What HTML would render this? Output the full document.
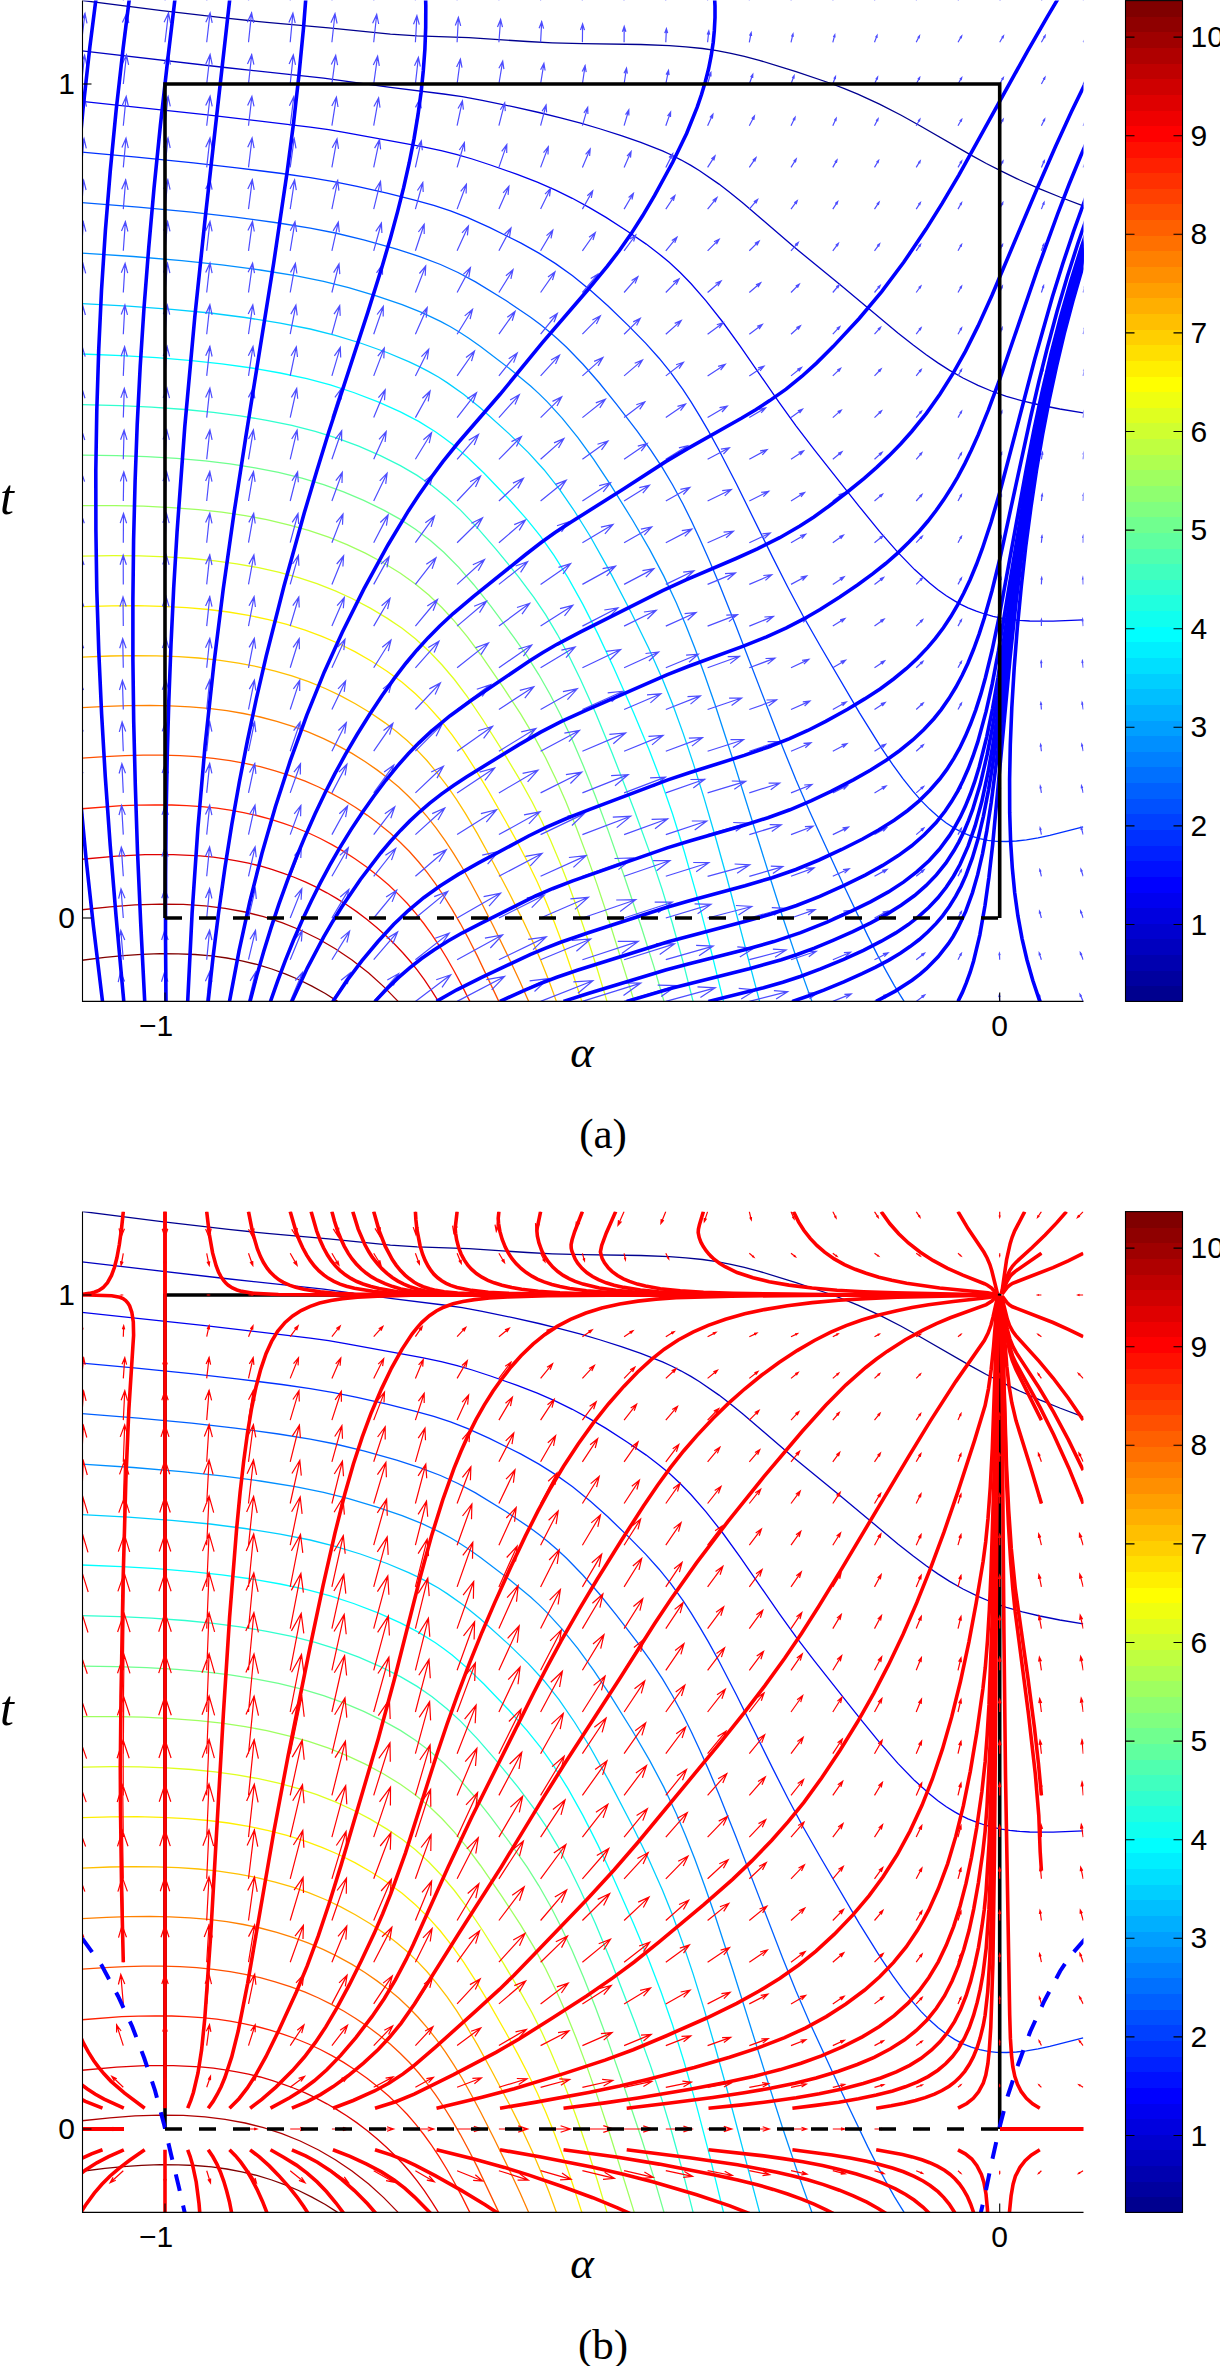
<!DOCTYPE html><html><head><meta charset="utf-8"><style>html,body{margin:0;padding:0;background:#fff}svg{display:block}</style></head><body><svg width="1220" height="2366" viewBox="0 0 1220 2366"><style>.tl{font-family:"Liberation Sans",sans-serif;font-size:30px;fill:#000}.al{font-family:"Liberation Serif",serif;font-style:italic;font-size:45px;fill:#000}.alt{font-family:"Liberation Serif",serif;font-style:italic;font-size:50px;fill:#000}.cap{font-family:"Liberation Serif",serif;font-size:43px;fill:#000}</style><rect width="1220" height="2366" fill="#fff"/><clipPath id="clipa"><rect x="82.5" y="0.6" width="1001.0" height="1000.8"/></clipPath><g clip-path="url(#clipa)"><g fill="none" stroke-width="1.3"><path d="M1083.2,205.8 L1059.8,197.0 L1039.8,188.8 L1019.7,180.0 L1001.4,171.2 L986.3,163.5 L969.7,154.4 L920.0,125.7 L901.2,115.2 L879.5,104.1 L857.8,94.1 L844.4,88.6 L831.1,83.5 L796.0,71.7 L759.3,60.3 L744.3,56.3 L730.9,53.3 L716.9,50.6 L702.5,48.5 L685.9,46.8 L669.2,45.6 L640.8,44.5 L582.4,43.7 L552.3,42.8 L527.3,41.5 L468.8,37.7 L417.1,35.9 L390.4,34.2 L328.6,27.9 L266.8,22.4 L228.4,18.4 L161.7,10.7 L83.1,0.6" stroke="#00008f"/><path d="M1083.2,412.8 L1059.8,409.0 L1039.8,405.0 L1022.4,400.9 L1006.4,396.3 L991.4,391.0 L978.0,385.4 L963.0,378.0 L949.6,370.4 L937.9,362.9 L926.2,354.8 L912.9,344.8 L897.9,332.9 L839.6,284.2 L794.4,247.3 L742.3,202.4 L729.9,192.4 L719.0,184.1 L699.6,170.7 L690.9,165.4 L680.8,159.8 L672.5,155.5 L662.5,150.9 L640.8,142.4 L621.3,135.7 L600.5,129.0 L580.7,123.2 L560.6,117.8 L538.9,112.5 L513.9,106.9 L482.2,100.4 L462.2,96.7 L443.6,94.0 L390.4,87.4 L323.6,78.2 L225.1,67.5 L81.5,50.9" stroke="#0000bf"/><path d="M1083.2,619.9 L1053.1,621.2 L1029.7,621.0 L1019.7,620.4 L1009.7,619.4 L1001.4,618.1 L993.0,616.3 L984.7,614.0 L976.3,611.2 L968.0,607.8 L961.3,604.6 L954.6,600.9 L946.3,595.7 L937.9,589.7 L929.6,583.1 L914.6,569.6 L897.9,552.4 L879.5,531.4 L859.5,506.8 L814.4,449.9 L796.0,425.8 L779.3,402.6 L740.0,345.9 L723.1,322.5 L706.0,300.8 L690.9,283.5 L680.2,272.5 L669.2,262.2 L659.1,253.9 L646.2,244.1 L627.4,231.2 L606.0,217.4 L589.0,207.4 L572.3,198.3 L555.6,190.1 L537.3,182.1 L517.2,174.4 L490.5,165.0 L472.2,159.0 L457.1,154.6 L441.2,150.7 L422.1,146.7 L347.0,132.8 L328.6,129.7 L310.2,127.1 L205.1,114.7 L81.5,101.4" stroke="#0000ef"/><path d="M1083.2,826.9 L1049.8,835.4 L1038.1,837.8 L1026.4,839.8 L1016.4,841.0 L1006.4,841.5 L996.4,841.3 L988.0,840.3 L979.7,838.7 L971.3,836.2 L963.0,832.8 L954.6,828.4 L946.3,823.0 L937.9,816.5 L929.6,809.1 L921.2,800.6 L912.9,791.2 L902.9,778.6 L892.9,764.9 L881.2,747.7 L859.5,712.8 L821.1,647.5 L802.7,615.2 L787.7,587.0 L772.7,557.4 L736.6,484.3 L718.5,449.3 L708.4,430.9 L699.6,415.9 L690.9,401.7 L682.7,389.2 L670.8,372.7 L659.1,358.2 L645.8,343.4 L628.6,325.9 L607.8,305.8 L590.7,290.5 L572.6,275.8 L555.6,263.6 L538.9,253.1 L520.6,242.9 L489.4,227.4 L467.2,217.4 L450.5,210.9 L433.8,205.4 L413.7,199.8 L387.0,193.2 L357.0,186.4 L333.6,181.6 L310.2,177.6 L281.9,173.5 L236.8,167.8 L193.4,162.9 L136.6,157.1 L81.5,152.0" stroke="#0030ff"/><path d="M904.1,1001.4 L894.5,985.8 L886.2,971.1 L877.8,955.6 L867.8,935.9 L842.8,883.5 L809.4,810.9 L796.0,780.0 L782.7,747.3 L735.4,624.4 L718.7,582.7 L708.9,559.4 L700.0,539.4 L691.4,521.0 L683.1,504.3 L672.5,484.7 L662.5,467.9 L650.8,450.1 L637.0,430.9 L616.6,404.3 L599.0,382.5 L583.0,364.2 L566.8,347.5 L557.9,339.2 L549.0,331.4 L540.0,324.2 L530.6,317.2 L506.3,300.8 L475.5,281.9 L458.0,272.5 L440.5,264.5 L420.4,256.8 L396.7,249.1 L363.7,239.9 L335.3,233.0 L310.2,228.1 L278.5,223.0 L235.1,217.1 L191.7,212.2 L138.3,207.1 L81.5,202.5" stroke="#0060ff"/><path d="M811.9,1001.4 L797.7,961.8 L782.7,917.3 L767.7,870.3 L733.5,761.2 L715.0,704.5 L704.5,674.5 L694.7,647.8 L685.5,624.4 L676.3,602.7 L663.8,576.1 L649.6,549.4 L633.1,521.0 L610.3,484.3 L593.7,459.3 L577.9,437.6 L562.3,418.3 L547.3,401.9 L538.9,393.6 L530.6,386.0 L510.6,369.4 L480.5,346.5 L468.8,338.3 L458.8,331.8 L450.5,326.8 L440.5,321.4 L422.1,312.7 L402.1,304.7 L377.0,296.1 L348.6,287.7 L323.6,281.4 L295.2,275.7 L260.2,270.0 L221.8,264.9 L181.7,260.7 L133.3,256.5 L81.5,253.0" stroke="#008fff"/><path d="M759.6,1001.4 L726.9,878.0 L715.2,836.3 L704.0,797.9 L693.1,762.9 L683.0,732.9 L672.7,704.5 L662.5,679.2 L648.5,647.8 L631.3,612.8 L608.7,569.4 L590.0,536.0 L574.4,511.0 L559.0,488.7 L544.0,469.7 L528.4,452.6 L508.9,433.6 L480.5,408.1 L463.6,394.2 L447.1,382.6 L438.8,377.3 L428.8,371.6 L418.7,366.4 L408.7,361.6 L387.0,352.5 L360.3,343.0 L335.3,335.3 L310.2,329.0 L280.2,323.1 L245.1,317.5 L210.1,313.0 L171.7,309.3 L128.3,306.1 L81.5,303.5" stroke="#00cfff"/><path d="M723.5,1001.4 L709.6,944.7 L696.5,894.6 L684.2,851.3 L672.5,813.8 L661.2,781.2 L649.0,749.5 L633.6,712.8 L613.7,667.8 L598.1,634.4 L582.9,604.4 L568.0,577.7 L554.0,555.3 L540.6,536.4 L526.9,519.3 L509.0,499.3 L483.9,473.0 L467.2,457.0 L452.1,444.1 L443.8,437.7 L435.4,431.8 L418.7,421.4 L400.4,411.8 L378.7,402.1 L353.6,392.5 L330.3,384.9 L306.9,378.7 L280.2,373.0 L251.8,368.0 L221.8,363.8 L191.7,360.6 L156.7,357.7 L121.6,355.7 L81.5,354.0" stroke="#00ffff"/><path d="M693.1,1001.4 L682.5,959.8 L672.3,923.0 L662.2,889.6 L650.5,854.6 L634.7,811.2 L612.1,752.9 L595.5,712.8 L580.5,679.5 L569.0,656.0 L557.3,634.3 L545.6,614.7 L533.9,597.3 L518.0,576.1 L496.1,549.4 L477.2,527.6 L460.5,510.1 L446.9,497.7 L432.1,485.8 L417.1,475.4 L400.4,465.6 L380.4,455.6 L358.7,446.2 L336.9,438.1 L315.2,431.3 L291.9,425.4 L266.8,420.3 L240.1,415.8 L213.4,412.3 L185.0,409.5 L151.6,407.1 L119.9,405.6 L81.5,404.6" stroke="#30ffcf"/><path d="M664.0,1001.4 L653.8,966.4 L641.6,928.0 L624.8,878.0 L607.8,829.6 L595.4,796.2 L583.5,766.2 L572.1,739.5 L560.6,715.0 L550.1,694.5 L538.9,674.8 L527.3,656.4 L514.3,637.8 L490.8,606.1 L473.8,584.7 L458.8,567.4 L443.8,552.3 L430.4,540.6 L415.4,529.2 L400.4,519.4 L383.7,510.1 L363.7,500.3 L343.6,491.8 L323.6,484.6 L301.9,478.1 L278.5,472.4 L255.1,467.8 L230.1,463.8 L205.1,460.8 L176.7,458.3 L146.6,456.6 L116.6,455.6 L81.5,455.1" stroke="#70ff8f"/><path d="M634.2,1001.4 L608.2,918.0 L597.1,884.6 L586.5,854.6 L575.8,826.3 L565.7,801.2 L555.6,778.5 L545.6,757.8 L533.9,736.1 L520.6,713.9 L502.4,686.1 L480.5,654.5 L467.2,636.7 L454.4,621.1 L442.1,607.8 L428.8,595.1 L415.4,584.0 L400.4,573.3 L383.7,563.0 L365.3,553.2 L347.0,544.6 L328.6,537.2 L308.6,530.4 L288.5,524.8 L266.8,519.7 L245.1,515.6 L221.8,512.2 L198.4,509.6 L171.7,507.6 L143.3,506.2 L114.9,505.6 L81.5,505.6" stroke="#9fff60"/><path d="M607.0,1001.4 L596.9,968.0 L587.4,938.2 L578.2,911.3 L569.0,885.8 L560.1,863.0 L550.6,840.4 L541.8,821.3 L532.3,802.3 L518.9,778.2 L502.7,751.2 L482.7,719.5 L466.9,696.2 L454.4,679.5 L442.1,665.0 L428.8,651.0 L415.4,638.8 L402.1,628.3 L387.0,618.1 L370.3,608.1 L352.0,598.5 L335.3,590.9 L316.9,583.7 L298.6,577.7 L278.5,572.2 L258.5,567.7 L236.8,563.8 L215.1,560.8 L191.7,558.5 L166.7,556.9 L140.0,555.9 L113.2,555.7 L81.5,556.1" stroke="#dfff20"/><path d="M581.8,1001.4 L572.6,973.0 L564.0,948.0 L554.6,923.0 L545.8,901.3 L537.3,882.0 L528.1,863.0 L517.7,842.9 L505.7,821.3 L488.5,791.2 L475.5,769.6 L463.8,751.4 L452.1,734.9 L440.0,719.5 L427.1,705.1 L415.4,693.7 L402.1,682.3 L387.0,671.2 L372.0,661.5 L355.3,651.9 L338.6,643.5 L321.9,636.3 L305.2,630.1 L286.9,624.4 L268.5,619.6 L248.5,615.3 L228.4,612.0 L208.4,609.5 L186.7,607.6 L161.7,606.3 L136.6,605.7 L111.6,605.8 L81.5,606.7" stroke="#ffef00"/><path d="M556.4,1001.4 L549.0,981.0 L540.6,959.9 L532.3,940.6 L522.3,919.1 L509.2,893.0 L490.7,858.0 L477.2,833.4 L465.5,813.6 L456.6,799.6 L447.1,785.9 L437.1,772.8 L427.1,760.8 L417.1,750.1 L407.1,740.6 L397.0,732.0 L385.4,723.1 L370.3,712.8 L355.3,703.7 L340.3,695.6 L325.3,688.5 L308.6,681.7 L291.9,675.9 L275.2,671.1 L256.8,666.6 L238.5,663.1 L218.4,660.1 L198.4,658.0 L178.4,656.6 L156.7,655.8 L133.3,655.6 L109.9,656.0 L81.5,657.2" stroke="#ffbf00"/><path d="M528.7,1001.4 L519.9,981.4 L509.7,959.7 L493.4,926.3 L480.7,901.3 L470.9,883.0 L462.2,867.5 L453.8,853.8 L445.5,841.1 L436.0,827.9 L427.1,816.6 L418.1,806.2 L408.7,796.5 L398.7,787.1 L388.7,778.7 L377.0,769.9 L365.3,761.8 L352.0,753.4 L336.9,745.1 L323.6,738.6 L308.6,732.1 L293.5,726.6 L276.8,721.4 L260.2,717.0 L243.5,713.5 L226.8,710.7 L208.4,708.4 L190.0,706.8 L170.0,705.8 L150.0,705.4 L128.3,705.6 L106.6,706.3 L81.5,707.7" stroke="#ff8000"/><path d="M498.8,1001.4 L477.5,956.4 L468.8,939.3 L460.5,923.8 L452.1,909.3 L443.8,896.0 L435.4,883.6 L427.1,872.3 L418.7,862.0 L409.2,851.3 L400.4,842.5 L390.4,833.3 L378.7,823.8 L367.0,815.1 L355.3,807.2 L343.6,800.0 L331.9,793.6 L318.6,787.0 L305.2,781.2 L290.2,775.6 L275.2,770.8 L260.2,766.7 L245.1,763.4 L230.1,760.7 L213.4,758.4 L196.7,756.7 L180.0,755.7 L161.7,755.2 L143.3,755.1 L124.9,755.6 L104.9,756.6 L81.5,758.2" stroke="#ff5000"/><path d="M469.8,1001.4 L462.2,986.1 L453.8,970.5 L446.7,958.0 L438.8,945.2 L431.8,934.7 L423.8,923.5 L415.4,912.9 L407.1,903.3 L398.7,894.6 L388.7,885.1 L378.7,876.5 L367.0,867.3 L355.3,859.0 L343.6,851.4 L331.9,844.6 L320.3,838.5 L308.6,833.0 L295.2,827.5 L283.5,823.3 L270.2,819.1 L256.8,815.5 L243.5,812.6 L230.1,810.1 L216.8,808.2 L201.7,806.6 L186.7,805.6 L171.7,805.0 L155.0,804.8 L138.3,805.1 L121.6,805.7 L81.5,808.8" stroke="#ff2000"/><path d="M438.4,1001.4 L432.1,991.3 L424.3,979.7 L417.1,969.9 L410.4,961.5 L403.0,953.0 L395.2,944.7 L387.0,936.7 L377.0,927.8 L367.0,919.5 L357.0,911.9 L347.0,905.0 L336.9,898.6 L326.9,892.8 L315.2,886.7 L305.2,881.9 L293.5,877.0 L283.5,873.3 L271.8,869.4 L260.2,866.0 L248.5,863.2 L236.8,860.8 L225.1,858.8 L213.4,857.2 L200.1,855.9 L173.3,854.6 L145.0,854.7 L116.6,856.1 L81.5,859.3" stroke="#df0000"/><path d="M398.1,1001.4 L383.7,986.6 L368.7,973.1 L352.0,960.0 L335.3,948.7 L318.6,939.0 L300.2,930.0 L281.9,922.6 L263.5,916.6 L245.1,912.0 L225.1,908.3 L205.1,905.8 L183.4,904.4 L160.0,904.1 L135.0,904.9 L109.9,906.8 L81.5,909.8" stroke="#af0000"/><path d="M337.6,1001.4 L325.3,993.5 L311.9,986.1 L298.6,979.5 L285.2,973.8 L271.8,969.0 L256.8,964.4 L241.8,960.8 L226.8,958.0 L211.7,955.9 L195.0,954.5 L178.4,953.8 L160.0,953.7 L141.6,954.4 L123.3,955.6 L104.9,957.4 L81.5,960.3" stroke="#800000"/></g><path d="M81.5,1001.4L77.4,972.5M75.6,982.5L77.4,972.5L81.9,981.6M81.5,959.7L77.7,930.8M75.8,940.8L77.7,930.8L82.1,939.9M81.5,918.0L78.1,889.1M76.1,899.0L78.1,889.1L82.4,898.3M81.5,876.3L78.4,847.4M76.3,857.3L78.4,847.4L82.6,856.6M81.5,834.6L78.7,805.7M76.5,815.6L78.7,805.7L82.8,814.9M81.5,792.9L79.0,764.0M76.7,773.8L79.0,764.0L83.0,773.3M81.5,751.2L79.4,722.3M76.9,732.1L79.4,722.3L83.2,731.6M81.5,709.5L79.7,680.6M77.2,690.3L79.7,680.6L83.5,689.9M81.5,667.8L80.0,638.9M77.4,648.6L80.0,638.9L83.7,648.3M81.5,626.1L80.4,597.2M77.6,606.9L80.4,597.2L83.9,606.6M81.5,584.4L80.7,555.5M77.8,565.1L80.7,555.5L84.1,565.0M81.5,542.7L81.0,513.8M78.0,523.4L81.0,513.8L84.3,523.3M81.5,501.0L81.3,472.1M78.3,481.7L81.3,472.1L84.6,481.6M81.5,459.3L81.7,430.4M78.5,439.9L81.7,430.4L84.8,440.0M81.5,417.6L82.0,388.7M78.7,398.2L82.0,388.7L85.0,398.3M81.5,375.9L82.3,347.0M78.9,356.5L82.3,347.0L85.2,356.6M81.5,334.2L82.7,305.3M79.1,314.7L82.7,305.3L85.4,315.0M81.5,292.5L83.0,263.6M79.4,273.0L83.0,263.6L85.7,273.3M81.5,250.8L83.3,221.9M79.6,231.3L83.3,221.9L85.9,231.6M81.5,209.1L83.6,180.2M79.8,189.5L83.6,180.2L86.1,190.0M81.5,167.4L84.0,138.5M80.0,147.8L84.0,138.5L86.3,148.3M81.5,125.7L84.3,96.8M80.2,106.0L84.3,96.8L86.5,106.6M81.5,84.0L84.6,55.1M80.5,64.3L84.6,55.1L86.8,65.0M81.5,42.3L85.0,13.4M80.7,22.6L85.0,13.4L87.0,23.3M81.5,0.6L85.3,-28.3M80.9,-19.2L85.3,-28.3L87.2,-18.3M123.3,1001.4L120.5,972.2M118.2,982.1L120.5,972.2L124.6,981.5M123.3,959.7L120.8,930.5M118.4,940.4L120.8,930.5L124.8,939.9M123.3,918.0L121.0,888.8M118.6,898.7L121.0,888.8L125.0,898.2M123.3,876.3L121.3,847.1M118.8,857.0L121.3,847.1L125.1,856.5M123.3,834.6L121.6,805.4M119.0,815.2L121.6,805.4L125.3,814.9M123.3,792.9L121.9,763.7M119.1,773.5L121.9,763.7L125.5,773.2M123.3,751.2L122.1,722.0M119.3,731.8L122.1,722.0L125.7,731.5M123.3,709.5L122.4,680.3M119.5,690.0L122.4,680.3L125.9,689.8M123.3,667.8L122.7,638.6M119.7,648.3L122.7,638.6L126.1,648.2M123.3,626.1L123.0,596.9M119.9,606.6L123.0,596.9L126.2,606.5M123.3,584.4L123.2,555.2M120.1,564.8L123.2,555.2L126.4,564.8M123.3,542.7L123.5,513.5M120.2,523.1L123.5,513.5L126.6,523.2M123.3,501.0L123.8,471.8M120.4,481.4L123.8,471.8L126.8,481.5M123.3,459.3L124.1,430.1M120.6,439.7L124.1,430.1L127.0,439.8M123.3,417.6L124.3,388.4M120.8,397.9L124.3,388.4L127.2,398.2M123.3,375.9L124.6,346.7M121.0,356.2L124.6,346.7L127.3,356.5M123.3,334.2L124.9,305.0M121.2,314.5L124.9,305.0L127.5,314.8M123.3,292.5L125.1,263.3M121.3,272.7L125.1,263.3L127.7,273.1M123.3,250.8L125.4,221.6M121.5,231.0L125.4,221.6L127.9,231.5M123.3,209.1L125.7,179.9M121.7,189.3L125.7,179.9L128.1,189.8M123.3,167.4L126.0,138.2M121.9,147.5L126.0,138.2L128.3,148.1M123.3,125.7L126.2,96.5M122.1,105.8L126.2,96.5L128.4,106.5M123.3,84.0L126.5,54.8M122.3,64.1L126.5,54.8L128.6,64.8M123.3,42.3L126.8,13.1M122.4,22.4L126.8,13.1L128.8,23.1M123.3,0.6L127.1,-28.6M122.6,-19.4L127.1,-28.6L129.0,-18.5M165.0,1001.4L164.6,972.0M161.5,981.7L164.6,972.0L167.9,981.6M165.0,959.7L164.8,930.3M161.6,940.0L164.8,930.3L168.1,940.0M165.0,918.0L164.9,888.6M161.8,898.3L164.9,888.6L168.2,898.3M165.0,876.3L165.1,846.9M161.9,856.6L165.1,846.9L168.3,856.6M165.0,834.6L165.3,805.2M162.0,814.9L165.3,805.2L168.4,814.9M165.0,792.9L165.4,763.5M162.1,773.1L165.4,763.5L168.5,773.2M165.0,751.2L165.6,721.8M162.2,731.4L165.6,721.8L168.6,731.6M165.0,709.5L165.8,680.1M162.3,689.7L165.8,680.1L168.7,689.9M165.0,667.8L166.0,638.4M162.4,648.0L166.0,638.4L168.8,648.2M165.0,626.1L166.1,596.7M162.5,606.3L166.1,596.7L169.0,606.5M165.0,584.4L166.3,555.0M162.7,564.5L166.3,555.0L169.1,564.8M165.0,542.7L166.5,513.3M162.8,522.8L166.5,513.3L169.2,523.1M165.0,501.0L166.6,471.6M162.9,481.1L166.6,471.6L169.3,481.5M165.0,459.3L166.8,429.9M163.0,439.4L166.8,429.9L169.4,439.8M165.0,417.6L167.0,388.2M163.1,397.7L167.0,388.2L169.5,398.1M165.0,375.9L167.1,346.5M163.2,356.0L167.1,346.5L169.6,356.4M165.0,334.2L167.3,304.8M163.3,314.2L167.3,304.8L169.7,314.7M165.0,292.5L167.5,263.1M163.4,272.5L167.5,263.1L169.9,273.1M165.0,250.8L167.6,221.4M163.6,230.8L167.6,221.4L170.0,231.4M165.0,209.1L167.8,179.7M163.7,189.1L167.8,179.7L170.1,189.7M165.0,167.4L168.0,138.0M163.8,147.4L168.0,138.0L170.2,148.0M165.0,125.7L168.1,96.3M163.9,105.6L168.1,96.3L170.3,106.3M165.0,84.0L168.3,54.6M164.0,63.9L168.3,54.6L170.4,64.6M165.0,42.3L168.5,12.9M164.1,22.2L168.5,12.9L170.5,23.0M165.0,0.6L168.6,-28.8M164.2,-19.5L168.6,-28.8L170.6,-18.7M206.7,1001.4L209.6,971.9M205.4,981.3L209.6,971.9L211.9,981.9M206.7,959.7L209.6,930.2M205.4,939.6L209.6,930.2L211.9,940.2M206.7,918.0L209.6,888.5M205.5,897.9L209.6,888.5L211.9,898.5M206.7,876.3L209.6,846.8M205.5,856.2L209.6,846.8L211.9,856.8M206.7,834.6L209.7,805.1M205.5,814.5L209.7,805.1L211.9,815.1M206.7,792.9L209.7,763.4M205.5,772.8L209.7,763.4L211.9,773.4M206.7,751.2L209.7,721.7M205.5,731.1L209.7,721.7L211.9,731.7M206.7,709.5L209.7,680.0M205.5,689.4L209.7,680.0L212.0,690.0M206.7,667.8L209.8,638.3M205.5,647.7L209.8,638.3L212.0,648.4M206.7,626.1L209.8,596.6M205.6,606.0L209.8,596.6L212.0,606.7M206.7,584.4L209.8,554.9M205.6,564.3L209.8,554.9L212.0,565.0M206.7,542.7L209.8,513.2M205.6,522.6L209.8,513.2L212.0,523.3M206.7,501.0L209.8,471.5M205.6,480.9L209.8,471.5L212.0,481.6M206.7,459.3L209.9,429.8M205.6,439.2L209.9,429.8L212.1,439.9M206.7,417.6L209.9,388.1M205.6,397.5L209.9,388.1L212.1,398.2M206.7,375.9L209.9,346.4M205.7,355.8L209.9,346.4L212.1,356.5M206.7,334.2L209.9,304.7M205.7,314.1L209.9,304.7L212.1,314.8M206.7,292.5L210.0,263.0M205.7,272.4L210.0,263.0L212.1,273.1M206.7,250.8L210.0,221.3M205.7,230.7L210.0,221.3L212.1,231.4M206.7,209.1L210.0,179.6M205.7,189.0L210.0,179.6L212.1,189.7M206.7,167.4L210.0,137.9M205.7,147.3L210.0,137.9L212.2,148.0M206.7,125.7L210.1,96.2M205.7,105.6L210.1,96.2L212.2,106.3M206.7,84.0L210.1,54.5M205.8,63.9L210.1,54.5L212.2,64.6M206.7,42.3L210.1,12.8M205.8,22.2L210.1,12.8L212.2,22.9M206.7,0.6L210.1,-28.9M205.8,-19.5L210.1,-28.9L212.2,-18.8M248.5,1001.4L255.7,972.0M250.1,980.9L255.7,972.0L256.5,982.5M248.5,959.7L255.5,930.3M250.0,939.2L255.5,930.3L256.4,940.7M248.5,918.0L255.3,888.6M249.9,897.5L255.3,888.6L256.3,899.0M248.5,876.3L255.1,846.9M249.7,855.8L255.1,846.9L256.2,857.3M248.5,834.6L255.0,805.2M249.6,814.2L255.0,805.2L256.0,815.6M248.5,792.9L254.8,763.5M249.5,772.5L254.8,763.5L255.9,773.9M248.5,751.2L254.6,721.8M249.4,730.8L254.6,721.8L255.8,732.1M248.5,709.5L254.4,680.1M249.3,689.1L254.4,680.1L255.7,690.4M248.5,667.8L254.3,638.4M249.1,647.4L254.3,638.4L255.6,648.7M248.5,626.1L254.1,596.7M249.0,605.8L254.1,596.7L255.4,607.0M248.5,584.4L253.9,555.0M248.9,564.1L253.9,555.0L255.3,565.3M248.5,542.7L253.7,513.3M248.8,522.4L253.7,513.3L255.2,523.5M248.5,501.0L253.5,471.6M248.7,480.7L253.5,471.6L255.1,481.8M248.5,459.3L253.4,429.9M248.5,439.0L253.4,429.9L255.0,440.1M248.5,417.6L253.2,388.2M248.4,397.4L253.2,388.2L254.8,398.4M248.5,375.9L253.0,346.5M248.3,355.7L253.0,346.5L254.7,356.7M248.5,334.2L252.8,304.8M248.2,314.0L252.8,304.8L254.6,314.9M248.5,292.5L252.6,263.1M248.1,272.3L252.6,263.1L254.5,273.2M248.5,250.8L252.5,221.4M247.9,230.6L252.5,221.4L254.3,231.5M248.5,209.1L252.3,179.7M247.8,189.0L252.3,179.7L254.2,189.8M248.5,167.4L252.1,138.0M247.7,147.3L252.1,138.0L254.1,148.1M248.5,125.7L251.9,96.3M247.6,105.6L251.9,96.3L254.0,106.3M248.5,84.0L251.7,54.6M247.5,63.9L251.7,54.6L253.9,64.6M248.5,42.3L251.6,12.9M247.3,22.2L251.6,12.9L253.7,22.9M248.5,0.6L251.4,-28.8M247.2,-19.4L251.4,-28.8L253.6,-18.8M290.2,1001.4L302.6,972.3M295.3,980.5L302.6,972.3L301.7,983.2M290.2,959.7L302.2,930.6M295.1,938.9L302.2,930.6L301.4,941.5M290.2,918.0L301.8,888.9M294.8,897.2L301.8,888.9L301.1,899.7M290.2,876.3L301.3,847.2M294.5,855.6L301.3,847.2L300.8,858.0M290.2,834.6L300.9,805.5M294.2,813.9L300.9,805.5L300.6,816.2M290.2,792.9L300.5,763.8M293.9,772.2L300.5,763.8L300.3,774.5M290.2,751.2L300.1,722.1M293.6,730.6L300.1,722.1L300.0,732.7M290.2,709.5L299.7,680.4M293.4,688.9L299.7,680.4L299.7,691.0M290.2,667.8L299.2,638.7M293.1,647.3L299.2,638.7L299.4,649.3M290.2,626.1L298.8,597.0M292.8,605.6L298.8,597.0L299.2,607.5M290.2,584.4L298.4,555.3M292.5,564.0L298.4,555.3L298.9,565.8M290.2,542.7L298.0,513.6M292.2,522.3L298.0,513.6L298.6,524.0M290.2,501.0L297.6,471.9M292.0,480.7L297.6,471.9L298.3,482.3M290.2,459.3L297.1,430.2M291.7,439.0L297.1,430.2L298.0,440.5M290.2,417.6L296.7,388.5M291.4,397.4L296.7,388.5L297.7,398.8M290.2,375.9L296.3,346.8M291.1,355.7L296.3,346.8L297.5,357.0M290.2,334.2L295.9,305.1M290.8,314.1L295.9,305.1L297.2,315.3M290.2,292.5L295.4,263.4M290.5,272.4L295.4,263.4L296.9,273.5M290.2,250.8L295.0,221.7M290.3,230.7L295.0,221.7L296.6,231.8M290.2,209.1L294.6,180.0M290.0,189.1L294.6,180.0L296.3,190.1M290.2,167.4L294.2,138.3M289.7,147.4L294.2,138.3L296.0,148.3M290.2,125.7L293.8,96.6M289.4,105.8L293.8,96.6L295.8,106.6M290.2,84.0L293.3,54.9M289.1,64.1L293.3,54.9L295.5,64.8M290.2,42.3L292.9,13.2M288.9,22.5L292.9,13.2L295.2,23.1M290.2,0.6L292.5,-28.5M288.6,-19.2L292.5,-28.5L294.9,-18.7M331.9,1001.4L350.3,972.8M341.1,980.2L350.3,972.8L347.3,984.2M331.9,959.7L349.6,931.1M340.7,938.6L349.6,931.1L346.9,942.5M331.9,918.0L348.9,889.4M340.2,897.0L348.9,889.4L346.4,900.7M331.9,876.3L348.3,847.7M339.8,855.4L348.3,847.7L346.0,858.9M331.9,834.6L347.6,806.0M339.3,813.7L347.6,806.0L345.6,817.1M331.9,792.9L346.9,764.3M338.9,772.1L346.9,764.3L345.1,775.4M331.9,751.2L346.3,722.6M338.4,730.5L346.3,722.6L344.7,733.6M331.9,709.5L345.6,680.9M338.0,688.8L345.6,680.9L344.2,691.8M331.9,667.8L345.0,639.2M337.6,647.2L345.0,639.2L343.8,650.1M331.9,626.1L344.3,597.5M337.1,605.6L344.3,597.5L343.3,608.3M331.9,584.4L343.6,555.8M336.7,564.0L343.6,555.8L342.9,566.5M331.9,542.7L343.0,514.1M336.2,522.3L343.0,514.1L342.5,524.7M331.9,501.0L342.3,472.4M335.8,480.7L342.3,472.4L342.0,483.0M331.9,459.3L341.7,430.7M335.3,439.1L341.7,430.7L341.6,441.2M331.9,417.6L341.0,389.0M334.9,397.4L341.0,389.0L341.1,399.4M331.9,375.9L340.3,347.3M334.4,355.8L340.3,347.3L340.7,357.6M331.9,334.2L339.7,305.6M334.0,314.2L339.7,305.6L340.2,315.9M331.9,292.5L339.0,263.9M333.6,272.6L339.0,263.9L339.8,274.1M331.9,250.8L338.3,222.2M333.1,230.9L338.3,222.2L339.3,232.3M331.9,209.1L337.7,180.5M332.7,189.3L337.7,180.5L338.9,190.6M331.9,167.4L337.0,138.8M332.2,147.7L337.0,138.8L338.5,148.8M331.9,125.7L336.4,97.1M331.8,106.1L336.4,97.1L338.0,107.0M331.9,84.0L335.7,55.4M331.3,64.4L335.7,55.4L337.6,65.2M331.9,42.3L335.0,13.7M330.9,22.8L335.0,13.7L337.1,23.5M331.9,0.6L334.4,-28.0M330.5,-18.8L334.4,-28.0L336.7,-18.3M373.7,1001.4L398.6,973.6M387.3,980.1L398.6,973.6L393.4,985.5M373.7,959.7L397.6,931.9M386.7,938.5L397.6,931.9L392.8,943.7M373.7,918.0L396.7,890.2M386.1,896.9L396.7,890.2L392.1,901.9M373.7,876.3L395.7,848.5M385.4,855.3L395.7,848.5L391.5,860.1M373.7,834.6L394.8,806.8M384.8,813.7L394.8,806.8L390.8,818.3M373.7,792.9L393.8,765.1M384.1,772.1L393.8,765.1L390.2,776.5M373.7,751.2L392.9,723.4M383.5,730.5L392.9,723.4L389.6,734.7M373.7,709.5L391.9,681.7M382.9,688.9L391.9,681.7L388.9,692.9M373.7,667.8L391.0,640.0M382.2,647.3L391.0,640.0L388.3,651.1M373.7,626.1L390.0,598.3M381.6,605.7L390.0,598.3L387.6,609.2M373.7,584.4L389.1,556.6M380.9,564.1L389.1,556.6L387.0,567.4M373.7,542.7L388.1,514.9M380.3,522.5L388.1,514.9L386.4,525.6M373.7,501.0L387.1,473.2M379.7,480.9L387.1,473.2L385.7,483.8M373.7,459.3L386.2,431.5M379.0,439.3L386.2,431.5L385.1,442.0M373.7,417.6L385.2,389.8M378.4,397.7L385.2,389.8L384.5,400.2M373.7,375.9L384.3,348.1M377.8,356.1L384.3,348.1L383.8,358.4M373.7,334.2L383.3,306.4M377.1,314.5L383.3,306.4L383.2,316.6M373.7,292.5L382.4,264.7M376.5,272.9L382.4,264.7L382.5,274.8M373.7,250.8L381.4,223.0M375.8,231.3L381.4,223.0L381.9,233.0M373.7,209.1L380.5,181.3M375.2,189.7L380.5,181.3L381.3,191.2M373.7,167.4L379.5,139.6M374.6,148.1L379.5,139.6L380.6,149.4M373.7,125.7L378.6,97.9M373.9,106.5L378.6,97.9L380.0,107.6M373.7,84.0L377.6,56.2M373.3,64.9L377.6,56.2L379.3,65.8M373.7,42.3L376.7,14.5M372.6,23.3L376.7,14.5L378.7,24.0M373.7,0.6L375.7,-27.2M372.0,-18.3L375.7,-27.2L378.1,-17.8M415.4,1001.4L450.7,974.8M436.2,979.7L450.7,974.8L442.0,987.4M415.4,959.7L449.2,933.1M435.2,938.2L449.2,933.1L441.0,945.5M415.4,918.0L447.8,891.4M434.2,896.6L447.8,891.4L440.0,903.7M415.4,876.3L446.3,849.7M433.2,855.1L446.3,849.7L439.0,861.8M415.4,834.6L444.8,808.0M432.2,813.6L444.8,808.0L438.0,820.0M415.4,792.9L443.4,766.3M431.2,772.0L443.4,766.3L437.0,778.1M415.4,751.2L441.9,724.6M430.3,730.5L441.9,724.6L436.1,736.2M415.4,709.5L440.4,682.9M429.3,688.9L440.4,682.9L435.1,694.4M415.4,667.8L439.0,641.2M428.3,647.4L439.0,641.2L434.1,652.5M415.4,626.1L437.5,599.5M427.3,605.9L437.5,599.5L433.1,610.7M415.4,584.4L436.0,557.8M426.3,564.3L436.0,557.8L432.1,568.8M415.4,542.7L434.5,516.1M425.3,522.8L434.5,516.1L431.1,526.9M415.4,501.0L433.1,474.4M424.3,481.2L433.1,474.4L430.1,485.1M415.4,459.3L431.6,432.7M423.4,439.7L431.6,432.7L429.2,443.2M415.4,417.6L430.1,391.0M422.4,398.2L430.1,391.0L428.2,401.4M415.4,375.9L428.7,349.3M421.4,356.6L428.7,349.3L427.2,359.5M415.4,334.2L427.2,307.6M420.4,315.1L427.2,307.6L426.2,317.6M415.4,292.5L425.7,265.9M419.4,273.5L425.7,265.9L425.2,275.8M415.4,250.8L424.2,224.2M418.4,232.0L424.2,224.2L424.2,233.9M415.4,209.1L422.8,182.5M417.4,190.5L422.8,182.5L423.2,192.1M415.4,167.4L421.3,140.8M416.5,148.9L421.3,140.8L422.3,150.2M415.4,125.7L419.8,99.1M415.5,107.4L419.8,99.1L421.3,108.3M415.4,84.0L418.4,57.4M414.5,65.8L418.4,57.4L420.3,66.5M415.4,42.3L416.9,15.7M413.5,24.3L416.9,15.7L419.3,24.6M415.4,0.6L415.4,-26.0M412.5,-17.2L415.4,-26.0L418.3,-17.2M457.1,1001.4L504.6,976.5M486.3,979.6L504.6,976.5L491.7,989.9M457.1,959.7L502.6,934.8M484.9,938.1L502.6,934.8L490.3,948.0M457.1,918.0L500.6,893.1M483.6,896.6L500.6,893.1L489.0,906.1M457.1,876.3L498.6,851.4M482.2,855.1L498.6,851.4L487.6,864.2M457.1,834.6L496.6,809.7M480.9,813.6L496.6,809.7L486.3,822.2M457.1,792.9L494.6,768.0M479.5,772.2L494.6,768.0L484.9,780.3M457.1,751.2L492.6,726.3M478.2,730.7L492.6,726.3L483.6,738.4M457.1,709.5L490.6,684.6M476.8,689.2L490.6,684.6L482.2,696.5M457.1,667.8L488.5,642.9M475.5,647.7L488.5,642.9L480.9,654.6M457.1,626.1L486.5,601.2M474.1,606.2L486.5,601.2L479.5,612.6M457.1,584.4L484.5,559.5M472.8,564.8L484.5,559.5L478.2,570.7M457.1,542.7L482.5,517.8M471.4,523.3L482.5,517.8L476.8,528.8M457.1,501.0L480.5,476.1M470.1,481.8L480.5,476.1L475.5,486.9M457.1,459.3L478.5,434.4M468.7,440.3L478.5,434.4L474.2,445.0M457.1,417.6L476.5,392.7M467.4,398.8L476.5,392.7L472.8,403.1M457.1,375.9L474.5,351.0M466.0,357.4L474.5,351.0L471.5,361.1M457.1,334.2L472.5,309.3M464.7,315.9L472.5,309.3L470.1,319.2M457.1,292.5L470.4,267.6M463.3,274.4L470.4,267.6L468.8,277.3M457.1,250.8L468.4,225.9M462.0,232.9L468.4,225.9L467.4,235.4M457.1,209.1L466.4,184.2M460.7,191.4L466.4,184.2L466.1,193.5M457.1,167.4L464.4,142.5M459.3,150.0L464.4,142.5L464.7,151.5M457.1,125.7L462.4,100.8M458.0,108.5L462.4,100.8L463.4,109.6M457.1,84.0L460.4,59.1M456.6,67.0L460.4,59.1L462.0,67.7M457.1,42.3L458.4,17.4M455.3,25.5L458.4,17.4L460.7,25.8M457.1,0.6L456.4,-24.3M453.9,-16.0L456.4,-24.3L459.3,-16.1M498.9,1001.4L548.4,978.6M529.6,980.8L548.4,978.6L534.5,991.5M498.9,959.7L546.3,936.9M528.2,939.3L546.3,936.9L533.1,949.6M498.9,918.0L544.2,895.2M526.8,897.8L544.2,895.2L531.7,907.7M498.9,876.3L542.1,853.5M525.4,856.3L542.1,853.5L530.3,865.8M498.9,834.6L540.1,811.8M524.0,814.9L540.1,811.8L528.9,823.8M498.9,792.9L538.0,770.1M522.6,773.4L538.0,770.1L527.6,781.9M498.9,751.2L535.9,728.4M521.2,731.9L535.9,728.4L526.2,740.0M498.9,709.5L533.8,686.7M519.8,690.4L533.8,686.7L524.8,698.1M498.9,667.8L531.7,645.0M518.4,649.0L531.7,645.0L523.4,656.1M498.9,626.1L529.7,603.3M517.0,607.5L529.7,603.3L522.0,614.2M498.9,584.4L527.6,561.6M515.6,566.0L527.6,561.6L520.6,572.3M498.9,542.7L525.5,519.9M514.2,524.6L525.5,519.9L519.2,530.4M498.9,501.0L523.4,478.2M512.9,483.1L523.4,478.2L517.8,488.4M498.9,459.3L521.4,436.5M511.5,441.6L521.4,436.5L516.4,446.5M498.9,417.6L519.3,394.8M510.1,400.1L519.3,394.8L515.0,404.6M498.9,375.9L517.2,353.1M508.7,358.7L517.2,353.1L513.6,362.6M498.9,334.2L515.1,311.4M507.3,317.2L515.1,311.4L512.2,320.7M498.9,292.5L513.0,269.7M505.9,275.7L513.0,269.7L510.9,278.8M498.9,250.8L511.0,228.0M504.5,234.2L511.0,228.0L509.5,236.9M498.9,209.1L508.9,186.3M503.1,192.8L508.9,186.3L508.1,194.9M498.9,167.4L506.8,144.6M501.7,151.3L506.8,144.6L506.7,153.0M498.9,125.7L504.7,102.9M500.3,109.8L504.7,102.9L505.3,111.1M498.9,84.0L502.7,61.2M498.9,68.3L502.7,61.2L503.9,69.2M498.9,42.3L500.6,19.5M497.5,26.9L500.6,19.5L502.5,27.2M498.9,0.6L498.5,-22.2M496.2,-14.6L498.5,-22.2L501.1,-14.7M540.6,1001.4L592.9,980.7M573.4,981.9L592.9,980.7L577.9,993.2M540.6,959.7L590.7,939.0M571.9,940.4L590.7,939.0L576.4,951.3M540.6,918.0L588.4,897.3M570.4,898.9L588.4,897.3L574.9,909.4M540.6,876.3L586.2,855.6M568.9,857.5L586.2,855.6L573.4,867.4M540.6,834.6L584.0,813.9M567.4,816.0L584.0,813.9L571.9,825.5M540.6,792.9L581.8,772.2M565.9,774.6L581.8,772.2L570.4,783.5M540.6,751.2L579.5,730.5M564.4,733.1L579.5,730.5L568.9,741.6M540.6,709.5L577.3,688.8M562.9,691.7L577.3,688.8L567.4,699.6M540.6,667.8L575.1,647.1M561.4,650.2L575.1,647.1L566.0,657.7M540.6,626.1L572.8,605.4M560.0,608.7L572.8,605.4L564.5,615.8M540.6,584.4L570.6,563.7M558.5,567.3L570.6,563.7L563.0,573.8M540.6,542.7L568.4,522.0M557.0,525.8L568.4,522.0L561.5,531.9M540.6,501.0L566.2,480.3M555.5,484.4L566.2,480.3L560.0,489.9M540.6,459.3L563.9,438.6M554.0,442.9L563.9,438.6L558.5,448.0M540.6,417.6L561.7,396.9M552.5,401.4L561.7,396.9L557.0,406.0M540.6,375.9L559.5,355.2M551.0,360.0L559.5,355.2L555.5,364.1M540.6,334.2L557.3,313.5M549.5,318.5L557.3,313.5L554.0,322.2M540.6,292.5L555.0,271.8M548.0,277.1L555.0,271.8L552.5,280.2M540.6,250.8L552.8,230.1M546.5,235.6L552.8,230.1L551.0,238.3M540.6,209.1L550.6,188.4M545.0,194.2L550.6,188.4L549.5,196.3M540.6,167.4L548.3,146.7M543.5,152.7L548.3,146.7L548.0,154.4M540.6,125.7L546.1,105.0M542.1,111.2L546.1,105.0L546.6,112.4M540.6,84.0L543.9,63.3M540.6,69.8L543.9,63.3L545.1,70.5M540.6,42.3L541.7,21.6M539.1,28.3L541.7,21.6L543.6,28.6M540.6,0.6L539.4,-20.1M537.6,-13.1L539.4,-20.1L542.1,-13.4M582.4,1001.4L640.8,983.1M619.5,982.8L640.8,983.1L623.5,995.5M582.4,959.7L638.3,941.4M617.8,941.4L638.3,941.4L621.8,953.6M582.4,918.0L635.8,899.7M616.2,900.0L635.8,899.7L620.1,911.6M582.4,876.3L633.2,858.0M614.5,858.5L633.2,858.0L618.4,869.6M582.4,834.6L630.7,816.3M612.8,817.1L630.7,816.3L616.7,827.6M582.4,792.9L628.2,774.6M611.1,775.7L628.2,774.6L615.0,785.7M582.4,751.2L625.6,732.9M609.4,734.3L625.6,732.9L613.3,743.7M582.4,709.5L623.1,691.2M607.7,692.8L623.1,691.2L611.6,701.7M582.4,667.8L620.6,649.5M606.0,651.4L620.6,649.5L610.0,659.7M582.4,626.1L618.0,607.8M604.3,610.0L618.0,607.8L608.3,617.8M582.4,584.4L615.5,566.1M602.6,568.6L615.5,566.1L606.6,575.8M582.4,542.7L613.0,524.4M600.9,527.1L613.0,524.4L604.9,533.8M582.4,501.0L610.5,482.7M599.2,485.7L610.5,482.7L603.2,491.8M582.4,459.3L607.9,441.0M597.5,444.3L607.9,441.0L601.5,449.9M582.4,417.6L605.4,399.3M595.8,402.9L605.4,399.3L599.8,407.9M582.4,375.9L602.9,357.6M594.1,361.4L602.9,357.6L598.1,365.9M582.4,334.2L600.3,315.9M592.4,320.0L600.3,315.9L596.4,323.9M582.4,292.5L597.8,274.2M590.7,278.6L597.8,274.2L594.7,282.0M582.4,250.8L595.3,232.5M589.0,237.2L595.3,232.5L593.0,240.0M582.4,209.1L592.7,190.8M587.3,195.7L592.7,190.8L591.3,198.0M582.4,167.4L590.2,149.1M585.6,154.3L590.2,149.1L589.6,156.0M582.4,125.7L587.7,107.4M583.9,112.9L587.7,107.4L587.9,114.1M582.4,84.0L585.1,65.7M582.2,71.5L585.1,65.7L586.2,72.1M582.4,42.3L582.6,24.0M580.5,30.0L582.6,24.0L584.5,30.1M582.4,0.6L580.1,-17.7M578.8,-11.4L580.1,-17.7L582.8,-11.9M624.1,1001.4L676.9,985.6M657.7,985.1L676.9,985.6L661.2,996.6M624.1,959.7L674.6,943.9M656.2,943.6L674.6,943.9L659.7,954.6M624.1,918.0L672.3,902.2M654.7,902.2L672.3,902.2L658.1,912.7M624.1,876.3L670.0,860.5M653.1,860.7L670.0,860.5L656.6,870.7M624.1,834.6L667.7,818.8M651.6,819.3L667.7,818.8L655.0,828.8M624.1,792.9L665.4,777.1M650.1,777.8L665.4,777.1L653.5,786.8M624.1,751.2L663.1,735.4M648.5,736.4L663.1,735.4L652.0,744.9M624.1,709.5L660.9,693.7M647.0,694.9L660.9,693.7L650.4,702.9M624.1,667.8L658.6,652.0M645.5,653.5L658.6,652.0L648.9,661.0M624.1,626.1L656.3,610.3M643.9,612.0L656.3,610.3L647.4,619.0M624.1,584.4L654.0,568.6M642.4,570.6L654.0,568.6L645.8,577.1M624.1,542.7L651.7,526.9M640.9,529.1L651.7,526.9L644.3,535.1M624.1,501.0L649.4,485.2M639.3,487.7L649.4,485.2L642.8,493.2M624.1,459.3L647.1,443.5M637.8,446.2L647.1,443.5L641.2,451.2M624.1,417.6L644.8,401.8M636.3,404.8L644.8,401.8L639.7,409.3M624.1,375.9L642.5,360.1M634.7,363.3L642.5,360.1L638.2,367.3M624.1,334.2L640.2,318.4M633.2,321.9L640.2,318.4L636.6,325.4M624.1,292.5L637.9,276.7M631.6,280.4L637.9,276.7L635.1,283.4M624.1,250.8L635.7,235.0M630.1,239.0L635.7,235.0L633.6,241.5M624.1,209.1L633.4,193.3M628.6,197.5L633.4,193.3L632.0,199.5M624.1,167.4L631.1,151.6M627.0,156.1L631.1,151.6L630.5,157.6M624.1,125.7L628.8,109.9M625.5,114.6L628.8,109.9L628.9,115.6M624.1,84.0L626.5,68.2M624.0,73.2L626.5,68.2L627.4,73.7M624.1,42.3L624.2,26.5M622.4,31.7L624.2,26.5L625.9,31.7M624.1,0.6L621.9,-15.2M620.9,-9.7L621.9,-15.2L624.3,-10.2M665.8,1001.4L715.3,987.8M697.5,986.9L715.3,987.8L700.4,997.6M665.8,959.7L713.2,946.1M696.1,945.4L713.2,946.1L699.0,955.7M665.8,918.0L711.0,904.4M694.6,903.9L711.0,904.4L697.6,913.8M665.8,876.3L708.9,862.7M693.2,862.5L708.9,862.7L696.2,871.8M665.8,834.6L706.8,821.0M691.8,821.0L706.8,821.0L694.7,829.9M665.8,792.9L704.7,779.3M690.4,779.5L704.7,779.3L693.3,788.0M665.8,751.2L702.5,737.6M688.9,738.1L702.5,737.6L691.9,746.1M665.8,709.5L700.4,695.9M687.5,696.6L700.4,695.9L690.5,704.1M665.8,667.8L698.3,654.2M686.1,655.1L698.3,654.2L689.0,662.2M665.8,626.1L696.1,612.5M684.6,613.7L696.1,612.5L687.6,620.3M665.8,584.4L694.0,570.8M683.2,572.2L694.0,570.8L686.2,578.3M665.8,542.7L691.9,529.1M681.8,530.7L691.9,529.1L684.8,536.4M665.8,501.0L689.8,487.4M680.4,489.3L689.8,487.4L683.3,494.5M665.8,459.3L687.6,445.7M678.9,447.8L687.6,445.7L681.9,452.5M665.8,417.6L685.5,404.0M677.5,406.3L685.5,404.0L680.5,410.6M665.8,375.9L683.4,362.3M676.1,364.8L683.4,362.3L679.1,368.7M665.8,334.2L681.2,320.6M674.7,323.4L681.2,320.6L677.6,326.7M665.8,292.5L679.1,278.9M673.2,281.9L679.1,278.9L676.2,284.8M665.8,250.8L677.0,237.2M671.8,240.4L677.0,237.2L674.8,242.9M665.8,209.1L674.9,195.5M670.4,199.0L674.9,195.5L673.4,200.9M665.8,167.4L672.7,153.8M669.0,157.5L672.7,153.8L671.9,159.0M665.8,125.7L670.6,112.1M667.5,116.0L670.6,112.1L670.5,117.1M665.8,84.0L668.5,70.4M666.1,74.6L668.5,70.4L669.1,75.1M665.8,42.3L666.4,28.7M664.7,33.1L666.4,28.7L667.7,33.2M665.8,0.6L664.2,-13.0M663.3,-8.4L664.2,-13.0L666.2,-8.7M707.6,1001.4L755.9,989.9M738.7,988.4L755.9,989.9L741.2,999.0M707.6,959.7L753.8,948.2M737.3,946.9L753.8,948.2L739.8,957.0M707.6,918.0L751.8,906.5M735.9,905.5L751.8,906.5L738.5,915.1M707.6,876.3L749.8,864.8M734.6,864.0L749.8,864.8L737.1,873.2M707.6,834.6L747.7,823.1M733.2,822.5L747.7,823.1L735.7,831.3M707.6,792.9L745.7,781.4M731.8,781.0L745.7,781.4L734.3,789.3M707.6,751.2L743.6,739.7M730.5,739.6L743.6,739.7L733.0,747.4M707.6,709.5L741.6,698.0M729.1,698.1L741.6,698.0L731.6,705.5M707.6,667.8L739.5,656.3M727.7,656.6L739.5,656.3L730.2,663.6M707.6,626.1L737.5,614.6M726.3,615.1L737.5,614.6L728.9,621.6M707.6,584.4L735.4,572.9M725.0,573.7L735.4,572.9L727.5,579.7M707.6,542.7L733.4,531.2M723.6,532.2L733.4,531.2L726.1,537.8M707.6,501.0L731.3,489.5M722.2,490.7L731.3,489.5L724.7,495.9M707.6,459.3L729.3,447.8M720.9,449.2L729.3,447.8L723.4,454.0M707.6,417.6L727.2,406.1M719.5,407.7L727.2,406.1L722.0,412.0M707.6,375.9L725.2,364.4M718.1,366.3L725.2,364.4L720.6,370.1M707.6,334.2L723.2,322.7M716.8,324.8L723.2,322.7L719.3,328.2M707.6,292.5L721.1,281.0M715.4,283.3L721.1,281.0L717.9,286.3M707.6,250.8L719.1,239.3M714.0,241.8L719.1,239.3L716.5,244.3M707.6,209.1L717.0,197.6M712.6,200.4L717.0,197.6L715.1,202.4M707.6,167.4L715.0,155.9M711.3,158.9L715.0,155.9L713.8,160.5M707.6,125.7L712.9,114.2M709.9,117.4L712.9,114.2L712.4,118.6M707.6,84.0L710.9,72.5M708.5,75.9L710.9,72.5L711.0,76.6M707.6,42.3L708.8,30.8M707.2,34.4L708.8,30.8L709.7,34.7M707.6,0.6L706.8,-10.9M705.8,-7.0L706.8,-10.9L708.3,-7.2M749.3,1001.4L787.7,991.7M773.9,990.7L787.7,991.7L776.1,999.1M749.3,959.7L786.1,950.0M772.9,949.2L786.1,950.0L775.0,957.2M749.3,918.0L784.5,908.3M771.8,907.7L784.5,908.3L773.9,915.3M749.3,876.3L782.9,866.6M770.8,866.2L782.9,866.6L772.9,873.5M749.3,834.6L781.3,824.9M769.7,824.6L781.3,824.9L771.8,831.6M749.3,792.9L779.7,783.2M768.6,783.1L779.7,783.2L770.7,789.7M749.3,751.2L778.2,741.5M767.6,741.6L778.2,741.5L769.7,747.9M749.3,709.5L776.6,699.8M766.5,700.0L776.6,699.8L768.6,706.0M749.3,667.8L775.0,658.1M765.5,658.5L775.0,658.1L767.6,664.1M749.3,626.1L773.4,616.4M764.4,617.0L773.4,616.4L766.5,622.2M749.3,584.4L771.8,574.7M763.3,575.5L771.8,574.7L765.4,580.4M749.3,542.7L770.2,533.0M762.3,533.9L770.2,533.0L764.4,538.5M749.3,501.0L768.7,491.3M761.2,492.4L768.7,491.3L763.3,496.6M749.3,459.3L767.1,449.6M760.1,450.9L767.1,449.6L762.3,454.8M749.3,417.6L765.5,407.9M759.1,409.4L765.5,407.9L761.2,412.9M749.3,375.9L763.9,366.2M758.0,367.8L763.9,366.2L760.1,371.0M749.3,334.2L762.3,324.5M757.0,326.3L762.3,324.5L759.1,329.1M749.3,292.5L760.7,282.8M755.9,284.8L760.7,282.8L758.0,287.3M749.3,250.8L759.1,241.1M754.8,243.2L759.1,241.1L756.9,245.4M749.3,209.1L757.6,199.4M753.8,201.7L757.6,199.4L755.9,203.5M749.3,167.4L756.0,157.7M752.7,160.2L756.0,157.7L754.8,161.6M749.3,125.7L754.4,116.0M751.7,118.7L754.4,116.0L753.8,119.8M749.3,84.0L752.8,74.3M750.6,77.1L752.8,74.3L752.7,77.9M749.3,42.3L751.2,32.6M749.5,35.6L751.2,32.6L751.6,36.0M749.3,0.6L749.6,-9.1M748.5,-5.9L749.6,-9.1L750.6,-5.8M791.0,1001.4L817.3,993.0M807.7,992.9L817.3,993.0L809.5,998.7M791.0,959.7L816.2,951.3M807.0,951.4L816.2,951.3L808.8,956.8M791.0,918.0L815.2,909.6M806.3,909.8L815.2,909.6L808.1,915.0M791.0,876.3L814.1,867.9M805.6,868.2L814.1,867.9L807.4,873.2M791.0,834.6L813.1,826.2M804.9,826.6L813.1,826.2L806.7,831.4M791.0,792.9L812.0,784.5M804.2,785.0L812.0,784.5L806.0,789.6M791.0,751.2L811.0,742.8M803.5,743.4L811.0,742.8L805.3,747.8M791.0,709.5L809.9,701.1M802.8,701.8L809.9,701.1L804.6,706.0M791.0,667.8L808.8,659.4M802.1,660.3L808.8,659.4L803.9,664.1M791.0,626.1L807.8,617.7M801.3,618.7L807.8,617.7L803.2,622.3M791.0,584.4L806.7,576.0M800.6,577.1L806.7,576.0L802.5,580.5M791.0,542.7L805.7,534.3M799.9,535.5L805.7,534.3L801.8,538.7M791.0,501.0L804.6,492.6M799.2,493.9L804.6,492.6L801.0,496.9M791.0,459.3L803.6,450.9M798.5,452.3L803.6,450.9L800.3,455.1M791.0,417.6L802.5,409.2M797.8,410.7L802.5,409.2L799.6,413.2M791.0,375.9L801.5,367.5M797.1,369.2L801.5,367.5L798.9,371.4M791.0,334.2L800.4,325.8M796.4,327.6L800.4,325.8L798.2,329.6M791.0,292.5L799.3,284.1M795.7,286.0L799.3,284.1L797.5,287.8M791.0,250.8L798.3,242.4M795.0,244.4L798.3,242.4L796.8,246.0M791.0,209.1L797.2,200.7M794.3,202.8L797.2,200.7L796.1,204.2M791.0,167.4L796.2,159.0M793.6,161.2L796.2,159.0L795.4,162.4M791.0,125.7L795.1,117.3M792.9,119.6L795.1,117.3L794.7,120.5M791.0,84.0L794.1,75.6M792.2,78.1L794.1,75.6L794.0,78.7M791.0,42.3L793.0,33.9M791.4,36.5L793.0,33.9L793.3,36.9M791.0,0.6L792.0,-7.8M790.7,-5.1L792.0,-7.8L792.6,-4.9M832.8,1001.4L851.3,993.9M844.4,994.3L851.3,993.9L846.0,998.4M832.8,959.7L850.6,952.2M843.9,952.7L850.6,952.2L845.5,956.6M832.8,918.0L849.9,910.5M843.4,911.1L849.9,910.5L845.1,914.8M832.8,876.3L849.2,868.8M842.9,869.5L849.2,868.8L844.6,873.1M832.8,834.6L848.5,827.1M842.5,827.9L848.5,827.1L844.1,831.3M832.8,792.9L847.7,785.4M842.0,786.2L847.7,785.4L843.6,789.5M832.8,751.2L847.0,743.7M841.5,744.6L847.0,743.7L843.1,747.7M832.8,709.5L846.3,702.0M841.0,703.0L846.3,702.0L842.6,705.9M832.8,667.8L845.6,660.3M840.5,661.4L845.6,660.3L842.2,664.2M832.8,626.1L844.9,618.6M840.1,619.8L844.9,618.6L841.7,622.4M832.8,584.4L844.1,576.9M839.6,578.1L844.1,576.9L841.2,580.6M832.8,542.7L843.4,535.2M839.1,536.5L843.4,535.2L840.7,538.8M832.8,501.0L842.7,493.5M838.6,494.9L842.7,493.5L840.2,497.1M832.8,459.3L842.0,451.8M838.1,453.3L842.0,451.8L839.8,455.3M832.8,417.6L841.3,410.1M837.6,411.6L841.3,410.1L839.3,413.5M832.8,375.9L840.6,368.4M837.2,370.0L840.6,368.4L838.8,371.7M832.8,334.2L839.8,326.7M836.7,328.4L839.8,326.7L838.3,329.9M832.8,292.5L839.1,285.0M836.2,286.8L839.1,285.0L837.8,288.2M832.8,250.8L838.4,243.3M835.7,245.2L838.4,243.3L837.4,246.4M832.8,209.1L837.7,201.6M835.2,203.5L837.7,201.6L836.9,204.6M832.8,167.4L837.0,159.9M834.8,161.9L837.0,159.9L836.4,162.8M832.8,125.7L836.2,118.2M834.3,120.3L836.2,118.2L835.9,121.1M832.8,84.0L835.5,76.5M833.8,78.7L835.5,76.5L835.4,79.3M832.8,42.3L834.8,34.8M833.3,37.0L834.8,34.8L835.0,37.5M832.8,0.6L834.1,-6.9M832.8,-4.6L834.1,-6.9L834.5,-4.3M874.5,1001.4L888.6,994.5M883.2,995.3L888.6,994.5L884.7,998.3M874.5,959.7L888.1,952.8M882.8,953.6L888.1,952.8L884.3,956.6M874.5,918.0L887.6,911.1M882.5,912.0L887.6,911.1L884.0,914.8M874.5,876.3L887.1,869.4M882.2,870.3L887.1,869.4L883.7,873.1M874.5,834.6L886.6,827.7M881.8,828.7L886.6,827.7L883.3,831.3M874.5,792.9L886.1,786.0M881.5,787.0L886.1,786.0L883.0,789.5M874.5,751.2L885.6,744.3M881.2,745.4L885.6,744.3L882.7,747.8M874.5,709.5L885.1,702.6M880.8,703.7L885.1,702.6L882.3,706.0M874.5,667.8L884.6,660.9M880.5,662.1L884.6,660.9L882.0,664.3M874.5,626.1L884.1,619.2M880.2,620.4L884.1,619.2L881.7,622.5M874.5,584.4L883.6,577.5M879.8,578.8L883.6,577.5L881.3,580.8M874.5,542.7L883.1,535.8M879.5,537.2L883.1,535.8L881.0,539.0M874.5,501.0L882.6,494.1M879.1,495.5L882.6,494.1L880.7,497.3M874.5,459.3L882.1,452.4M878.8,453.9L882.1,452.4L880.3,455.5M874.5,417.6L881.6,410.7M878.5,412.2L881.6,410.7L880.0,413.8M874.5,375.9L881.1,369.0M878.1,370.6L881.1,369.0L879.6,372.0M874.5,334.2L880.6,327.3M877.8,328.9L880.6,327.3L879.3,330.2M874.5,292.5L880.1,285.6M877.5,287.3L880.1,285.6L879.0,288.5M874.5,250.8L879.6,243.9M877.1,245.6L879.6,243.9L878.6,246.7M874.5,209.1L879.1,202.2M876.8,204.0L879.1,202.2L878.3,205.0M874.5,167.4L878.6,160.5M876.5,162.3L878.6,160.5L878.0,163.2M874.5,125.7L878.1,118.8M876.1,120.7L878.1,118.8L877.6,121.5M874.5,84.0L877.6,77.1M875.8,79.1L877.6,77.1L877.3,79.7M874.5,42.3L877.1,35.4M875.5,37.4L877.1,35.4L877.0,38.0M874.5,0.6L876.6,-6.3M875.1,-4.2L876.6,-6.3L876.6,-3.8M916.2,1001.4L924.8,994.9M921.3,996.1L924.8,994.9L922.7,998.0M916.2,959.7L924.6,953.2M921.1,954.4L924.6,953.2L922.6,956.2M916.2,918.0L924.4,911.5M921.0,912.7L924.4,911.5L922.4,914.5M916.2,876.3L924.1,869.8M920.8,871.1L924.1,869.8L922.2,872.8M916.2,834.6L923.9,828.1M920.7,829.4L923.9,828.1L922.1,831.1M916.2,792.9L923.7,786.4M920.5,787.7L923.7,786.4L921.9,789.3M916.2,751.2L923.4,744.7M920.4,746.0L923.4,744.7L921.8,747.6M916.2,709.5L923.2,703.0M920.2,704.4L923.2,703.0L921.6,705.9M916.2,667.8L923.0,661.3M920.0,662.7L923.0,661.3L921.5,664.2M916.2,626.1L922.7,619.6M919.9,621.0L922.7,619.6L921.3,622.4M916.2,584.4L922.5,577.9M919.7,579.3L922.5,577.9L921.1,580.7M916.2,542.7L922.3,536.2M919.6,537.7L922.3,536.2L921.0,539.0M916.2,501.0L922.0,494.5M919.4,496.0L922.0,494.5L920.8,497.3M916.2,459.3L921.8,452.8M919.3,454.3L921.8,452.8L920.7,455.5M916.2,417.6L921.6,411.1M919.1,412.6L921.6,411.1L920.5,413.8M916.2,375.9L921.3,369.4M918.9,371.0L921.3,369.4L920.4,372.1M916.2,334.2L921.1,327.7M918.8,329.3L921.1,327.7L920.2,330.4M916.2,292.5L920.9,286.0M918.6,287.6L920.9,286.0L920.0,288.6M916.2,250.8L920.6,244.3M918.5,246.0L920.6,244.3L919.9,246.9M916.2,209.1L920.4,202.6M918.3,204.3L920.4,202.6L919.7,205.2M916.2,167.4L920.2,160.9M918.2,162.6L920.2,160.9L919.6,163.5M916.2,125.7L919.9,119.2M918.0,120.9L919.9,119.2L919.4,121.7M916.2,84.0L919.7,77.5M917.8,79.3L919.7,77.5L919.3,80.0M916.2,42.3L919.5,35.8M917.7,37.6L919.5,35.8L919.1,38.3M916.2,0.6L919.2,-5.9M917.5,-4.1L919.2,-5.9L919.0,-3.4M958.0,1001.4L961.3,995.0M959.5,996.7L961.3,995.0L960.9,997.5M958.0,959.7L961.4,953.3M959.5,955.0L961.4,953.3L960.9,955.8M958.0,918.0L961.4,911.6M959.6,913.3L961.4,911.6L961.0,914.1M958.0,876.3L961.4,869.9M959.6,871.6L961.4,869.9L961.0,872.4M958.0,834.6L961.4,828.2M959.6,829.9L961.4,828.2L961.0,830.7M958.0,792.9L961.4,786.5M959.6,788.2L961.4,786.5L961.0,789.0M958.0,751.2L961.4,744.8M959.6,746.5L961.4,744.8L961.0,747.3M958.0,709.5L961.5,703.1M959.6,704.8L961.5,703.1L961.0,705.6M958.0,667.8L961.5,661.4M959.6,663.1L961.5,661.4L961.0,663.9M958.0,626.1L961.5,619.7M959.6,621.4L961.5,619.7L961.0,622.2M958.0,584.4L961.5,578.0M959.6,579.7L961.5,578.0L961.0,580.5M958.0,542.7L961.5,536.3M959.6,538.0L961.5,536.3L961.0,538.8M958.0,501.0L961.5,494.6M959.7,496.3L961.5,494.6L961.1,497.1M958.0,459.3L961.5,452.9M959.7,454.6L961.5,452.9L961.1,455.4M958.0,417.6L961.6,411.2M959.7,412.9L961.6,411.2L961.1,413.7M958.0,375.9L961.6,369.5M959.7,371.2L961.6,369.5L961.1,372.0M958.0,334.2L961.6,327.8M959.7,329.5L961.6,327.8L961.1,330.3M958.0,292.5L961.6,286.1M959.7,287.8L961.6,286.1L961.1,288.6M958.0,250.8L961.6,244.4M959.7,246.1L961.6,244.4L961.1,246.9M958.0,209.1L961.6,202.7M959.7,204.4L961.6,202.7L961.1,205.2M958.0,167.4L961.7,161.0M959.7,162.7L961.7,161.0L961.1,163.5M958.0,125.7L961.7,119.3M959.7,121.0L961.7,119.3L961.1,121.8M958.0,84.0L961.7,77.6M959.8,79.3L961.7,77.6L961.2,80.1M958.0,42.3L961.7,35.9M959.8,37.6L961.7,35.9L961.2,38.4M958.0,0.6L961.7,-5.8M959.8,-4.1L961.7,-5.8L961.2,-3.3M999.7,1001.4L999.3,994.9M998.7,997.1L999.3,994.9L1000.1,997.0M999.7,959.7L999.4,953.2M998.8,955.4L999.4,953.2L1000.2,955.3M999.7,918.0L999.6,911.5M998.9,913.6L999.6,911.5L1000.4,913.6M999.7,876.3L999.8,869.8M999.1,871.9L999.8,869.8L1000.5,871.9M999.7,834.6L1000.0,828.1M999.2,830.2L1000.0,828.1L1000.6,830.3M999.7,792.9L1000.2,786.4M999.3,788.5L1000.2,786.4L1000.7,788.6M999.7,751.2L1000.4,744.7M999.4,746.8L1000.4,744.7L1000.9,746.9M999.7,709.5L1000.6,703.0M999.6,705.0L1000.6,703.0L1001.0,705.2M999.7,667.8L1000.7,661.3M999.7,663.3L1000.7,661.3L1001.1,663.5M999.7,626.1L1000.9,619.6M999.8,621.6L1000.9,619.6L1001.2,621.9M999.7,584.4L1001.1,577.9M999.9,579.9L1001.1,577.9L1001.4,580.2M999.7,542.7L1001.3,536.2M1000.1,538.2L1001.3,536.2L1001.5,538.5M999.7,501.0L1001.5,494.5M1000.2,496.4L1001.5,494.5L1001.6,496.8M999.7,459.3L1001.7,452.8M1000.3,454.7L1001.7,452.8L1001.7,455.1M999.7,417.6L1001.9,411.1M1000.4,413.0L1001.9,411.1L1001.9,413.5M999.7,375.9L1002.0,369.4M1000.6,371.3L1002.0,369.4L1002.0,371.8M999.7,334.2L1002.2,327.7M1000.7,329.6L1002.2,327.7L1002.1,330.1M999.7,292.5L1002.4,286.0M1000.8,287.8L1002.4,286.0L1002.2,288.4M999.7,250.8L1002.6,244.3M1000.9,246.1L1002.6,244.3L1002.4,246.7M999.7,209.1L1002.8,202.6M1001.1,204.4L1002.8,202.6L1002.5,205.1M999.7,167.4L1003.0,160.9M1001.2,162.7L1003.0,160.9L1002.6,163.4M999.7,125.7L1003.2,119.2M1001.3,121.0L1003.2,119.2L1002.7,121.7M999.7,84.0L1003.4,77.5M1001.4,79.2L1003.4,77.5L1002.9,80.0M999.7,42.3L1003.5,35.8M1001.6,37.5L1003.5,35.8L1003.0,38.3M999.7,0.6L1003.7,-5.9M1001.7,-4.2L1003.7,-5.9L1003.1,-3.3M1041.4,1001.4L1039.0,994.6M1039.0,997.1L1039.0,994.6L1040.5,996.6M1041.4,959.7L1039.2,952.9M1039.2,955.4L1039.2,952.9L1040.7,954.9M1041.4,918.0L1039.5,911.2M1039.4,913.7L1039.5,911.2L1040.9,913.3M1041.4,876.3L1039.8,869.5M1039.6,871.9L1039.8,869.5L1041.1,871.6M1041.4,834.6L1040.1,827.8M1039.8,830.2L1040.1,827.8L1041.3,829.9M1041.4,792.9L1040.3,786.1M1040.0,788.5L1040.3,786.1L1041.4,788.3M1041.4,751.2L1040.6,744.4M1040.1,746.8L1040.6,744.4L1041.6,746.6M1041.4,709.5L1040.9,702.7M1040.3,705.0L1040.9,702.7L1041.8,704.9M1041.4,667.8L1041.2,661.0M1040.5,663.3L1041.2,661.0L1042.0,663.2M1041.4,626.1L1041.4,619.3M1040.7,621.6L1041.4,619.3L1042.2,621.6M1041.4,584.4L1041.7,577.6M1040.9,579.8L1041.7,577.6L1042.3,579.9M1041.4,542.7L1042.0,535.9M1041.1,538.1L1042.0,535.9L1042.5,538.2M1041.4,501.0L1042.2,494.2M1041.2,496.4L1042.2,494.2L1042.7,496.6M1041.4,459.3L1042.5,452.5M1041.4,454.7L1042.5,452.5L1042.9,454.9M1041.4,417.6L1042.8,410.8M1041.6,412.9L1042.8,410.8L1043.1,413.2M1041.4,375.9L1043.1,369.1M1041.8,371.2L1043.1,369.1L1043.3,371.5M1041.4,334.2L1043.3,327.4M1042.0,329.5L1043.3,327.4L1043.4,329.9M1041.4,292.5L1043.6,285.7M1042.2,287.7L1043.6,285.7L1043.6,288.2M1041.4,250.8L1043.9,244.0M1042.3,246.0L1043.9,244.0L1043.8,246.5M1041.4,209.1L1044.1,202.3M1042.5,204.3L1044.1,202.3L1044.0,204.9M1041.4,167.4L1044.4,160.6M1042.7,162.5L1044.4,160.6L1044.2,163.2M1041.4,125.7L1044.7,118.9M1042.9,120.8L1044.7,118.9L1044.4,121.5M1041.4,84.0L1045.0,77.2M1043.1,79.1L1045.0,77.2L1044.5,79.9M1041.4,42.3L1045.2,35.5M1043.2,37.4L1045.2,35.5L1044.7,38.2M1041.4,0.6L1045.5,-6.2M1043.4,-4.4L1045.5,-6.2L1044.9,-3.5M1083.2,1001.4L1080.0,994.3M1080.3,997.0L1080.0,994.3L1081.8,996.3M1083.2,959.7L1080.3,952.6M1080.5,955.3L1080.3,952.6L1082.0,954.7M1083.2,918.0L1080.6,910.9M1080.7,913.6L1080.6,910.9L1082.2,913.0M1083.2,876.3L1080.9,869.2M1080.9,871.8L1080.9,869.2L1082.4,871.3M1083.2,834.6L1081.2,827.5M1081.1,830.1L1081.2,827.5L1082.6,829.7M1083.2,792.9L1081.5,785.8M1081.3,788.4L1081.5,785.8L1082.8,788.0M1083.2,751.2L1081.8,744.1M1081.5,746.6L1081.8,744.1L1083.0,746.3M1083.2,709.5L1082.1,702.4M1081.7,704.9L1082.1,702.4L1083.2,704.7M1083.2,667.8L1082.4,660.7M1081.9,663.2L1082.4,660.7L1083.4,663.0M1083.2,626.1L1082.7,619.0M1082.1,621.4L1082.7,619.0L1083.6,621.3M1083.2,584.4L1083.0,577.3M1082.3,579.7L1083.0,577.3L1083.8,579.7M1083.2,542.7L1083.3,535.6M1082.5,538.0L1083.3,535.6L1084.0,538.0M1083.2,501.0L1083.6,493.9M1082.7,496.2L1083.6,493.9L1084.3,496.3M1083.2,459.3L1083.9,452.2M1082.9,454.5L1083.9,452.2L1084.5,454.7M1083.2,417.6L1084.2,410.5M1083.1,412.8L1084.2,410.5L1084.7,413.0M1083.2,375.9L1084.5,368.8M1083.3,371.0L1084.5,368.8L1084.9,371.3M1083.2,334.2L1084.8,327.1M1083.5,329.3L1084.8,327.1L1085.1,329.7M1083.2,292.5L1085.1,285.4M1083.7,287.6L1085.1,285.4L1085.3,288.0M1083.2,250.8L1085.4,243.7M1083.9,245.8L1085.4,243.7L1085.5,246.3M1083.2,209.1L1085.7,202.0M1084.1,204.1L1085.7,202.0L1085.7,204.7M1083.2,167.4L1086.0,160.3M1084.3,162.4L1086.0,160.3L1085.9,163.0M1083.2,125.7L1086.3,118.6M1084.5,120.6L1086.3,118.6L1086.1,121.3M1083.2,84.0L1086.6,76.9M1084.7,78.9L1086.6,76.9L1086.3,79.7M1083.2,42.3L1086.9,35.2M1084.9,37.2L1086.9,35.2L1086.5,38.0M1083.2,0.6L1087.2,-6.5M1085.1,-4.6L1087.2,-6.5L1086.7,-3.7" fill="none" stroke="#4d4dff" stroke-width="1.2" stroke-linejoin="miter"/><g fill="none" stroke="#0000ff" stroke-width="3.6"><path d="M102.5,1001.4 L93.5,926.9 L86.1,858.9 L80.0,794.1 L74.8,729.3 L70.8,666.0 L67.8,602.7 L65.9,541.0 L65.1,479.3 L65.4,417.6 L66.7,355.9 L69.2,294.2 L72.7,232.6 L77.5,169.4 L83.1,108.0 L89.9,46.6 L97.9,-16.3"/><path d="M123.8,1001.4 L116.1,916.7 L110.2,845.2 L105.3,777.0 L101.6,713.7 L98.8,652.1 L96.8,590.4 L95.9,530.3 L95.8,470.3 L96.8,410.3 L98.7,350.2 L101.5,290.3 L105.4,230.3 L110.3,170.5 L116.1,110.7 L123.2,47.7 L131.3,-16.8"/><path d="M144.7,1001.4 L140.7,923.1 L137.5,851.5 L135.3,784.8 L133.7,721.4 L132.9,659.7 L132.9,599.6 L133.6,539.6 L135.1,481.2 L137.2,424.6 L140.2,366.3 L144.0,308.0 L148.7,248.1 L154.0,188.3 L160.4,125.3 L168.0,57.3 L176.9,-17.2"/><path d="M166.0,1001.4 L165.5,936.3 L165.6,874.6 L166.1,816.3 L167.2,757.9 L168.8,701.2 L171.0,644.5 L173.7,587.9 L177.1,531.3 L184.8,426.5 L194.8,316.8 L205.1,219.0 L231.5,-16.4"/><path d="M187.7,1001.4 L192.1,913.1 L197.9,828.2 L205.1,745.2 L213.9,663.9 L223.2,589.4 L234.2,511.8 L245.7,437.6 L273.7,263.0 L287.1,172.3 L293.6,122.7 L299.0,74.6 L303.5,28.1 L307.0,-16.8"/><path d="M208.2,1001.4 L213.1,956.6 L218.7,911.9 L225.0,867.3 L231.8,824.5 L239.4,781.8 L247.4,740.9 L256.4,698.5 L266.2,656.2 L283.8,586.7 L304.3,512.8 L316.7,471.2 L329.0,431.3 L367.8,312.4 L382.2,266.2 L390.6,237.4 L397.6,211.6 L403.7,187.4 L409.2,163.0 L414.1,138.4 L417.9,115.4 L421.1,92.3 L423.3,70.7 L424.9,49.1 L425.7,27.4 L425.8,5.7 L425.2,-17.6"/><path d="M229.5,1001.4 L239.1,950.6 L249.8,901.7 L262.0,853.2 L275.4,806.7 L290.3,760.7 L306.8,715.2 L324.3,671.9 L342.2,632.4 L363.8,589.1 L387.8,545.2 L408.4,510.9 L418.5,495.5 L429.0,480.5 L442.9,461.7 L457.5,443.5 L500.1,394.3 L542.4,342.7 L588.1,289.5 L607.2,266.4 L619.4,250.5 L630.9,234.1 L642.6,215.8 L654.5,195.7 L672.8,162.0 L686.6,133.5 L697.2,107.2 L701.5,94.5 L705.3,81.8 L708.6,68.8 L711.2,55.7 L713.2,42.5 L714.3,30.9 L715.0,17.6 L715.0,5.9 L714.4,-5.7 L713.1,-17.3"/><path d="M250.1,1001.4 L256.8,975.6 L263.7,951.5 L271.1,927.6 L279.0,903.9 L287.5,880.4 L296.5,857.0 L305.5,835.4 L315.0,814.1 L325.0,793.0 L334.9,773.7 L345.3,754.7 L357.1,734.5 L369.4,714.7 L382.3,695.2 L393.9,678.9 L406.1,663.0 L416.8,650.2 L428.0,637.9 L439.8,626.0 L453.2,613.5 L473.6,596.3 L525.7,554.5 L541.5,542.3 L555.1,532.6 L570.4,522.4 L622.7,489.6 L666.1,461.4 L687.6,448.6 L741.4,418.3 L755.7,409.7 L769.7,400.6 L786.1,389.1 L801.7,376.5 L816.5,363.1 L833.1,346.6 L859.2,318.5 L881.7,291.6 L903.7,262.3 L926.1,229.1 L942.0,203.6 L959.0,174.9 L1027.7,50.8 L1047.7,16.1 L1067.3,-16.9"/><path d="M270.5,1001.4 L277.7,980.9 L285.3,960.6 L293.4,940.5 L302.1,920.6 L311.3,901.0 L320.2,883.1 L329.7,865.4 L339.6,848.1 L351.0,829.6 L362.0,812.9 L373.6,796.5 L385.6,780.5 L397.2,766.3 L408.3,753.8 L418.7,743.1 L430.9,731.7 L450.2,715.7 L471.8,700.0 L529.8,660.7 L542.5,652.7 L557.0,644.3 L580.6,631.8 L662.6,590.6 L685.4,580.1 L736.0,558.5 L757.3,548.9 L779.7,537.7 L799.9,526.0 L813.9,516.9 L828.8,506.2 L847.4,492.0 L864.2,478.3 L876.7,467.3 L888.9,455.9 L900.6,443.9 L911.7,431.5 L926.4,413.3 L939.9,394.3 L953.2,373.1 L965.4,351.3 L978.1,325.9 L991.9,295.5 L1036.7,189.5 L1055.4,146.7 L1071.4,111.8 L1088.1,77.3 L1105.1,44.8 L1120.5,19.0 L1127.9,7.9 L1134.9,-1.5 L1141.3,-9.2 L1148.3,-16.3"/><path d="M291.9,1001.4 L307.3,968.1 L323.6,937.1 L332.9,921.2 L341.7,907.1 L360.4,879.5 L380.7,853.0 L390.4,841.5 L400.5,830.4 L409.9,820.9 L419.7,811.8 L429.8,803.2 L441.7,793.9 L453.9,785.2 L466.4,776.9 L519.0,744.6 L540.7,732.1 L561.5,721.4 L585.8,710.3 L666.8,674.9 L688.6,666.3 L743.4,646.1 L766.6,636.8 L786.4,627.9 L804.2,618.7 L820.1,609.5 L839.8,596.9 L857.8,584.8 L872.6,573.9 L885.7,563.5 L898.2,552.6 L909.0,542.1 L919.3,531.2 L928.0,521.0 L936.1,510.5 L943.8,499.6 L951.0,488.3 L957.8,476.8 L964.8,463.6 L971.4,450.1 L978.2,434.9 L988.3,410.1 L998.8,382.0 L1037.8,268.4 L1057.8,213.5 L1069.2,184.0 L1080.6,156.2 L1091.9,130.2 L1102.4,107.5 L1110.6,91.1 L1119.4,74.9 L1128.0,60.6 L1135.4,49.6 L1142.6,40.4 L1150.5,31.8 L1159.2,24.0 L1167.3,18.1"/><path d="M332.9,1001.4 L346.9,980.7 L362.0,960.7 L378.0,941.5 L393.8,924.3 L408.3,910.5 L423.7,897.7 L440.0,886.0 L458.3,874.4 L478.6,862.9 L528.6,836.0 L546.6,827.2 L566.5,818.5 L589.8,809.4 L667.9,779.9 L690.0,772.5 L744.2,755.4 L767.8,747.2 L789.6,738.7 L807.8,730.5 L825.7,721.4 L847.6,709.2 L864.7,698.9 L880.1,688.9 L893.6,679.0 L906.5,668.5 L917.5,658.3 L927.8,647.4 L935.4,638.4 L943.4,627.8 L950.8,616.6 L957.5,605.1 L963.7,593.3 L970.1,579.7 L976.5,564.3 L982.3,548.7 L991.2,521.7 L1000.1,491.3 L1034.8,359.0 L1052.5,296.4 L1063.0,263.0 L1073.6,231.4 L1085.5,198.4 L1096.4,170.5 L1105.5,149.0 L1114.7,129.3 L1123.9,111.5 L1133.2,95.7 L1140.7,84.7 L1149.2,74.3 L1158.7,65.0 L1167.8,57.8"/><path d="M375.0,1001.4 L386.5,989.3 L398.4,977.6 L409.7,967.8 L421.6,958.5 L433.9,949.9 L448.0,941.0 L462.5,932.8 L481.8,922.8 L535.6,896.0 L552.4,888.7 L572.7,880.9 L667.2,847.9 L689.6,841.0 L744.1,825.2 L767.9,817.7 L789.9,809.8 L811.5,800.7 L831.0,791.4 L853.3,779.8 L870.7,770.0 L886.2,760.2 L899.8,750.5 L912.8,740.0 L923.7,729.7 L933.9,718.7 L941.2,709.6 L948.9,698.6 L955.8,687.3 L962.1,675.5 L967.8,663.4 L973.5,649.5 L979.2,633.8 L984.3,618.0 L992.0,590.7 L1000.0,558.3 L1030.8,416.5 L1039.1,380.7 L1047.2,348.3 L1057.1,311.3 L1067.5,276.1 L1078.1,242.7 L1089.6,209.6 L1099.7,183.1 L1110.0,158.5 L1120.0,137.4 L1130.2,118.3 L1139.1,104.1 L1148.2,92.2 L1157.4,82.6 L1167.7,74.0"/><path d="M436.5,1001.4 L456.8,989.8 L482.2,977.2 L530.6,954.4 L544.4,948.6 L559.9,942.5 L588.3,932.7 L666.1,907.5 L688.6,901.0 L745.0,885.8 L772.2,877.7 L795.9,869.5 L819.0,860.0 L841.7,849.5 L862.6,839.0 L878.6,830.0 L894.2,820.2 L907.7,810.5 L919.2,800.8 L929.9,790.3 L939.7,779.0 L946.7,769.6 L953.9,758.4 L959.6,748.2 L965.4,736.1 L970.6,723.8 L975.8,709.8 L980.9,693.9 L985.4,677.8 L992.1,650.3 L999.3,616.0 L1026.7,466.7 L1034.1,429.0 L1041.8,393.2 L1050.9,354.2 L1060.5,317.0 L1070.6,281.8 L1081.5,246.7 L1092.9,213.6 L1103.5,185.5 L1114.7,159.4 L1125.6,137.0 L1135.5,119.5 L1145.0,105.8 L1150.3,99.4 L1156.1,93.3 L1167.4,83.5"/><path d="M500.0,1001.4 L524.3,990.3 L539.6,983.8 L556.8,977.2 L577.3,970.2 L668.1,941.8 L745.6,921.3 L771.2,914.0 L796.6,905.5 L819.8,896.3 L844.2,885.4 L865.2,875.1 L882.7,865.4 L898.3,855.6 L911.7,845.8 L924.3,834.8 L935.9,822.8 L945.2,811.0 L951.7,801.3 L957.6,791.3 L962.9,780.8 L968.3,768.6 L973.0,756.2 L977.8,741.9 L986.1,711.4 L992.3,683.7 L998.5,650.9 L1024.1,496.2 L1031.2,456.8 L1038.2,420.8 L1046.6,381.6 L1055.8,342.7 L1065.7,305.6 L1075.9,270.4 L1087.7,233.9 L1099.5,200.9 L1110.7,173.0 L1122.6,147.3 L1133.7,126.7 L1143.8,111.5 L1149.0,104.9 L1154.6,98.7 L1160.6,93.0 L1167.1,87.7"/><path d="M563.5,1001.4 L588.9,993.2 L665.6,970.0 L688.2,963.9 L746.4,949.2 L773.8,941.6 L800.7,932.6 L827.0,922.1 L851.4,911.2 L870.9,901.6 L888.4,891.9 L903.8,881.9 L917.0,871.7 L929.3,860.5 L939.4,849.3 L949.3,835.9 L954.6,827.4 L960.2,817.2 L965.2,806.6 L970.2,794.3 L974.7,781.7 L979.1,767.3 L986.8,736.6 L992.5,708.8 L998.0,677.6 L1022.1,519.3 L1028.9,478.2 L1035.7,440.4 L1044.0,399.5 L1052.7,360.5 L1062.1,323.3 L1072.3,286.3 L1084.6,246.5 L1096.6,211.7 L1108.7,180.7 L1121.0,153.3 L1132.6,131.1 L1137.8,122.6 L1143.5,114.3 L1149.7,106.5 L1155.4,100.4 L1161.4,94.6 L1167.9,89.4"/><path d="M626.7,1001.4 L671.5,988.2 L749.2,968.8 L781.4,959.7 L797.2,954.5 L814.4,948.1 L833.0,940.4 L852.8,931.7 L870.8,922.9 L886.9,914.1 L901.1,905.3 L914.6,895.5 L925.9,885.7 L936.4,874.9 L945.8,863.2 L954.0,850.6 L958.9,841.9 L964.0,831.4 L968.5,820.6 L972.6,809.7 L980.3,784.1 L987.1,754.9 L992.2,728.7 L997.7,695.8 L1020.4,537.3 L1027.1,494.4 L1033.6,456.6 L1041.7,414.0 L1050.1,374.9 L1059.1,337.6 L1069.0,300.5 L1081.3,258.9 L1093.9,220.9 L1106.3,188.2 L1118.2,160.6 L1130.3,136.8 L1136.1,126.7 L1141.7,118.3 L1147.7,110.4 L1153.2,104.1 L1160.3,97.0 L1166.7,91.7"/><path d="M708.5,1001.4 L763.6,987.8 L782.8,982.2 L800.3,976.5 L820.6,968.9 L843.7,959.3 L863.5,950.3 L881.3,941.2 L895.8,932.9 L908.3,924.6 L918.8,916.4 L928.7,907.5 L937.9,897.8 L946.2,887.3 L953.5,876.2 L960.0,864.5 L968.1,846.2 L975.2,825.7 L981.8,801.6 L988.1,772.2 L992.7,745.9 L997.3,716.3 L1018.5,557.5 L1024.8,514.6 L1031.2,475.1 L1038.8,432.4 L1047.1,391.6 L1056.0,352.5 L1065.5,315.4 L1077.9,272.0 L1091.1,230.8 L1103.7,196.3 L1116.6,165.5 L1129.2,140.1 L1135.0,130.0 L1141.3,120.2 L1147.3,112.1 L1153.9,104.6 L1161.0,97.6 L1167.5,92.3"/><path d="M792.4,1001.4 L808.2,996.0 L823.8,990.1 L843.8,981.8 L862.1,973.7 L875.7,967.2 L888.9,960.1 L900.3,953.2 L910.0,946.6 L919.3,939.5 L928.0,931.8 L936.2,923.4 L942.6,915.8 L949.5,906.3 L955.6,896.4 L961.1,886.1 L965.9,875.4 L972.3,858.2 L978.0,839.0 L983.4,816.3 L988.5,790.1 L992.6,765.5 L996.9,735.7 L1016.8,576.8 L1022.9,532.2 L1028.9,492.7 L1036.5,448.3 L1044.4,407.3 L1052.9,368.2 L1062.3,329.3 L1074.7,284.3 L1088.6,239.7 L1102.0,201.9 L1115.3,169.5 L1121.7,155.9 L1128.5,142.5 L1134.2,132.4 L1140.4,122.5 L1146.3,114.4 L1152.8,106.8 L1159.8,99.7 L1167.5,93.2"/><path d="M876.2,1001.4 L895.3,991.1 L912.1,980.2 L920.1,974.1 L926.4,968.7 L938.1,956.8 L948.4,943.7 L953.0,936.7 L957.9,928.0 L965.7,911.4 L972.5,892.6 L977.6,874.9 L982.5,853.8 L986.8,830.9 L991.2,802.8 L998.0,749.9 L1016.3,589.1 L1022.8,539.5 L1029.6,493.3 L1036.2,453.8 L1042.9,417.8 L1050.4,381.8 L1058.3,347.7 L1070.5,300.9 L1084.3,254.5 L1098.2,213.5 L1105.3,194.8 L1112.3,177.8 L1119.1,162.6 L1126.5,147.6 L1132.8,135.8 L1138.9,125.9 L1145.7,116.4 L1152.1,108.7 L1159.1,101.5 L1166.7,95.0"/><path d="M958.0,1001.4 L962.4,992.4 L966.2,983.2 L970.2,972.2 L973.6,961.0 L979.8,935.1 L985.0,905.5 L988.9,877.4 L992.7,844.3 L1010.2,656.6 L1015.9,603.5 L1021.9,553.9 L1029.1,502.6 L1037.1,453.2 L1045.7,407.4 L1055.3,363.3 L1067.8,313.2 L1081.6,265.1 L1096.3,220.7 L1103.2,201.9 L1110.6,183.4 L1118.0,166.5 L1125.2,151.5 L1132.3,138.3 L1138.3,128.3 L1145.0,118.7 L1151.3,110.9 L1159.4,102.5 L1167.0,96.0"/><path d="M1039.8,1001.4 L1032.9,980.8 L1027.0,960.0 L1022.1,938.8 L1017.9,915.9 L1014.7,892.7 L1012.3,867.8 L1010.6,841.2 L1009.7,812.9 L1009.6,779.5 L1010.3,744.5 L1011.8,707.8 L1014.2,667.9 L1017.3,627.9 L1021.3,586.4 L1025.7,546.7 L1031.0,507.0 L1036.4,470.7 L1042.6,434.5 L1049.2,400.1 L1056.6,365.9 L1064.3,333.4 L1072.8,301.2 L1082.1,269.1 L1091.7,238.9 L1101.1,212.2 L1110.8,187.3 L1120.2,165.9 L1129.9,146.5 L1138.3,132.1 L1146.9,119.8 L1156.9,108.6 L1166.8,99.7"/></g></g><path d="M165.0,918.0 L165.0,84.0 L999.7,84.0 L999.7,918.0" fill="none" stroke="#000" stroke-width="3.6"/><path d="M165.0,918.0 L999.7,918.0" fill="none" stroke="#000" stroke-width="3.6" stroke-dasharray="17,17"/><path d="M82.5,0.6 L82.5,1001.4 L1083.5,1001.4" fill="none" stroke="#000" stroke-width="1.1"/><path d="M165.0,1001.4 v-9" stroke="#000" stroke-width="1.1"/><path d="M999.7,1001.4 v-9" stroke="#000" stroke-width="1.1"/><path d="M82.5,918.0 h9" stroke="#000" stroke-width="1.1"/><path d="M82.5,84.0 h9" stroke="#000" stroke-width="1.1"/><text x="156.0" y="1036.4" class="tl" text-anchor="middle">−1</text><text x="999.7" y="1036.4" class="tl" text-anchor="middle">0</text><text x="75" y="928.0" class="tl" text-anchor="end">0</text><text x="75" y="94.0" class="tl" text-anchor="end">1</text><text x="582" y="1067.4" class="al" text-anchor="middle">α</text><text x="7" y="514.0" class="alt" text-anchor="middle">t</text><text x="603" y="1148.4" class="cap" text-anchor="middle">(a)</text><rect x="1125.5" y="985.76" width="57.0" height="16.24" fill="#00008f" shape-rendering="crispEdges"/><rect x="1125.5" y="970.12" width="57.0" height="16.24" fill="#00009f" shape-rendering="crispEdges"/><rect x="1125.5" y="954.49" width="57.0" height="16.24" fill="#0000af" shape-rendering="crispEdges"/><rect x="1125.5" y="938.85" width="57.0" height="16.24" fill="#0000bf" shape-rendering="crispEdges"/><rect x="1125.5" y="923.21" width="57.0" height="16.24" fill="#0000cf" shape-rendering="crispEdges"/><rect x="1125.5" y="907.57" width="57.0" height="16.24" fill="#0000df" shape-rendering="crispEdges"/><rect x="1125.5" y="891.94" width="57.0" height="16.24" fill="#0000ef" shape-rendering="crispEdges"/><rect x="1125.5" y="876.30" width="57.0" height="16.24" fill="#0000ff" shape-rendering="crispEdges"/><rect x="1125.5" y="860.66" width="57.0" height="16.24" fill="#0010ff" shape-rendering="crispEdges"/><rect x="1125.5" y="845.02" width="57.0" height="16.24" fill="#0020ff" shape-rendering="crispEdges"/><rect x="1125.5" y="829.39" width="57.0" height="16.24" fill="#0030ff" shape-rendering="crispEdges"/><rect x="1125.5" y="813.75" width="57.0" height="16.24" fill="#0040ff" shape-rendering="crispEdges"/><rect x="1125.5" y="798.11" width="57.0" height="16.24" fill="#0050ff" shape-rendering="crispEdges"/><rect x="1125.5" y="782.47" width="57.0" height="16.24" fill="#0060ff" shape-rendering="crispEdges"/><rect x="1125.5" y="766.84" width="57.0" height="16.24" fill="#0070ff" shape-rendering="crispEdges"/><rect x="1125.5" y="751.20" width="57.0" height="16.24" fill="#0080ff" shape-rendering="crispEdges"/><rect x="1125.5" y="735.56" width="57.0" height="16.24" fill="#008fff" shape-rendering="crispEdges"/><rect x="1125.5" y="719.92" width="57.0" height="16.24" fill="#009fff" shape-rendering="crispEdges"/><rect x="1125.5" y="704.29" width="57.0" height="16.24" fill="#00afff" shape-rendering="crispEdges"/><rect x="1125.5" y="688.65" width="57.0" height="16.24" fill="#00bfff" shape-rendering="crispEdges"/><rect x="1125.5" y="673.01" width="57.0" height="16.24" fill="#00cfff" shape-rendering="crispEdges"/><rect x="1125.5" y="657.38" width="57.0" height="16.24" fill="#00dfff" shape-rendering="crispEdges"/><rect x="1125.5" y="641.74" width="57.0" height="16.24" fill="#00efff" shape-rendering="crispEdges"/><rect x="1125.5" y="626.10" width="57.0" height="16.24" fill="#00ffff" shape-rendering="crispEdges"/><rect x="1125.5" y="610.46" width="57.0" height="16.24" fill="#10ffef" shape-rendering="crispEdges"/><rect x="1125.5" y="594.82" width="57.0" height="16.24" fill="#20ffdf" shape-rendering="crispEdges"/><rect x="1125.5" y="579.19" width="57.0" height="16.24" fill="#30ffcf" shape-rendering="crispEdges"/><rect x="1125.5" y="563.55" width="57.0" height="16.24" fill="#40ffbf" shape-rendering="crispEdges"/><rect x="1125.5" y="547.91" width="57.0" height="16.24" fill="#50ffaf" shape-rendering="crispEdges"/><rect x="1125.5" y="532.27" width="57.0" height="16.24" fill="#60ff9f" shape-rendering="crispEdges"/><rect x="1125.5" y="516.64" width="57.0" height="16.24" fill="#70ff8f" shape-rendering="crispEdges"/><rect x="1125.5" y="501.00" width="57.0" height="16.24" fill="#80ff80" shape-rendering="crispEdges"/><rect x="1125.5" y="485.36" width="57.0" height="16.24" fill="#8fff70" shape-rendering="crispEdges"/><rect x="1125.5" y="469.72" width="57.0" height="16.24" fill="#9fff60" shape-rendering="crispEdges"/><rect x="1125.5" y="454.09" width="57.0" height="16.24" fill="#afff50" shape-rendering="crispEdges"/><rect x="1125.5" y="438.45" width="57.0" height="16.24" fill="#bfff40" shape-rendering="crispEdges"/><rect x="1125.5" y="422.81" width="57.0" height="16.24" fill="#cfff30" shape-rendering="crispEdges"/><rect x="1125.5" y="407.17" width="57.0" height="16.24" fill="#dfff20" shape-rendering="crispEdges"/><rect x="1125.5" y="391.54" width="57.0" height="16.24" fill="#efff10" shape-rendering="crispEdges"/><rect x="1125.5" y="375.90" width="57.0" height="16.24" fill="#ffff00" shape-rendering="crispEdges"/><rect x="1125.5" y="360.26" width="57.0" height="16.24" fill="#ffef00" shape-rendering="crispEdges"/><rect x="1125.5" y="344.62" width="57.0" height="16.24" fill="#ffdf00" shape-rendering="crispEdges"/><rect x="1125.5" y="328.99" width="57.0" height="16.24" fill="#ffcf00" shape-rendering="crispEdges"/><rect x="1125.5" y="313.35" width="57.0" height="16.24" fill="#ffbf00" shape-rendering="crispEdges"/><rect x="1125.5" y="297.71" width="57.0" height="16.24" fill="#ffaf00" shape-rendering="crispEdges"/><rect x="1125.5" y="282.07" width="57.0" height="16.24" fill="#ff9f00" shape-rendering="crispEdges"/><rect x="1125.5" y="266.44" width="57.0" height="16.24" fill="#ff8f00" shape-rendering="crispEdges"/><rect x="1125.5" y="250.80" width="57.0" height="16.24" fill="#ff8000" shape-rendering="crispEdges"/><rect x="1125.5" y="235.16" width="57.0" height="16.24" fill="#ff7000" shape-rendering="crispEdges"/><rect x="1125.5" y="219.52" width="57.0" height="16.24" fill="#ff6000" shape-rendering="crispEdges"/><rect x="1125.5" y="203.89" width="57.0" height="16.24" fill="#ff5000" shape-rendering="crispEdges"/><rect x="1125.5" y="188.25" width="57.0" height="16.24" fill="#ff4000" shape-rendering="crispEdges"/><rect x="1125.5" y="172.61" width="57.0" height="16.24" fill="#ff3000" shape-rendering="crispEdges"/><rect x="1125.5" y="156.97" width="57.0" height="16.24" fill="#ff2000" shape-rendering="crispEdges"/><rect x="1125.5" y="141.34" width="57.0" height="16.24" fill="#ff1000" shape-rendering="crispEdges"/><rect x="1125.5" y="125.70" width="57.0" height="16.24" fill="#ff0000" shape-rendering="crispEdges"/><rect x="1125.5" y="110.06" width="57.0" height="16.24" fill="#ef0000" shape-rendering="crispEdges"/><rect x="1125.5" y="94.42" width="57.0" height="16.24" fill="#df0000" shape-rendering="crispEdges"/><rect x="1125.5" y="78.79" width="57.0" height="16.24" fill="#cf0000" shape-rendering="crispEdges"/><rect x="1125.5" y="63.15" width="57.0" height="16.24" fill="#bf0000" shape-rendering="crispEdges"/><rect x="1125.5" y="47.51" width="57.0" height="16.24" fill="#af0000" shape-rendering="crispEdges"/><rect x="1125.5" y="31.87" width="57.0" height="16.24" fill="#9f0000" shape-rendering="crispEdges"/><rect x="1125.5" y="16.24" width="57.0" height="16.24" fill="#8f0000" shape-rendering="crispEdges"/><rect x="1125.5" y="0.60" width="57.0" height="16.24" fill="#800000" shape-rendering="crispEdges"/><rect x="1125.5" y="0.6" width="57.0" height="1000.8" fill="none" stroke="#000" stroke-width="1.1"/><path d="M1125.5,924.5 h9 M1182.5,924.5 h-9" stroke="#000" stroke-width="1.1"/><text x="1190.5" y="934.5" class="tl">1</text><path d="M1125.5,825.9 h9 M1182.5,825.9 h-9" stroke="#000" stroke-width="1.1"/><text x="1190.5" y="835.9" class="tl">2</text><path d="M1125.5,727.3 h9 M1182.5,727.3 h-9" stroke="#000" stroke-width="1.1"/><text x="1190.5" y="737.3" class="tl">3</text><path d="M1125.5,628.7 h9 M1182.5,628.7 h-9" stroke="#000" stroke-width="1.1"/><text x="1190.5" y="638.7" class="tl">4</text><path d="M1125.5,530.1 h9 M1182.5,530.1 h-9" stroke="#000" stroke-width="1.1"/><text x="1190.5" y="540.1" class="tl">5</text><path d="M1125.5,431.5 h9 M1182.5,431.5 h-9" stroke="#000" stroke-width="1.1"/><text x="1190.5" y="441.5" class="tl">6</text><path d="M1125.5,332.9 h9 M1182.5,332.9 h-9" stroke="#000" stroke-width="1.1"/><text x="1190.5" y="342.9" class="tl">7</text><path d="M1125.5,234.3 h9 M1182.5,234.3 h-9" stroke="#000" stroke-width="1.1"/><text x="1190.5" y="244.3" class="tl">8</text><path d="M1125.5,135.7 h9 M1182.5,135.7 h-9" stroke="#000" stroke-width="1.1"/><text x="1190.5" y="145.7" class="tl">9</text><path d="M1125.5,37.1 h9 M1182.5,37.1 h-9" stroke="#000" stroke-width="1.1"/><text x="1190.5" y="47.1" class="tl">10</text><clipPath id="clipb"><rect x="82.5" y="1211.6" width="1001.0" height="1000.8"/></clipPath><g clip-path="url(#clipb)"><g fill="none" stroke-width="1.3"><path d="M1083.2,1416.8 L1059.8,1408.0 L1039.8,1399.8 L1019.7,1391.0 L1001.4,1382.2 L986.3,1374.5 L969.7,1365.4 L920.0,1336.7 L901.2,1326.2 L879.5,1315.1 L857.8,1305.1 L844.4,1299.6 L831.1,1294.5 L796.0,1282.7 L759.3,1271.3 L744.3,1267.3 L730.9,1264.3 L716.9,1261.6 L702.5,1259.5 L685.9,1257.8 L669.2,1256.6 L640.8,1255.5 L582.4,1254.7 L552.3,1253.8 L527.3,1252.5 L468.8,1248.7 L417.1,1246.9 L390.4,1245.2 L328.6,1238.9 L266.8,1233.4 L228.4,1229.4 L161.7,1221.7 L83.1,1211.6" stroke="#00008f"/><path d="M1083.2,1623.8 L1059.8,1620.0 L1039.8,1616.0 L1022.4,1611.9 L1006.4,1607.3 L991.4,1602.0 L978.0,1596.4 L963.0,1589.0 L949.6,1581.4 L937.9,1573.9 L926.2,1565.8 L912.9,1555.8 L897.9,1543.9 L839.6,1495.2 L794.4,1458.3 L742.3,1413.4 L729.9,1403.4 L719.0,1395.1 L699.6,1381.7 L690.9,1376.4 L680.8,1370.8 L672.5,1366.5 L662.5,1361.9 L640.8,1353.4 L621.3,1346.7 L600.5,1340.0 L580.7,1334.2 L560.6,1328.8 L538.9,1323.5 L513.9,1317.9 L482.2,1311.4 L462.2,1307.7 L443.6,1305.0 L390.4,1298.4 L323.6,1289.2 L225.1,1278.5 L81.5,1261.9" stroke="#0000bf"/><path d="M1083.2,1830.9 L1053.1,1832.2 L1029.7,1832.0 L1019.7,1831.4 L1009.7,1830.4 L1001.4,1829.1 L993.0,1827.3 L984.7,1825.0 L976.3,1822.2 L968.0,1818.8 L961.3,1815.6 L954.6,1811.9 L946.3,1806.7 L937.9,1800.7 L929.6,1794.1 L914.6,1780.6 L897.9,1763.4 L879.5,1742.4 L859.5,1717.8 L814.4,1660.9 L796.0,1636.8 L779.3,1613.6 L740.0,1556.9 L723.1,1533.5 L706.0,1511.8 L690.9,1494.5 L680.2,1483.5 L669.2,1473.2 L659.1,1464.9 L646.2,1455.1 L627.4,1442.2 L606.0,1428.4 L589.0,1418.4 L572.3,1409.3 L555.6,1401.1 L537.3,1393.1 L517.2,1385.4 L490.5,1376.0 L472.2,1370.0 L457.1,1365.6 L441.2,1361.7 L422.1,1357.7 L347.0,1343.8 L328.6,1340.7 L310.2,1338.1 L205.1,1325.7 L81.5,1312.4" stroke="#0000ef"/><path d="M1083.2,2037.9 L1049.8,2046.4 L1038.1,2048.8 L1026.4,2050.8 L1016.4,2052.0 L1006.4,2052.5 L996.4,2052.3 L988.0,2051.3 L979.7,2049.7 L971.3,2047.2 L963.0,2043.8 L954.6,2039.4 L946.3,2034.0 L937.9,2027.5 L929.6,2020.1 L921.2,2011.6 L912.9,2002.2 L902.9,1989.6 L892.9,1975.9 L881.2,1958.7 L859.5,1923.8 L821.1,1858.5 L802.7,1826.2 L787.7,1798.0 L772.7,1768.4 L736.6,1695.3 L718.5,1660.3 L708.4,1641.9 L699.6,1626.9 L690.9,1612.7 L682.7,1600.2 L670.8,1583.7 L659.1,1569.2 L645.8,1554.4 L628.6,1536.9 L607.8,1516.8 L590.7,1501.5 L572.6,1486.8 L555.6,1474.6 L538.9,1464.1 L520.6,1453.9 L489.4,1438.4 L467.2,1428.4 L450.5,1421.9 L433.8,1416.4 L413.7,1410.8 L387.0,1404.2 L357.0,1397.4 L333.6,1392.6 L310.2,1388.6 L281.9,1384.5 L236.8,1378.8 L193.4,1373.9 L136.6,1368.1 L81.5,1363.0" stroke="#0030ff"/><path d="M904.1,2212.4 L894.5,2196.8 L886.2,2182.1 L877.8,2166.6 L867.8,2146.9 L842.8,2094.5 L809.4,2021.9 L796.0,1991.0 L782.7,1958.3 L735.4,1835.4 L718.7,1793.7 L708.9,1770.4 L700.0,1750.4 L691.4,1732.0 L683.1,1715.3 L672.5,1695.7 L662.5,1678.9 L650.8,1661.1 L637.0,1641.9 L616.6,1615.3 L599.0,1593.5 L583.0,1575.2 L566.8,1558.5 L557.9,1550.2 L549.0,1542.4 L540.0,1535.2 L530.6,1528.2 L506.3,1511.8 L475.5,1492.9 L458.0,1483.5 L440.5,1475.5 L420.4,1467.8 L396.7,1460.1 L363.7,1450.9 L335.3,1444.0 L310.2,1439.1 L278.5,1434.0 L235.1,1428.1 L191.7,1423.2 L138.3,1418.1 L81.5,1413.5" stroke="#0060ff"/><path d="M811.9,2212.4 L797.7,2172.8 L782.7,2128.3 L767.7,2081.3 L733.5,1972.2 L715.0,1915.5 L704.5,1885.5 L694.7,1858.8 L685.5,1835.4 L676.3,1813.7 L663.8,1787.1 L649.6,1760.4 L633.1,1732.0 L610.3,1695.3 L593.7,1670.3 L577.9,1648.6 L562.3,1629.3 L547.3,1612.9 L538.9,1604.6 L530.6,1597.0 L510.6,1580.4 L480.5,1557.5 L468.8,1549.3 L458.8,1542.8 L450.5,1537.8 L440.5,1532.4 L422.1,1523.7 L402.1,1515.7 L377.0,1507.1 L348.6,1498.7 L323.6,1492.4 L295.2,1486.7 L260.2,1481.0 L221.8,1475.9 L181.7,1471.7 L133.3,1467.5 L81.5,1464.0" stroke="#008fff"/><path d="M759.6,2212.4 L726.9,2089.0 L715.2,2047.3 L704.0,2008.9 L693.1,1973.9 L683.0,1943.9 L672.7,1915.5 L662.5,1890.2 L648.5,1858.8 L631.3,1823.8 L608.7,1780.4 L590.0,1747.0 L574.4,1722.0 L559.0,1699.7 L544.0,1680.7 L528.4,1663.6 L508.9,1644.6 L480.5,1619.1 L463.6,1605.2 L447.1,1593.6 L438.8,1588.3 L428.8,1582.6 L418.7,1577.4 L408.7,1572.6 L387.0,1563.5 L360.3,1554.0 L335.3,1546.3 L310.2,1540.0 L280.2,1534.1 L245.1,1528.5 L210.1,1524.0 L171.7,1520.3 L128.3,1517.1 L81.5,1514.5" stroke="#00cfff"/><path d="M723.5,2212.4 L709.6,2155.7 L696.5,2105.6 L684.2,2062.3 L672.5,2024.8 L661.2,1992.2 L649.0,1960.5 L633.6,1923.8 L613.7,1878.8 L598.1,1845.4 L582.9,1815.4 L568.0,1788.7 L554.0,1766.3 L540.6,1747.4 L526.9,1730.3 L509.0,1710.3 L483.9,1684.0 L467.2,1668.0 L452.1,1655.1 L443.8,1648.7 L435.4,1642.8 L418.7,1632.4 L400.4,1622.8 L378.7,1613.1 L353.6,1603.5 L330.3,1595.9 L306.9,1589.7 L280.2,1584.0 L251.8,1579.0 L221.8,1574.8 L191.7,1571.6 L156.7,1568.7 L121.6,1566.7 L81.5,1565.0" stroke="#00ffff"/><path d="M693.1,2212.4 L682.5,2170.8 L672.3,2134.0 L662.2,2100.6 L650.5,2065.6 L634.7,2022.2 L612.1,1963.9 L595.5,1923.8 L580.5,1890.5 L569.0,1867.0 L557.3,1845.3 L545.6,1825.7 L533.9,1808.3 L518.0,1787.1 L496.1,1760.4 L477.2,1738.6 L460.5,1721.1 L446.9,1708.7 L432.1,1696.8 L417.1,1686.4 L400.4,1676.6 L380.4,1666.6 L358.7,1657.2 L336.9,1649.1 L315.2,1642.3 L291.9,1636.4 L266.8,1631.3 L240.1,1626.8 L213.4,1623.3 L185.0,1620.5 L151.6,1618.1 L119.9,1616.6 L81.5,1615.6" stroke="#30ffcf"/><path d="M664.0,2212.4 L653.8,2177.4 L641.6,2139.0 L624.8,2089.0 L607.8,2040.6 L595.4,2007.2 L583.5,1977.2 L572.1,1950.5 L560.6,1926.0 L550.1,1905.5 L538.9,1885.8 L527.3,1867.4 L514.3,1848.8 L490.8,1817.1 L473.8,1795.7 L458.8,1778.4 L443.8,1763.3 L430.4,1751.6 L415.4,1740.2 L400.4,1730.4 L383.7,1721.1 L363.7,1711.3 L343.6,1702.8 L323.6,1695.6 L301.9,1689.1 L278.5,1683.4 L255.1,1678.8 L230.1,1674.8 L205.1,1671.8 L176.7,1669.3 L146.6,1667.6 L116.6,1666.6 L81.5,1666.1" stroke="#70ff8f"/><path d="M634.2,2212.4 L608.2,2129.0 L597.1,2095.6 L586.5,2065.6 L575.8,2037.3 L565.7,2012.2 L555.6,1989.5 L545.6,1968.8 L533.9,1947.1 L520.6,1924.9 L502.4,1897.1 L480.5,1865.5 L467.2,1847.7 L454.4,1832.1 L442.1,1818.8 L428.8,1806.1 L415.4,1795.0 L400.4,1784.3 L383.7,1774.0 L365.3,1764.2 L347.0,1755.6 L328.6,1748.2 L308.6,1741.4 L288.5,1735.8 L266.8,1730.7 L245.1,1726.6 L221.8,1723.2 L198.4,1720.6 L171.7,1718.6 L143.3,1717.2 L114.9,1716.6 L81.5,1716.6" stroke="#9fff60"/><path d="M607.0,2212.4 L596.9,2179.0 L587.4,2149.2 L578.2,2122.3 L569.0,2096.8 L560.1,2074.0 L550.6,2051.4 L541.8,2032.3 L532.3,2013.3 L518.9,1989.2 L502.7,1962.2 L482.7,1930.5 L466.9,1907.2 L454.4,1890.5 L442.1,1876.0 L428.8,1862.0 L415.4,1849.8 L402.1,1839.3 L387.0,1829.1 L370.3,1819.1 L352.0,1809.5 L335.3,1801.9 L316.9,1794.7 L298.6,1788.7 L278.5,1783.2 L258.5,1778.7 L236.8,1774.8 L215.1,1771.8 L191.7,1769.5 L166.7,1767.9 L140.0,1766.9 L113.2,1766.7 L81.5,1767.1" stroke="#dfff20"/><path d="M581.8,2212.4 L572.6,2184.0 L564.0,2159.0 L554.6,2134.0 L545.8,2112.3 L537.3,2093.0 L528.1,2074.0 L517.7,2053.9 L505.7,2032.3 L488.5,2002.2 L475.5,1980.6 L463.8,1962.4 L452.1,1945.9 L440.0,1930.5 L427.1,1916.1 L415.4,1904.7 L402.1,1893.3 L387.0,1882.2 L372.0,1872.5 L355.3,1862.9 L338.6,1854.5 L321.9,1847.3 L305.2,1841.1 L286.9,1835.4 L268.5,1830.6 L248.5,1826.3 L228.4,1823.0 L208.4,1820.5 L186.7,1818.6 L161.7,1817.3 L136.6,1816.7 L111.6,1816.8 L81.5,1817.7" stroke="#ffef00"/><path d="M556.4,2212.4 L549.0,2192.0 L540.6,2170.9 L532.3,2151.6 L522.3,2130.1 L509.2,2104.0 L490.7,2069.0 L477.2,2044.4 L465.5,2024.6 L456.6,2010.6 L447.1,1996.9 L437.1,1983.8 L427.1,1971.8 L417.1,1961.1 L407.1,1951.6 L397.0,1943.0 L385.4,1934.1 L370.3,1923.8 L355.3,1914.7 L340.3,1906.6 L325.3,1899.5 L308.6,1892.7 L291.9,1886.9 L275.2,1882.1 L256.8,1877.6 L238.5,1874.1 L218.4,1871.1 L198.4,1869.0 L178.4,1867.6 L156.7,1866.8 L133.3,1866.6 L109.9,1867.0 L81.5,1868.2" stroke="#ffbf00"/><path d="M528.7,2212.4 L519.9,2192.4 L509.7,2170.7 L493.4,2137.3 L480.7,2112.3 L470.9,2094.0 L462.2,2078.5 L453.8,2064.8 L445.5,2052.1 L436.0,2038.9 L427.1,2027.6 L418.1,2017.2 L408.7,2007.5 L398.7,1998.1 L388.7,1989.7 L377.0,1980.9 L365.3,1972.8 L352.0,1964.4 L336.9,1956.1 L323.6,1949.6 L308.6,1943.1 L293.5,1937.6 L276.8,1932.4 L260.2,1928.0 L243.5,1924.5 L226.8,1921.7 L208.4,1919.4 L190.0,1917.8 L170.0,1916.8 L150.0,1916.4 L128.3,1916.6 L106.6,1917.3 L81.5,1918.7" stroke="#ff8000"/><path d="M498.8,2212.4 L477.5,2167.4 L468.8,2150.3 L460.5,2134.8 L452.1,2120.3 L443.8,2107.0 L435.4,2094.6 L427.1,2083.3 L418.7,2073.0 L409.2,2062.3 L400.4,2053.5 L390.4,2044.3 L378.7,2034.8 L367.0,2026.1 L355.3,2018.2 L343.6,2011.0 L331.9,2004.6 L318.6,1998.0 L305.2,1992.2 L290.2,1986.6 L275.2,1981.8 L260.2,1977.7 L245.1,1974.4 L230.1,1971.7 L213.4,1969.4 L196.7,1967.7 L180.0,1966.7 L161.7,1966.2 L143.3,1966.1 L124.9,1966.6 L104.9,1967.6 L81.5,1969.2" stroke="#ff5000"/><path d="M469.8,2212.4 L462.2,2197.1 L453.8,2181.5 L446.7,2169.0 L438.8,2156.2 L431.8,2145.7 L423.8,2134.5 L415.4,2123.9 L407.1,2114.3 L398.7,2105.6 L388.7,2096.1 L378.7,2087.5 L367.0,2078.3 L355.3,2070.0 L343.6,2062.4 L331.9,2055.6 L320.3,2049.5 L308.6,2044.0 L295.2,2038.5 L283.5,2034.3 L270.2,2030.1 L256.8,2026.5 L243.5,2023.6 L230.1,2021.1 L216.8,2019.2 L201.7,2017.6 L186.7,2016.6 L171.7,2016.0 L155.0,2015.8 L138.3,2016.1 L121.6,2016.7 L81.5,2019.8" stroke="#ff2000"/><path d="M438.4,2212.4 L432.1,2202.3 L424.3,2190.7 L417.1,2180.9 L410.4,2172.5 L403.0,2164.0 L395.2,2155.7 L387.0,2147.7 L377.0,2138.8 L367.0,2130.5 L357.0,2122.9 L347.0,2116.0 L336.9,2109.6 L326.9,2103.8 L315.2,2097.7 L305.2,2092.9 L293.5,2088.0 L283.5,2084.3 L271.8,2080.4 L260.2,2077.0 L248.5,2074.2 L236.8,2071.8 L225.1,2069.8 L213.4,2068.2 L200.1,2066.9 L173.3,2065.6 L145.0,2065.7 L116.6,2067.1 L81.5,2070.3" stroke="#df0000"/><path d="M398.1,2212.4 L383.7,2197.6 L368.7,2184.1 L352.0,2171.0 L335.3,2159.7 L318.6,2150.0 L300.2,2141.0 L281.9,2133.6 L263.5,2127.6 L245.1,2123.0 L225.1,2119.3 L205.1,2116.8 L183.4,2115.4 L160.0,2115.1 L135.0,2115.9 L109.9,2117.8 L81.5,2120.8" stroke="#af0000"/><path d="M337.6,2212.4 L325.3,2204.5 L311.9,2197.1 L298.6,2190.5 L285.2,2184.8 L271.8,2180.0 L256.8,2175.4 L241.8,2171.8 L226.8,2169.0 L211.7,2166.9 L195.0,2165.5 L178.4,2164.8 L160.0,2164.7 L141.6,2165.4 L123.3,2166.6 L104.9,2168.4 L81.5,2171.3" stroke="#800000"/></g><path d="M165.0,2129.0 L165.0,1295.0 L999.7,1295.0 L999.7,2129.0" fill="none" stroke="#000" stroke-width="3.6"/><path d="M81.5,2212.4L66.1,2237.5M73.9,2230.9L66.1,2237.5L68.5,2227.5M81.5,2170.7L64.7,2182.7M71.5,2180.6L64.7,2182.7L68.9,2176.9M81.5,2129.0L64.1,2129.0M69.9,2130.9L64.1,2129.0L69.9,2127.1M81.5,2087.3L66.4,2076.5M70.2,2081.7L66.4,2076.5L72.6,2078.4M81.5,2045.6L70.6,2025.1M72.0,2033.0L70.6,2025.1L76.5,2030.7M81.5,2003.9L76.8,1974.8M75.2,1984.9L76.8,1974.8L81.5,1983.9M81.5,1962.2L79.2,1925.7M76.0,1938.0L79.2,1925.7L83.9,1937.5M81.5,1920.5L79.6,1877.7M75.6,1892.0L79.6,1877.7L84.9,1891.6M81.5,1878.8L79.8,1830.9M75.1,1846.9L79.8,1830.9L85.6,1846.5M81.5,1837.1L80.0,1785.2M74.8,1802.5L80.0,1785.2L86.2,1802.1M81.5,1795.4L80.2,1740.6M74.7,1758.8L80.2,1740.6L86.6,1758.6M81.5,1753.7L80.5,1697.2M74.7,1716.0L80.5,1697.2L87.0,1715.7M81.5,1712.0L80.9,1654.9M74.9,1673.8L80.9,1654.9L87.3,1673.7M81.5,1670.3L82.1,1613.8M75.7,1632.4L82.1,1613.8L88.0,1632.5M81.5,1628.6L82.5,1573.8M76.2,1591.8L82.5,1573.8L88.2,1592.0M81.5,1586.9L82.8,1535.0M76.7,1552.0L82.8,1535.0L88.0,1552.3M81.5,1545.2L83.0,1497.3M77.3,1512.9L83.0,1497.3L87.8,1513.3M81.5,1503.5L83.3,1460.7M78.0,1474.6L83.3,1460.7L87.3,1475.0M81.5,1461.8L83.4,1425.3M78.8,1437.1L83.4,1425.3L86.8,1437.5M81.5,1420.1L83.6,1391.0M79.7,1400.4L83.6,1391.0L86.1,1400.8M81.5,1378.4L83.7,1357.9M80.7,1364.4L83.7,1357.9L85.2,1364.9M81.5,1336.7L82.1,1325.9M80.8,1329.4L82.1,1325.9L83.1,1329.5M81.5,1295.0L78.9,1295.0M79.8,1295.3L78.9,1295.0L79.8,1294.7M81.5,1253.3L78.4,1265.3M80.7,1261.7L78.4,1265.3L78.1,1261.0M81.5,1211.6L78.2,1236.7M82.0,1228.8L78.2,1236.7L76.6,1228.1M123.3,2212.4L113.3,2237.8M119.4,2230.5L113.3,2237.8L113.8,2228.3M123.3,2170.7L110.1,2182.8M115.8,2180.2L110.1,2182.8L113.1,2177.4M123.3,2129.0L108.5,2129.0M113.3,2130.6L108.5,2129.0L113.3,2127.4M123.3,2087.3L111.8,2076.3M114.4,2081.2L111.8,2076.3L116.8,2078.7M123.3,2045.6L116.6,2024.8M116.6,2032.4L116.6,2024.8L121.1,2031.0M123.3,2003.9L120.8,1974.5M118.4,1984.5L120.8,1974.5L124.8,1983.9M123.3,1962.2L122.1,1925.3M118.5,1937.6L122.1,1925.3L126.5,1937.3M123.3,1920.5L122.3,1877.3M117.9,1891.6L122.3,1877.3L127.4,1891.4M123.3,1878.8L122.5,1830.4M117.5,1846.4L122.5,1830.4L128.0,1846.3M123.3,1837.1L122.7,1784.6M117.2,1802.0L122.7,1784.6L128.6,1801.9M123.3,1795.4L123.1,1740.0M117.1,1758.3L123.1,1740.0L129.2,1758.3M123.3,1753.7L123.7,1696.6M117.4,1715.4L123.7,1696.6L129.8,1715.5M123.3,1712.0L124.0,1654.3M117.5,1673.3L124.0,1654.3L130.0,1673.4M123.3,1670.3L124.1,1613.2M117.6,1632.0L124.1,1613.2L130.1,1632.1M123.3,1628.6L124.3,1573.2M117.9,1591.4L124.3,1573.2L130.0,1591.6M123.3,1586.9L124.4,1534.4M118.3,1551.6L124.4,1534.4L129.7,1551.9M123.3,1545.2L124.5,1496.8M118.8,1512.6L124.5,1496.8L129.4,1512.9M123.3,1503.5L124.6,1460.3M119.5,1474.4L124.6,1460.3L128.9,1474.7M123.3,1461.8L124.7,1424.9M120.2,1436.9L124.7,1424.9L128.3,1437.2M123.3,1420.1L124.8,1390.7M121.1,1400.2L124.8,1390.7L127.5,1400.6M123.3,1378.4L124.8,1357.6M122.0,1364.3L124.8,1357.6L126.6,1364.7M123.3,1336.7L123.7,1325.7M122.4,1329.3L123.7,1325.7L124.7,1329.4M123.3,1295.0L121.4,1295.0M122.0,1295.2L121.4,1295.0L122.0,1294.8M123.3,1253.3L121.1,1265.4M123.1,1261.7L121.1,1265.4L120.5,1261.2M123.3,1211.6L121.0,1237.0M124.5,1228.8L121.0,1237.0L119.0,1228.3M165.0,2212.4L165.0,2238.0M167.8,2229.5L165.0,2238.0L162.2,2229.5M165.0,2170.7L165.0,2182.9M166.3,2178.9L165.0,2182.9L163.7,2178.9M165.0,2087.3L165.0,2076.3M163.8,2079.9L165.0,2076.3L166.2,2079.9M165.0,2045.6L165.0,2024.7M162.7,2031.6L165.0,2024.7L167.3,2031.6M165.0,2003.9L165.0,1974.3M161.8,1984.0L165.0,1974.3L168.2,1984.0M165.0,1962.2L165.0,1925.0M161.0,1937.3L165.0,1925.0L169.0,1937.3M165.0,1920.5L165.0,1876.9M160.3,1891.3L165.0,1876.9L169.7,1891.3M165.0,1878.8L165.0,1830.0M159.7,1846.1L165.0,1830.0L170.3,1846.1M165.0,1837.1L165.0,1784.2M159.2,1801.7L165.0,1784.2L170.8,1801.7M165.0,1795.4L165.0,1739.6M158.9,1758.0L165.0,1739.6L171.1,1758.0M165.0,1753.7L165.0,1696.2M158.7,1715.2L165.0,1696.2L171.3,1715.2M165.0,1712.0L165.0,1653.9M158.7,1673.1L165.0,1653.9L171.3,1673.1M165.0,1670.3L165.0,1612.8M158.7,1631.8L165.0,1612.8L171.3,1631.8M165.0,1628.6L165.0,1572.8M158.9,1591.2L165.0,1572.8L171.1,1591.2M165.0,1586.9L165.0,1534.0M159.2,1551.5L165.0,1534.0L170.8,1551.5M165.0,1545.2L165.0,1496.4M159.7,1512.5L165.0,1496.4L170.3,1512.5M165.0,1503.5L165.0,1459.9M160.3,1474.3L165.0,1459.9L169.7,1474.3M165.0,1461.8L165.0,1424.6M161.0,1436.9L165.0,1424.6L169.0,1436.9M165.0,1420.1L165.0,1390.5M161.8,1400.2L165.0,1390.5L168.2,1400.2M165.0,1378.4L165.0,1357.5M162.7,1364.4L165.0,1357.5L167.3,1364.4M165.0,1336.7L165.0,1325.7M163.8,1329.3L165.0,1325.7L166.2,1329.3M165.0,1253.3L165.0,1265.5M166.3,1261.5L165.0,1265.5L163.7,1261.5M165.0,1211.6L165.0,1237.2M167.8,1228.7L165.0,1237.2L162.2,1228.7M206.7,2212.4L209.4,2238.1M211.3,2229.3L209.4,2238.1L205.8,2229.9M206.7,2170.7L210.5,2182.9M210.6,2178.5L210.5,2182.9L207.9,2179.3M206.7,2129.0L211.3,2129.0M209.8,2128.5L211.3,2129.0L209.8,2129.5M206.7,2087.3L210.5,2076.2M208.1,2079.5L210.5,2076.2L210.5,2080.3M206.7,2045.6L209.5,2024.6M206.3,2031.2L209.5,2024.6L210.9,2031.8M206.7,2003.9L209.1,1974.2M205.1,1983.7L209.1,1974.2L211.5,1984.2M206.7,1962.2L209.0,1924.9M204.2,1937.0L209.0,1924.9L212.3,1937.5M206.7,1920.5L209.0,1876.8M203.5,1891.0L209.0,1876.8L213.0,1891.5M206.7,1878.8L209.0,1829.8M202.9,1845.7L209.0,1829.8L213.6,1846.2M206.7,1837.1L209.0,1784.0M202.5,1801.3L209.0,1784.0L214.1,1801.8M206.7,1795.4L209.1,1739.4M202.2,1757.6L209.1,1739.4L214.4,1758.2M206.7,1753.7L209.1,1696.0M202.0,1714.8L209.1,1696.0L214.6,1715.3M206.7,1712.0L209.1,1653.7M202.0,1672.7L209.1,1653.7L214.6,1673.2M206.7,1670.3L209.1,1612.6M202.0,1631.4L209.1,1612.6L214.6,1631.9M206.7,1628.6L209.1,1572.6M202.2,1590.8L209.1,1572.6L214.4,1591.4M206.7,1586.9L209.1,1533.8M202.5,1551.1L209.1,1533.8L214.1,1551.6M206.7,1545.2L209.1,1496.2M203.0,1512.1L209.1,1496.2L213.7,1512.6M206.7,1503.5L209.1,1459.8M203.6,1473.9L209.1,1459.8L213.1,1474.5M206.7,1461.8L209.1,1424.5M204.3,1436.5L209.1,1424.5L212.4,1437.1M206.7,1420.1L209.1,1390.4M205.1,1399.9L209.1,1390.4L211.6,1400.4M206.7,1378.4L209.1,1357.4M206.1,1364.1L209.1,1357.4L210.6,1364.6M206.7,1336.7L209.1,1325.6M207.1,1329.0L209.1,1325.6L209.6,1329.5M206.7,1295.0L209.2,1295.0M208.4,1294.7L209.2,1295.0L208.4,1295.3M206.7,1253.3L209.2,1265.5M209.7,1261.2L209.2,1265.5L207.0,1261.8M206.7,1211.6L209.2,1237.3M211.2,1228.5L209.2,1237.3L205.6,1229.1M248.5,2212.4L255.5,2238.0M256.0,2228.8L255.5,2238.0L250.4,2230.3M248.5,2170.7L256.4,2182.9M255.1,2178.0L256.4,2182.9L252.4,2179.7M248.5,2129.0L256.9,2129.0M254.1,2128.1L256.9,2129.0L254.1,2129.9M248.5,2087.3L256.2,2076.3M252.4,2079.1L256.2,2076.3L254.8,2080.7M248.5,2045.6L255.2,2024.7M250.7,2030.8L255.2,2024.7L255.2,2032.3M248.5,2003.9L254.7,1974.2M249.4,1983.3L254.7,1974.2L255.9,1984.7M248.5,1962.2L254.6,1925.0M248.5,1936.6L254.6,1925.0L256.6,1937.9M248.5,1920.5L254.5,1876.9M247.7,1890.6L254.5,1876.9L257.2,1891.9M248.5,1878.8L254.4,1829.9M247.1,1845.4L254.4,1829.9L257.8,1846.7M248.5,1837.1L254.3,1784.2M246.6,1801.0L254.3,1784.2L258.1,1802.3M248.5,1795.4L254.2,1739.6M246.2,1757.4L254.2,1739.6L258.4,1758.6M248.5,1753.7L254.1,1696.1M246.0,1714.5L254.1,1696.1L258.5,1715.7M248.5,1712.0L254.0,1653.8M245.9,1672.4L254.0,1653.8L258.5,1673.6M248.5,1670.3L253.9,1612.7M245.8,1631.1L253.9,1612.7L258.4,1632.3M248.5,1628.6L253.8,1572.8M246.0,1590.6L253.8,1572.8L258.1,1591.8M248.5,1586.9L253.7,1534.0M246.2,1550.9L253.7,1534.0L257.7,1552.0M248.5,1545.2L253.6,1496.3M246.6,1511.9L253.6,1496.3L257.2,1513.0M248.5,1503.5L253.5,1459.9M247.1,1473.7L253.5,1459.9L256.6,1474.8M248.5,1461.8L253.4,1424.6M247.7,1436.3L253.4,1424.6L255.8,1437.4M248.5,1420.1L253.3,1390.4M248.5,1399.7L253.3,1390.4L254.9,1400.8M248.5,1378.4L253.2,1357.5M249.3,1363.9L253.2,1357.5L253.9,1364.9M248.5,1336.7L253.0,1325.7M250.3,1328.8L253.0,1325.7L252.7,1329.8M248.5,1295.0L252.9,1295.0M251.5,1294.5L252.9,1295.0L251.5,1295.5M248.5,1253.3L252.8,1265.5M252.7,1261.0L252.8,1265.5L250.0,1262.0M248.5,1211.6L252.7,1237.2M254.1,1228.3L252.7,1237.2L248.5,1229.2M290.2,2212.4L305.1,2237.7M302.9,2227.8L305.1,2237.7L297.4,2231.0M290.2,2170.7L305.1,2182.8M301.5,2177.2L305.1,2182.8L298.9,2180.4M290.2,2129.0L305.1,2129.0M300.2,2127.4L305.1,2129.0L300.2,2130.6M290.2,2087.3L304.6,2076.4M298.6,2078.4L304.6,2076.4L301.0,2081.5M290.2,2045.6L304.0,2024.9M297.2,2030.2L304.0,2024.9L301.7,2033.2M290.2,2003.9L303.6,1974.5M296.0,1982.8L303.6,1974.5L302.4,1985.7M290.2,1962.2L303.4,1925.4M295.0,1936.1L303.4,1925.4L303.0,1938.9M290.2,1920.5L303.1,1877.3M294.1,1890.2L303.1,1877.3L303.5,1893.0M290.2,1878.8L302.8,1830.4M293.4,1845.0L302.8,1830.4L303.9,1847.8M290.2,1837.1L302.5,1784.7M292.7,1800.7L302.5,1784.7L304.1,1803.3M290.2,1795.4L302.2,1740.1M292.2,1757.1L302.2,1740.1L304.2,1759.7M290.2,1753.7L301.9,1696.7M291.8,1714.2L301.9,1696.7L304.2,1716.8M290.2,1712.0L301.5,1654.4M291.5,1672.2L301.5,1654.4L304.1,1674.7M290.2,1670.3L301.2,1613.3M291.4,1630.9L301.2,1613.3L303.8,1633.3M290.2,1628.6L300.9,1573.3M291.3,1590.4L300.9,1573.3L303.4,1592.7M290.2,1586.9L300.5,1534.5M291.4,1550.7L300.5,1534.5L302.8,1552.9M290.2,1545.2L300.2,1496.8M291.6,1511.7L300.2,1496.8L302.1,1513.9M290.2,1503.5L299.8,1460.3M291.9,1473.5L299.8,1460.3L301.3,1475.6M290.2,1461.8L299.4,1425.0M292.3,1436.1L299.4,1425.0L300.4,1438.1M290.2,1420.1L299.0,1390.7M292.9,1399.5L299.0,1390.7L299.3,1401.4M290.2,1378.4L298.5,1357.7M293.5,1363.6L298.5,1357.7L298.1,1365.4M290.2,1336.7L298.1,1325.8M294.3,1328.5L298.1,1325.8L296.7,1330.2M290.2,1295.0L297.6,1295.0M295.2,1294.2L297.6,1295.0L295.2,1295.8M290.2,1253.3L297.1,1265.4M296.1,1260.6L297.1,1265.4L293.5,1262.2M290.2,1211.6L296.5,1236.9M297.2,1227.9L296.5,1236.9L291.7,1229.3M331.9,2212.4L348.8,2237.3M345.9,2227.2L348.8,2237.3L340.5,2230.9M331.9,2170.7L348.5,2182.6M344.3,2176.8L348.5,2182.6L341.7,2180.4M331.9,2129.0L348.2,2129.0M342.8,2127.2L348.2,2129.0L342.8,2130.8M331.9,2087.3L347.8,2076.6M341.4,2078.4L347.8,2076.6L343.8,2081.8M331.9,2045.6L347.5,2025.3M340.1,2030.3L347.5,2025.3L344.6,2033.7M331.9,2003.9L347.1,1975.1M339.0,1982.9L347.1,1975.1L345.3,1986.3M331.9,1962.2L346.8,1926.0M338.0,1936.4L346.8,1926.0L345.8,1939.6M331.9,1920.5L346.5,1878.1M337.1,1890.5L346.5,1878.1L346.3,1893.7M331.9,1878.8L346.1,1831.3M336.3,1845.5L346.1,1831.3L346.6,1848.5M331.9,1837.1L345.7,1785.7M335.6,1801.2L345.7,1785.7L346.8,1804.2M331.9,1795.4L345.4,1741.2M335.0,1757.6L345.4,1741.2L346.8,1760.5M331.9,1753.7L345.0,1697.8M334.6,1714.8L345.0,1697.8L346.8,1717.6M331.9,1712.0L344.6,1655.5M334.3,1672.8L344.6,1655.5L346.6,1675.5M331.9,1670.3L344.2,1614.4M334.0,1631.5L344.2,1614.4L346.2,1634.2M331.9,1628.6L343.8,1574.4M333.9,1591.0L343.8,1574.4L345.8,1593.6M331.9,1586.9L343.3,1535.5M334.0,1551.2L343.3,1535.5L345.2,1553.7M331.9,1545.2L342.9,1497.7M334.1,1512.2L342.9,1497.7L344.4,1514.6M331.9,1503.5L342.4,1461.1M334.3,1474.0L342.4,1461.1L343.5,1476.2M331.9,1461.8L341.9,1425.6M334.7,1436.5L341.9,1425.6L342.5,1438.7M331.9,1420.1L341.3,1391.3M335.1,1399.8L341.3,1391.3L341.4,1401.8M331.9,1378.4L340.8,1358.1M335.7,1363.8L340.8,1358.1L340.1,1365.7M331.9,1336.7L340.2,1326.0M336.3,1328.6L340.2,1326.0L338.6,1330.4M331.9,1295.0L339.6,1295.0M337.0,1294.2L339.6,1295.0L337.0,1295.8M331.9,1253.3L338.9,1265.2M337.9,1260.5L338.9,1265.2L335.3,1262.0M331.9,1211.6L338.1,1236.5M338.8,1227.6L338.1,1236.5L333.3,1228.9M373.7,2212.4L394.4,2236.6M390.2,2226.3L394.4,2236.6L384.9,2230.8M373.7,2170.7L394.0,2182.2M388.5,2176.2L394.0,2182.2L386.0,2180.6M373.7,2129.0L393.6,2129.0M387.0,2126.8L393.6,2129.0L387.0,2131.2M373.7,2087.3L393.2,2076.9M385.6,2078.2L393.2,2076.9L387.9,2082.4M373.7,2045.6L392.7,2025.8M384.3,2030.3L392.7,2025.8L388.6,2034.4M373.7,2003.9L392.3,1975.9M383.1,1983.1L392.3,1975.9L389.2,1987.2M373.7,1962.2L391.9,1927.1M382.0,1936.7L391.9,1927.1L389.7,1940.6M373.7,1920.5L391.4,1879.3M381.1,1891.0L391.4,1879.3L390.0,1894.8M373.7,1878.8L390.9,1832.7M380.2,1846.0L390.9,1832.7L390.3,1849.8M373.7,1837.1L390.5,1787.1M379.5,1801.8L390.5,1787.1L390.4,1805.4M373.7,1795.4L390.0,1742.7M378.8,1758.3L390.0,1742.7L390.3,1761.8M373.7,1753.7L389.4,1699.3M378.3,1715.6L389.4,1699.3L390.2,1719.0M373.7,1712.0L388.9,1657.1M377.9,1673.5L388.9,1657.1L389.9,1676.9M373.7,1670.3L388.4,1615.9M377.6,1632.3L388.4,1615.9L389.4,1635.5M373.7,1628.6L387.8,1575.9M377.4,1591.7L387.8,1575.9L388.9,1594.8M373.7,1586.9L387.2,1536.9M377.3,1551.9L387.2,1536.9L388.2,1554.9M373.7,1545.2L386.6,1499.1M377.3,1512.9L386.6,1499.1L387.3,1515.7M373.7,1503.5L385.9,1462.3M377.4,1474.6L385.9,1462.3L386.4,1477.2M373.7,1461.8L385.2,1426.7M377.6,1437.0L385.2,1426.7L385.2,1439.5M373.7,1420.1L384.5,1392.1M377.9,1400.2L384.5,1392.1L384.0,1402.5M373.7,1378.4L383.7,1358.6M378.2,1364.1L383.7,1358.6L382.6,1366.2M373.7,1336.7L382.9,1326.3M378.7,1328.7L382.9,1326.3L381.0,1330.7M373.7,1295.0L381.9,1295.0M379.2,1294.1L381.9,1295.0L379.2,1295.9M373.7,1253.3L380.9,1264.8M379.7,1260.2L380.9,1264.8L377.2,1261.8M373.7,1211.6L379.6,1235.8M380.3,1227.1L379.6,1235.8L375.0,1228.4M415.4,2212.4L434.7,2235.5M430.8,2225.8L434.7,2235.5L425.8,2230.0M415.4,2170.7L434.3,2181.7M429.2,2176.0L434.3,2181.7L426.8,2180.2M415.4,2129.0L433.8,2129.0M427.8,2127.0L433.8,2129.0L427.8,2131.0M415.4,2087.3L433.4,2077.3M426.4,2078.6L433.4,2077.3L428.6,2082.6M415.4,2045.6L433.0,2026.7M425.1,2031.0L433.0,2026.7L429.2,2034.8M415.4,2003.9L432.5,1977.1M424.0,1984.1L432.5,1977.1L429.8,1987.8M415.4,1962.2L432.1,1928.5M422.9,1937.8L432.1,1928.5L430.2,1941.5M415.4,1920.5L431.6,1881.1M422.0,1892.3L431.6,1881.1L430.6,1895.8M415.4,1878.8L431.1,1834.6M421.1,1847.5L431.1,1834.6L430.8,1850.9M415.4,1837.1L430.6,1789.3M420.4,1803.4L430.6,1789.3L430.8,1806.7M415.4,1795.4L430.1,1744.9M419.8,1760.0L430.1,1744.9L430.8,1763.2M415.4,1753.7L429.6,1701.6M419.2,1717.3L429.6,1701.6L430.6,1720.4M415.4,1712.0L429.0,1659.4M418.8,1675.3L429.0,1659.4L430.3,1678.3M415.4,1670.3L428.4,1618.2M418.5,1634.0L428.4,1618.2L429.8,1636.8M415.4,1628.6L427.8,1578.1M418.2,1593.4L427.8,1578.1L429.2,1596.1M415.4,1586.9L427.2,1539.1M418.1,1553.6L427.2,1539.1L428.5,1556.1M415.4,1545.2L426.5,1501.0M418.1,1514.4L426.5,1501.0L427.7,1516.8M415.4,1503.5L425.8,1464.1M418.1,1475.9L425.8,1464.1L426.7,1478.2M415.4,1461.8L425.0,1428.1M418.2,1438.2L425.0,1428.1L425.5,1440.3M415.4,1420.1L424.2,1393.3M418.4,1401.2L424.2,1393.3L424.2,1403.1M415.4,1378.4L423.3,1359.5M418.6,1364.9L423.3,1359.5L422.7,1366.6M415.4,1336.7L422.2,1326.7M418.9,1329.3L422.2,1326.7L421.1,1330.7M415.4,1295.0L421.0,1295.0M419.1,1294.4L421.0,1295.0L419.1,1295.6M415.4,1253.3L419.4,1264.3M419.3,1260.3L419.4,1264.3L416.9,1261.1M415.4,1211.6L415.9,1234.7M418.2,1227.1L415.9,1234.7L413.2,1227.1M457.1,2212.4L483.1,2234.0M476.9,2224.0L483.1,2234.0L472.2,2229.7M457.1,2170.7L482.6,2181.0M475.3,2174.8L482.6,2181.0L473.1,2180.4M457.1,2129.0L482.0,2129.0M473.8,2126.3L482.0,2129.0L473.8,2131.7M457.1,2087.3L481.4,2078.0M472.4,2078.4L481.4,2078.0L474.4,2083.7M457.1,2045.6L480.8,2027.9M471.1,2031.2L480.8,2027.9L474.9,2036.3M457.1,2003.9L480.2,1978.9M469.9,1984.6L480.2,1978.9L475.3,1989.6M457.1,1962.2L479.6,1930.8M468.8,1938.7L479.6,1930.8L475.6,1943.6M457.1,1920.5L478.9,1883.7M467.7,1893.5L478.9,1883.7L475.8,1898.2M457.1,1878.8L478.3,1837.6M466.8,1848.9L478.3,1837.6L475.8,1853.5M457.1,1837.1L477.6,1792.4M466.0,1804.9L477.6,1792.4L475.7,1809.4M457.1,1795.4L476.9,1748.3M465.2,1761.7L476.9,1748.3L475.5,1766.0M457.1,1753.7L476.1,1705.1M464.6,1719.1L476.1,1705.1L475.2,1723.2M457.1,1712.0L475.4,1662.9M464.0,1677.1L475.4,1662.9L474.7,1681.1M457.1,1670.3L474.6,1621.7M463.5,1635.8L474.6,1621.7L474.1,1639.6M457.1,1628.6L473.7,1581.5M463.1,1595.2L473.7,1581.5L473.4,1598.8M457.1,1586.9L472.8,1542.2M462.8,1555.3L472.8,1542.2L472.5,1558.7M457.1,1545.2L471.9,1504.0M462.5,1516.0L471.9,1504.0L471.5,1519.2M457.1,1503.5L470.9,1466.7M462.4,1477.3L470.9,1466.7L470.4,1480.3M457.1,1461.8L469.8,1430.4M462.2,1439.4L469.8,1430.4L469.1,1442.1M457.1,1420.1L468.6,1395.1M462.1,1402.1L468.6,1395.1L467.6,1404.6M457.1,1378.4L467.3,1360.7M462.0,1365.5L467.3,1360.7L465.9,1367.7M457.1,1336.7L465.8,1327.4M461.9,1329.5L465.8,1327.4L464.0,1331.4M457.1,1295.0L463.9,1295.0M461.7,1294.3L463.9,1295.0L461.7,1295.7M457.1,1253.3L461.3,1263.6M461.1,1259.8L461.3,1263.6L458.8,1260.7M457.1,1211.6L453.8,1233.2M457.3,1226.4L453.8,1233.2L452.6,1225.7M498.9,2212.4L529.0,2232.2M521.2,2222.4L529.0,2232.2L516.9,2228.9M498.9,2170.7L528.4,2180.1M519.7,2173.8L528.4,2180.1L517.6,2180.2M498.9,2129.0L527.7,2129.0M518.2,2125.9L527.7,2129.0L518.2,2132.1M498.9,2087.3L527.1,2078.8M516.8,2078.5L527.1,2078.8L518.7,2084.6M498.9,2045.6L526.4,2029.4M515.5,2031.8L526.4,2029.4L519.1,2037.8M498.9,2003.9L525.7,1981.0M514.3,1985.6L525.7,1981.0L519.3,1991.5M498.9,1962.2L525.0,1933.4M513.2,1940.1L525.0,1933.4L519.5,1945.8M498.9,1920.5L524.2,1886.8M512.2,1895.2L524.2,1886.8L519.5,1900.7M498.9,1878.8L523.4,1841.0M511.2,1850.8L523.4,1841.0L519.5,1856.2M498.9,1837.1L522.7,1796.2M510.4,1807.1L522.7,1796.2L519.3,1812.3M498.9,1795.4L521.8,1752.2M509.6,1764.0L521.8,1752.2L519.0,1769.0M498.9,1753.7L521.0,1709.2M508.9,1721.5L521.0,1709.2L518.5,1726.3M498.9,1712.0L520.1,1667.1M508.2,1679.6L520.1,1667.1L518.0,1684.2M498.9,1670.3L519.2,1625.8M507.6,1638.3L519.2,1625.8L517.3,1642.7M498.9,1628.6L518.2,1585.4M507.1,1597.6L518.2,1585.4L516.5,1601.8M498.9,1586.9L517.2,1546.0M506.7,1557.5L517.2,1546.0L515.6,1561.5M498.9,1545.2L516.2,1507.4M506.3,1518.0L516.2,1507.4L514.6,1521.8M498.9,1503.5L515.0,1469.8M506.0,1479.2L515.0,1469.8L513.4,1482.7M498.9,1461.8L513.8,1433.0M505.7,1440.9L513.8,1433.0L512.0,1444.1M498.9,1420.1L512.4,1397.2M505.5,1403.3L512.4,1397.2L510.5,1406.2M498.9,1378.4L511.0,1362.2M505.2,1366.2L511.0,1362.2L508.7,1368.9M498.9,1336.7L509.3,1328.2M504.9,1329.8L509.3,1328.2L506.8,1332.1M498.9,1295.0L507.2,1295.0M504.5,1294.1L507.2,1295.0L504.5,1295.9M498.9,1253.3L504.5,1262.7M503.7,1259.0L504.5,1262.7L501.6,1260.2M498.9,1211.6L496.3,1231.4M499.3,1225.1L496.3,1231.4L495.0,1224.6M540.6,2212.4L571.7,2230.4M563.4,2221.0L571.7,2230.4L559.5,2227.8M540.6,2170.7L571.1,2179.3M562.0,2173.1L571.1,2179.3L560.1,2179.8M540.6,2129.0L570.4,2129.0M560.6,2125.8L570.4,2129.0L560.6,2132.2M540.6,2087.3L569.7,2079.5M559.3,2078.9L569.7,2079.5L560.9,2085.3M540.6,2045.6L569.0,2030.9M558.0,2032.7L569.0,2030.9L561.2,2038.8M540.6,2003.9L568.2,1983.1M556.9,1986.9L568.2,1983.1L561.4,1993.0M540.6,1962.2L567.5,1936.1M555.8,1941.8L567.5,1936.1L561.5,1947.6M540.6,1920.5L566.7,1889.9M554.8,1897.1L566.7,1889.9L561.4,1902.8M540.6,1878.8L565.9,1844.5M553.8,1853.1L565.9,1844.5L561.3,1858.6M540.6,1837.1L565.1,1799.9M552.9,1809.5L565.1,1799.9L561.0,1814.9M540.6,1795.4L564.2,1756.2M552.1,1766.6L564.2,1756.2L560.7,1771.7M540.6,1753.7L563.3,1713.3M551.4,1724.1L563.3,1713.3L560.2,1729.1M540.6,1712.0L562.4,1671.2M550.8,1682.3L562.4,1671.2L559.6,1687.0M540.6,1670.3L561.4,1629.9M550.1,1640.9L561.4,1629.9L559.0,1645.5M540.6,1628.6L560.4,1589.4M549.6,1600.2L560.4,1589.4L558.1,1604.5M540.6,1586.9L559.3,1549.7M549.1,1560.0L559.3,1549.7L557.2,1564.0M540.6,1545.2L558.2,1510.9M548.6,1520.3L558.2,1510.9L556.1,1524.1M540.6,1503.5L557.0,1472.9M548.2,1481.2L557.0,1472.9L554.9,1484.8M540.6,1461.8L555.6,1435.7M547.8,1442.7L555.6,1435.7L553.5,1445.9M540.6,1420.1L554.2,1399.3M547.5,1404.7L554.2,1399.3L552.0,1407.6M540.6,1378.4L552.6,1363.7M547.0,1367.2L552.6,1363.7L550.2,1369.9M540.6,1336.7L550.7,1328.9M546.5,1330.4L550.7,1328.9L548.2,1332.6M540.6,1295.0L548.4,1295.0M545.8,1294.2L548.4,1295.0L545.8,1295.8M540.6,1253.3L545.0,1261.9M544.5,1258.6L545.0,1261.9L542.6,1259.5M540.6,1211.6L535.9,1229.6M539.4,1224.1L535.9,1229.6L535.5,1223.1M582.4,2212.4L615.1,2228.3M606.0,2219.5L615.1,2228.3L602.6,2226.6M582.4,2170.7L614.4,2178.3M604.6,2172.3L614.4,2178.3L603.0,2179.3M582.4,2129.0L613.6,2129.0M603.3,2125.6L613.6,2129.0L603.3,2132.4M582.4,2087.3L612.9,2080.5M602.1,2079.4L612.9,2080.5L603.6,2086.0M582.4,2045.6L612.1,2032.6M600.9,2033.7L612.1,2032.6L603.7,2040.1M582.4,2003.9L611.3,1985.5M599.8,1988.4L611.3,1985.5L603.8,1994.7M582.4,1962.2L610.5,1939.1M598.7,1943.7L610.5,1939.1L603.7,1949.8M582.4,1920.5L609.7,1893.5M597.7,1899.4L609.7,1893.5L603.6,1905.4M582.4,1878.8L608.8,1848.5M596.8,1855.6L608.8,1848.5L603.4,1861.4M582.4,1837.1L607.9,1804.3M595.9,1812.3L607.9,1804.3L603.1,1817.9M582.4,1795.4L607.0,1760.8M595.1,1769.5L607.0,1760.8L602.6,1774.9M582.4,1753.7L606.1,1718.0M594.3,1727.2L606.1,1718.0L602.1,1732.4M582.4,1712.0L605.1,1676.0M593.6,1685.4L605.1,1676.0L601.5,1690.3M582.4,1670.3L604.0,1634.6M593.0,1644.0L604.0,1634.6L600.7,1648.7M582.4,1628.6L602.9,1594.0M592.4,1603.2L602.9,1594.0L599.9,1607.7M582.4,1586.9L601.7,1554.1M591.8,1562.8L601.7,1554.1L598.9,1567.0M582.4,1545.2L600.5,1514.9M591.2,1522.9L600.5,1514.9L597.8,1526.9M582.4,1503.5L599.2,1476.5M590.7,1483.6L599.2,1476.5L596.6,1487.2M582.4,1461.8L597.7,1438.7M590.1,1444.7L597.7,1438.7L595.2,1448.0M582.4,1420.1L596.2,1401.7M589.6,1406.3L596.2,1401.7L593.6,1409.3M582.4,1378.4L594.4,1365.4M589.0,1368.4L594.4,1365.4L591.8,1371.0M582.4,1336.7L592.2,1329.9M588.2,1331.0L592.2,1329.9L589.7,1333.2M582.4,1295.0L589.5,1295.0M587.1,1294.2L589.5,1295.0L587.1,1295.8M582.4,1253.3L584.5,1260.9M584.6,1258.1L584.5,1260.9L583.0,1258.6M582.4,1211.6L575.9,1227.5M579.8,1222.9L575.9,1227.5L576.3,1221.5M624.1,2212.4L653.9,2226.1M645.6,2218.3L653.9,2226.1L642.6,2224.8M624.1,2170.7L653.3,2177.3M644.4,2171.9L653.3,2177.3L642.9,2178.3M624.1,2129.0L652.6,2129.0M643.2,2125.9L652.6,2129.0L643.2,2132.1M624.1,2087.3L651.9,2081.4M642.1,2080.3L651.9,2081.4L643.4,2086.4M624.1,2045.6L651.2,2034.4M641.0,2035.1L651.2,2034.4L643.5,2041.0M624.1,2003.9L650.5,1988.0M640.1,1990.4L650.5,1988.0L643.5,1996.1M624.1,1962.2L649.8,1942.2M639.1,1946.0L649.8,1942.2L643.5,1951.6M624.1,1920.5L649.0,1897.1M638.2,1902.1L649.0,1897.1L643.3,1907.5M624.1,1878.8L648.2,1852.6M637.4,1858.6L648.2,1852.6L643.1,1863.9M624.1,1837.1L647.4,1808.7M636.6,1815.5L647.4,1808.7L642.8,1820.6M624.1,1795.4L646.5,1765.5M635.9,1772.9L646.5,1765.5L642.4,1777.8M624.1,1753.7L645.7,1722.8M635.2,1730.7L645.7,1722.8L641.9,1735.4M624.1,1712.0L644.8,1680.8M634.5,1688.8L644.8,1680.8L641.3,1693.4M624.1,1670.3L643.8,1639.4M633.9,1647.5L643.8,1639.4L640.7,1651.8M624.1,1628.6L642.8,1598.7M633.4,1606.5L642.8,1598.7L639.9,1610.6M624.1,1586.9L641.7,1558.5M632.8,1566.0L641.7,1558.5L639.0,1569.8M624.1,1545.2L640.6,1519.0M632.3,1525.8L640.6,1519.0L638.0,1529.4M624.1,1503.5L639.4,1480.1M631.8,1486.2L639.4,1480.1L636.9,1489.5M624.1,1461.8L638.1,1441.8M631.3,1446.9L638.1,1441.8L635.6,1449.9M624.1,1420.1L636.6,1404.2M630.7,1408.1L636.6,1404.2L634.2,1410.8M624.1,1378.4L634.9,1367.2M630.1,1369.7L634.9,1367.2L632.6,1372.1M624.1,1336.7L633.0,1330.8M629.4,1331.8L633.0,1330.8L630.7,1333.7M624.1,1295.0L630.5,1295.0M628.3,1294.3L630.5,1295.0L628.3,1295.7M624.1,1253.3L625.4,1259.9M625.7,1257.5L625.4,1259.9L624.3,1257.8M624.1,1211.6L618.0,1225.3M621.5,1221.5L618.0,1225.3L618.5,1220.1M665.8,2212.4L693.2,2224.3M685.5,2217.4L693.2,2224.3L682.9,2223.3M665.8,2170.7L692.6,2176.4M684.4,2171.6L692.6,2176.4L683.2,2177.4M665.8,2129.0L692.0,2129.0M683.4,2126.1L692.0,2129.0L683.4,2131.9M665.8,2087.3L691.4,2082.2M682.4,2081.1L691.4,2082.2L683.5,2086.7M665.8,2045.6L690.8,2035.9M681.5,2036.4L690.8,2035.9L683.6,2041.8M665.8,2003.9L690.1,1990.2M680.6,1992.0L690.1,1990.2L683.6,1997.3M665.8,1962.2L689.4,1945.0M679.8,1948.1L689.4,1945.0L683.5,1953.2M665.8,1920.5L688.7,1900.3M679.0,1904.5L688.7,1900.3L683.4,1909.5M665.8,1878.8L688.0,1856.2M678.2,1861.2L688.0,1856.2L683.2,1866.0M665.8,1837.1L687.3,1812.6M677.5,1818.3L687.3,1812.6L682.9,1823.0M665.8,1795.4L686.5,1769.5M676.9,1775.8L686.5,1769.5L682.5,1780.3M665.8,1753.7L685.7,1727.0M676.2,1733.7L685.7,1727.0L682.1,1738.0M665.8,1712.0L684.9,1685.1M675.7,1691.9L684.9,1685.1L681.5,1696.0M665.8,1670.3L684.0,1643.6M675.1,1650.4L684.0,1643.6L680.9,1654.4M665.8,1628.6L683.1,1602.7M674.6,1609.4L683.1,1602.7L680.2,1613.1M665.8,1586.9L682.1,1562.4M674.1,1568.7L682.1,1562.4L679.4,1572.2M665.8,1545.2L681.1,1522.6M673.6,1528.4L681.1,1522.6L678.5,1531.7M665.8,1503.5L680.0,1483.3M673.1,1488.4L680.0,1483.3L677.5,1491.5M665.8,1461.8L678.8,1444.6M672.7,1448.8L678.8,1444.6L676.4,1451.7M665.8,1420.1L677.5,1406.4M672.2,1409.6L677.5,1406.4L675.2,1412.2M665.8,1378.4L676.1,1368.7M671.6,1370.8L676.1,1368.7L673.7,1373.0M665.8,1336.7L674.3,1331.6M671.0,1332.3L674.3,1331.6L672.1,1334.2M665.8,1295.0L672.2,1295.0M670.1,1294.3L672.2,1295.0L670.1,1295.7M665.8,1253.3L668.7,1259.0M668.4,1256.8L668.7,1259.0L667.1,1257.4M665.8,1211.6L660.9,1223.5M663.8,1220.1L660.9,1223.5L661.2,1219.0M707.6,2212.4L732.9,2222.4M725.6,2216.3L732.9,2222.4L723.5,2221.9M707.6,2170.7L732.4,2175.5M724.7,2171.2L732.4,2175.5L723.7,2176.6M707.6,2129.0L731.8,2129.0M723.8,2126.4L731.8,2129.0L723.8,2131.6M707.6,2087.3L731.2,2083.0M723.0,2081.8L731.2,2083.0L723.9,2087.0M707.6,2045.6L730.7,2037.4M722.1,2037.6L730.7,2037.4L723.9,2042.6M707.6,2003.9L730.1,1992.3M721.4,1993.7L730.1,1992.3L723.9,1998.6M707.6,1962.2L729.5,1947.6M720.6,1950.1L729.5,1947.6L723.8,1954.8M707.6,1920.5L728.8,1903.4M719.9,1906.8L728.8,1903.4L723.7,1911.4M707.6,1878.8L728.2,1859.7M719.3,1863.8L728.2,1859.7L723.4,1868.2M707.6,1837.1L727.5,1816.4M718.7,1821.1L727.5,1816.4L723.2,1825.4M707.6,1795.4L726.8,1773.6M718.1,1778.7L726.8,1773.6L722.8,1782.9M707.6,1753.7L726.1,1731.2M717.5,1736.6L726.1,1731.2L722.4,1740.6M707.6,1712.0L725.3,1689.3M717.0,1694.8L725.3,1689.3L721.9,1698.7M707.6,1670.3L724.6,1647.8M716.5,1653.4L724.6,1647.8L721.4,1657.1M707.6,1628.6L723.7,1606.8M716.0,1612.2L723.7,1606.8L720.8,1615.7M707.6,1586.9L722.9,1566.2M715.6,1571.4L722.9,1566.2L720.1,1574.7M707.6,1545.2L722.0,1526.1M715.1,1530.8L722.0,1526.1L719.3,1534.0M707.6,1503.5L721.0,1486.4M714.7,1490.6L721.0,1486.4L718.4,1493.5M707.6,1461.8L719.9,1447.2M714.3,1450.7L719.9,1447.2L717.4,1453.4M707.6,1420.1L718.8,1408.5M713.8,1411.1L718.8,1408.5L716.3,1413.6M707.6,1378.4L717.5,1370.2M713.3,1371.8L717.5,1370.2L715.1,1374.0M707.6,1336.7L716.0,1332.4M712.7,1332.9L716.0,1332.4L713.7,1334.7M707.6,1295.0L714.2,1295.0M712.0,1294.3L714.2,1295.0L712.0,1295.7M707.6,1253.3L711.7,1258.1M710.8,1256.1L711.7,1258.1L709.8,1256.9M707.6,1211.6L704.3,1221.6M706.5,1218.7L704.3,1221.6L704.3,1218.0M749.3,2212.4L770.1,2220.8M764.2,2215.8L770.1,2220.8L762.3,2220.3M749.3,2170.7L769.7,2174.7M763.4,2171.2L769.7,2174.7L762.5,2175.6M749.3,2129.0L769.2,2129.0M762.7,2126.8L769.2,2129.0L762.7,2131.2M749.3,2087.3L768.8,2083.7M762.0,2082.7L768.8,2083.7L762.8,2087.0M749.3,2045.6L768.3,2038.7M761.3,2038.9L768.3,2038.7L762.8,2043.1M749.3,2003.9L767.9,1994.2M760.7,1995.3L767.9,1994.2L762.8,1999.4M749.3,1962.2L767.4,1950.0M760.1,1952.0L767.4,1950.0L762.7,1956.0M749.3,1920.5L766.9,1906.2M759.5,1909.0L766.9,1906.2L762.6,1912.8M749.3,1878.8L766.3,1862.7M759.0,1866.2L766.3,1862.7L762.5,1869.9M749.3,1837.1L765.8,1819.7M758.5,1823.6L765.8,1819.7L762.3,1827.2M749.3,1795.4L765.3,1777.0M758.0,1781.4L765.3,1777.0L762.0,1784.8M749.3,1753.7L764.7,1734.8M757.5,1739.3L764.7,1734.8L761.7,1742.7M749.3,1712.0L764.1,1692.9M757.1,1697.6L764.1,1692.9L761.3,1700.8M749.3,1670.3L763.5,1651.4M756.7,1656.1L763.5,1651.4L760.9,1659.2M749.3,1628.6L762.8,1610.2M756.4,1614.8L762.8,1610.2L760.4,1617.8M749.3,1586.9L762.1,1569.5M756.0,1573.8L762.1,1569.5L759.8,1576.6M749.3,1545.2L761.4,1529.1M755.7,1533.1L761.4,1529.1L759.2,1535.8M749.3,1503.5L760.7,1489.2M755.3,1492.7L760.7,1489.2L758.5,1495.1M749.3,1461.8L759.8,1449.6M755.0,1452.5L759.8,1449.6L757.7,1454.8M749.3,1420.1L759.0,1410.4M754.7,1412.5L759.0,1410.4L756.8,1414.6M749.3,1378.4L758.0,1371.5M754.4,1372.8L758.0,1371.5L755.9,1374.7M749.3,1336.7L756.9,1333.1M754.0,1333.4L756.9,1333.1L754.8,1335.1M749.3,1295.0L755.6,1295.0M753.5,1294.3L755.6,1295.0L753.5,1295.7M749.3,1253.3L754.0,1257.3M752.9,1255.5L754.0,1257.3L752.0,1256.5M749.3,1211.6L751.3,1220.0M751.5,1217.0L751.3,1220.0L749.7,1217.5M791.0,2212.4L807.3,2219.7M802.7,2215.5L807.3,2219.7L801.1,2219.0M791.0,2170.7L807.0,2174.2M802.1,2171.3L807.0,2174.2L801.3,2174.8M791.0,2129.0L806.6,2129.0M801.5,2127.3L806.6,2129.0L801.5,2130.7M791.0,2087.3L806.3,2084.2M800.9,2083.5L806.3,2084.2L801.6,2086.9M791.0,2045.6L805.9,2039.7M800.4,2040.0L805.9,2039.7L801.7,2043.2M791.0,2003.9L805.6,1995.5M799.9,1996.7L805.6,1995.5L801.7,1999.8M791.0,1962.2L805.2,1951.6M799.4,1953.6L805.2,1951.6L801.7,1956.7M791.0,1920.5L804.8,1908.1M798.9,1910.7L804.8,1908.1L801.6,1913.7M791.0,1878.8L804.4,1864.9M798.5,1868.0L804.4,1864.9L801.5,1871.0M791.0,1837.1L804.0,1822.1M798.1,1825.6L804.0,1822.1L801.4,1828.4M791.0,1795.4L803.6,1779.5M797.7,1783.4L803.6,1779.5L801.2,1786.1M791.0,1753.7L803.2,1737.3M797.4,1741.4L803.2,1737.3L801.0,1744.1M791.0,1712.0L802.7,1695.5M797.1,1699.7L802.7,1695.5L800.7,1702.2M791.0,1670.3L802.3,1653.9M796.8,1658.1L802.3,1653.9L800.3,1660.6M791.0,1628.6L801.8,1612.7M796.5,1616.8L801.8,1612.7L800.0,1619.1M791.0,1586.9L801.3,1571.9M796.3,1575.7L801.3,1571.9L799.5,1577.9M791.0,1545.2L800.8,1531.3M796.0,1534.8L800.8,1531.3L799.1,1537.0M791.0,1503.5L800.2,1491.1M795.8,1494.2L800.2,1491.1L798.5,1496.2M791.0,1461.8L799.6,1451.2M795.6,1453.8L799.6,1451.2L797.9,1455.6M791.0,1420.1L798.9,1411.7M795.4,1413.6L798.9,1411.7L797.2,1415.3M791.0,1378.4L798.2,1372.5M795.2,1373.6L798.2,1372.5L796.5,1375.2M791.0,1336.7L797.5,1333.6M795.0,1333.9L797.5,1333.6L795.7,1335.3M791.0,1295.0L796.6,1295.0M794.7,1294.4L796.6,1295.0L794.7,1295.6M791.0,1253.3L795.5,1256.8M794.4,1255.1L795.5,1256.8L793.7,1256.1M791.0,1211.6L794.1,1218.9M793.9,1216.1L794.1,1218.9L792.3,1216.8M832.8,2212.4L845.4,2218.9M841.9,2215.4L845.4,2218.9L840.5,2218.1M832.8,2170.7L845.2,2173.8M841.4,2171.4L845.2,2173.8L840.7,2174.1M832.8,2129.0L844.9,2129.0M840.9,2127.7L844.9,2129.0L840.9,2130.3M832.8,2087.3L844.7,2084.5M840.4,2084.1L844.7,2084.5L841.0,2086.7M832.8,2045.6L844.4,2040.3M840.0,2040.8L844.4,2040.3L841.1,2043.3M832.8,2003.9L844.1,1996.3M839.5,1997.6L844.1,1996.3L841.2,2000.1M832.8,1962.2L843.8,1952.7M839.2,1954.6L843.8,1952.7L841.2,1957.1M832.8,1920.5L843.6,1909.4M838.8,1911.9L843.6,1909.4L841.2,1914.2M832.8,1878.8L843.3,1866.4M838.4,1869.3L843.3,1866.4L841.2,1871.6M832.8,1837.1L843.0,1823.6M838.1,1827.0L843.0,1823.6L841.1,1829.2M832.8,1795.4L842.7,1781.2M837.8,1784.8L842.7,1781.2L840.9,1786.9M832.8,1753.7L842.3,1739.0M837.6,1742.8L842.3,1739.0L840.8,1744.9M832.8,1712.0L842.0,1697.2M837.4,1701.1L842.0,1697.2L840.6,1703.1M832.8,1670.3L841.7,1655.6M837.1,1659.5L841.7,1655.6L840.3,1661.4M832.8,1628.6L841.3,1614.4M836.9,1618.1L841.3,1614.4L840.0,1620.0M832.8,1586.9L841.0,1573.4M836.8,1577.0L841.0,1573.4L839.7,1578.8M832.8,1545.2L840.6,1532.8M836.6,1536.0L840.6,1532.8L839.3,1537.7M832.8,1503.5L840.2,1492.4M836.5,1495.2L840.2,1492.4L838.9,1496.9M832.8,1461.8L839.7,1452.3M836.4,1454.7L839.7,1452.3L838.5,1456.2M832.8,1420.1L839.3,1412.5M836.3,1414.3L839.3,1412.5L837.9,1415.7M832.8,1378.4L838.8,1373.1M836.2,1374.2L838.8,1373.1L837.4,1375.5M832.8,1336.7L838.2,1333.9M836.1,1334.2L838.2,1333.9L836.7,1335.4M832.8,1295.0L837.6,1295.0M836.0,1294.5L837.6,1295.0L836.0,1295.5M832.8,1253.3L837.0,1256.4M835.9,1254.9L837.0,1256.4L835.2,1255.8M832.8,1211.6L836.1,1218.1M835.7,1215.6L836.1,1218.1L834.3,1216.3M874.5,2212.4L884.3,2218.4M881.7,2215.3L884.3,2218.4L880.4,2217.5M874.5,2170.7L884.1,2173.6M881.3,2171.6L884.1,2173.6L880.7,2173.7M874.5,2129.0L884.0,2129.0M880.8,2128.0L884.0,2129.0L880.8,2130.0M874.5,2087.3L883.8,2084.7M880.4,2084.6L883.8,2084.7L881.0,2086.6M874.5,2045.6L883.6,2040.7M880.1,2041.3L883.6,2040.7L881.1,2043.3M874.5,2003.9L883.4,1997.0M879.7,1998.3L883.4,1997.0L881.2,2000.2M874.5,1962.2L883.2,1953.5M879.4,1955.4L883.2,1953.5L881.3,1957.3M874.5,1920.5L883.0,1910.3M879.1,1912.7L883.0,1910.3L881.3,1914.6M874.5,1878.8L882.8,1867.4M878.8,1870.2L882.8,1867.4L881.3,1872.0M874.5,1837.1L882.6,1824.7M878.6,1827.9L882.6,1824.7L881.3,1829.7M874.5,1795.4L882.4,1782.3M878.4,1785.8L882.4,1782.3L881.2,1787.5M874.5,1753.7L882.2,1740.2M878.2,1743.8L882.2,1740.2L881.1,1745.5M874.5,1712.0L881.9,1698.4M878.0,1702.1L881.9,1698.4L881.0,1703.7M874.5,1670.3L881.7,1656.8M877.9,1660.5L881.7,1656.8L880.8,1662.1M874.5,1628.6L881.5,1615.5M877.7,1619.1L881.5,1615.5L880.6,1620.6M874.5,1586.9L881.2,1574.5M877.6,1577.9L881.2,1574.5L880.3,1579.3M874.5,1545.2L880.9,1533.8M877.6,1536.8L880.9,1533.8L880.1,1538.2M874.5,1503.5L880.7,1493.3M877.5,1496.0L880.7,1493.3L879.7,1497.3M874.5,1461.8L880.4,1453.1M877.5,1455.3L880.4,1453.1L879.4,1456.6M874.5,1420.1L880.1,1413.2M877.5,1414.8L880.1,1413.2L879.0,1416.1M874.5,1378.4L879.8,1373.5M877.5,1374.5L879.8,1373.5L878.6,1375.7M874.5,1336.7L879.4,1334.1M877.5,1334.4L879.4,1334.1L878.1,1335.5M874.5,1295.0L879.1,1295.0M877.6,1294.5L879.1,1295.0L877.6,1295.5M874.5,1253.3L878.7,1256.2M877.6,1254.8L878.7,1256.2L877.0,1255.7M874.5,1211.6L878.3,1217.6M877.7,1215.2L878.3,1217.6L876.4,1216.0M916.2,2212.4L922.7,2218.1M921.2,2215.5L922.7,2218.1L919.9,2216.9M916.2,2170.7L922.6,2173.4M920.8,2171.8L922.6,2173.4L920.2,2173.2M916.2,2129.0L922.5,2129.0M920.4,2128.3L922.5,2129.0L920.4,2129.7M916.2,2087.3L922.4,2084.9M920.1,2085.0L922.4,2084.9L920.6,2086.3M916.2,2045.6L922.3,2041.0M919.8,2041.8L922.3,2041.0L920.8,2043.2M916.2,2003.9L922.2,1997.3M919.5,1998.8L922.2,1997.3L921.0,2000.2M916.2,1962.2L922.1,1954.0M919.3,1956.0L922.1,1954.0L921.1,1957.3M916.2,1920.5L922.0,1910.8M919.1,1913.4L922.0,1910.8L921.2,1914.7M916.2,1878.8L921.9,1868.0M918.9,1870.9L921.9,1868.0L921.2,1872.2M916.2,1837.1L921.8,1825.4M918.7,1828.6L921.8,1825.4L921.3,1829.9M916.2,1795.4L921.7,1783.0M918.6,1786.5L921.7,1783.0L921.3,1787.7M916.2,1753.7L921.6,1741.0M918.5,1744.6L921.6,1741.0L921.2,1745.7M916.2,1712.0L921.5,1699.1M918.4,1702.8L921.5,1699.1L921.2,1704.0M916.2,1670.3L921.4,1657.6M918.3,1661.2L921.4,1657.6L921.1,1662.3M916.2,1628.6L921.3,1616.2M918.3,1619.8L921.3,1616.2L921.0,1620.9M916.2,1586.9L921.2,1575.2M918.3,1578.5L921.2,1575.2L920.8,1579.6M916.2,1545.2L921.1,1534.4M918.3,1537.4L921.1,1534.4L920.7,1538.5M916.2,1503.5L921.0,1493.8M918.4,1496.5L921.0,1493.8L920.5,1497.5M916.2,1461.8L920.9,1453.6M918.4,1455.8L920.9,1453.6L920.2,1456.8M916.2,1420.1L920.7,1413.5M918.5,1415.2L920.7,1413.5L920.0,1416.2M916.2,1378.4L920.6,1373.8M918.7,1374.8L920.6,1373.8L919.7,1375.8M916.2,1336.7L920.5,1334.3M918.8,1334.6L920.5,1334.3L919.3,1335.5M916.2,1295.0L920.3,1295.0M919.0,1294.6L920.3,1295.0L919.0,1295.4M916.2,1253.3L920.2,1256.0M919.2,1254.7L920.2,1256.0L918.6,1255.5M916.2,1211.6L920.0,1217.3M919.4,1215.0L920.0,1217.3L918.2,1215.8M958.0,2212.4L960.9,2218.0M960.5,2215.8L960.9,2218.0L959.3,2216.5M958.0,2170.7L960.9,2173.4M960.2,2172.2L960.9,2173.4L959.7,2172.8M958.0,2129.0L960.9,2129.0M959.9,2128.7L960.9,2129.0L959.9,2129.3M958.0,2087.3L960.9,2084.9M959.7,2085.4L960.9,2084.9L960.2,2086.0M958.0,2045.6L960.9,2041.0M959.5,2042.2L960.9,2041.0L960.5,2042.9M958.0,2003.9L960.9,1997.4M959.3,1999.2L960.9,1997.4L960.7,1999.9M958.0,1962.2L960.9,1954.1M959.1,1956.4L960.9,1954.1L960.8,1957.1M958.0,1920.5L961.0,1911.0M958.9,1913.8L961.0,1911.0L961.0,1914.5M958.0,1878.8L961.0,1868.2M958.8,1871.3L961.0,1868.2L961.1,1872.0M958.0,1837.1L961.0,1825.6M958.7,1829.0L961.0,1825.6L961.2,1829.7M958.0,1795.4L961.0,1783.2M958.7,1786.9L961.0,1783.2L961.3,1787.6M958.0,1753.7L961.0,1741.2M958.6,1745.0L961.0,1741.2L961.4,1745.6M958.0,1712.0L961.0,1699.3M958.6,1703.2L961.0,1699.3L961.4,1703.8M958.0,1670.3L961.0,1657.8M958.6,1661.6L961.0,1657.8L961.4,1662.2M958.0,1628.6L961.0,1616.4M958.7,1620.1L961.0,1616.4L961.3,1620.8M958.0,1586.9L961.0,1575.4M958.7,1578.8L961.0,1575.4L961.3,1579.5M958.0,1545.2L961.0,1534.6M958.8,1537.7L961.0,1534.6L961.2,1538.4M958.0,1503.5L961.0,1494.0M959.0,1496.8L961.0,1494.0L961.0,1497.5M958.0,1461.8L961.0,1453.7M959.1,1456.0L961.0,1453.7L960.9,1456.7M958.0,1420.1L961.0,1413.6M959.3,1415.4L961.0,1413.6L960.7,1416.1M958.0,1378.4L961.0,1373.8M959.5,1375.0L961.0,1373.8L960.5,1375.7M958.0,1336.7L961.0,1334.3M959.8,1334.8L961.0,1334.3L960.3,1335.4M958.0,1295.0L961.1,1295.0M960.0,1294.7L961.1,1295.0L960.0,1295.3M958.0,1253.3L961.1,1256.0M960.3,1254.7L961.1,1256.0L959.7,1255.4M958.0,1211.6L961.1,1217.2M960.6,1215.0L961.1,1217.2L959.4,1215.7M999.7,2212.4L999.7,2218.1M1000.3,2216.2L999.7,2218.1L999.1,2216.2M999.7,2170.7L999.7,2173.4M1000.0,2172.5L999.7,2173.4L999.4,2172.5M999.7,2087.3L999.7,2084.9M999.4,2085.7L999.7,2084.9L1000.0,2085.7M999.7,2045.6L999.7,2041.0M999.2,2042.5L999.7,2041.0L1000.2,2042.5M999.7,2003.9L999.7,1997.3M999.0,1999.5L999.7,1997.3L1000.4,1999.5M999.7,1962.2L999.7,1954.0M998.8,1956.7L999.7,1954.0L1000.6,1956.7M999.7,1920.5L999.7,1910.8M998.6,1914.0L999.7,1910.8L1000.8,1914.0M999.7,1878.8L999.7,1868.0M998.5,1871.5L999.7,1868.0L1000.9,1871.5M999.7,1837.1L999.7,1825.4M998.4,1829.2L999.7,1825.4L1001.0,1829.2M999.7,1795.4L999.7,1783.0M998.4,1787.1L999.7,1783.0L1001.0,1787.1M999.7,1753.7L999.7,1740.9M998.3,1745.2L999.7,1740.9L1001.1,1745.2M999.7,1712.0L999.7,1699.1M998.3,1703.4L999.7,1699.1L1001.1,1703.4M999.7,1670.3L999.7,1657.5M998.3,1661.8L999.7,1657.5L1001.1,1661.8M999.7,1628.6L999.7,1616.2M998.4,1620.3L999.7,1616.2L1001.0,1620.3M999.7,1586.9L999.7,1575.2M998.4,1579.0L999.7,1575.2L1001.0,1579.0M999.7,1545.2L999.7,1534.4M998.5,1537.9L999.7,1534.4L1000.9,1537.9M999.7,1503.5L999.7,1493.8M998.6,1497.0L999.7,1493.8L1000.8,1497.0M999.7,1461.8L999.7,1453.6M998.8,1456.3L999.7,1453.6L1000.6,1456.3M999.7,1420.1L999.7,1413.5M999.0,1415.7L999.7,1413.5L1000.4,1415.7M999.7,1378.4L999.7,1373.8M999.2,1375.3L999.7,1373.8L1000.2,1375.3M999.7,1336.7L999.7,1334.3M999.4,1335.1L999.7,1334.3L1000.0,1335.1M999.7,1253.3L999.7,1256.0M1000.0,1255.1L999.7,1256.0L999.4,1255.1M999.7,1211.6L999.7,1217.3M1000.3,1215.4L999.7,1217.3L999.1,1215.4M1041.4,2212.4L1038.3,2218.3M1040.0,2216.7L1038.3,2218.3L1038.7,2216.0M1041.4,2170.7L1038.5,2173.5M1039.8,2172.9L1038.5,2173.5L1039.2,2172.3M1041.4,2129.0L1038.7,2129.0M1039.6,2129.3L1038.7,2129.0L1039.6,2128.7M1041.4,2087.3L1038.9,2084.8M1039.5,2085.9L1038.9,2084.8L1040.0,2085.3M1041.4,2045.6L1039.1,2040.8M1039.4,2042.6L1039.1,2040.8L1040.4,2042.1M1041.4,2003.9L1039.4,1997.1M1039.3,1999.6L1039.4,1997.1L1040.8,1999.1M1041.4,1962.2L1039.6,1953.7M1039.3,1956.7L1039.6,1953.7L1041.2,1956.3M1041.4,1920.5L1040.0,1910.5M1039.4,1914.0L1040.0,1910.5L1041.5,1913.6M1041.4,1878.8L1040.4,1867.6M1039.5,1871.4L1040.4,1867.6L1042.0,1871.2M1041.4,1837.1L1041.2,1824.9M1040.0,1829.0L1041.2,1824.9L1042.6,1828.9M1041.4,1795.4L1040.4,1782.6M1039.4,1786.9L1040.4,1782.6L1042.2,1786.7M1041.4,1753.7L1040.0,1740.5M1039.0,1745.0L1040.0,1740.5L1041.9,1744.7M1041.4,1712.0L1039.7,1698.6M1038.8,1703.2L1039.7,1698.6L1041.7,1702.9M1041.4,1670.3L1039.4,1657.1M1038.6,1661.7L1039.4,1657.1L1041.5,1661.2M1041.4,1628.6L1039.1,1615.8M1038.5,1620.3L1039.1,1615.8L1041.3,1619.8M1041.4,1586.9L1038.9,1574.7M1038.4,1579.0L1038.9,1574.7L1041.1,1578.5M1041.4,1545.2L1038.7,1534.0M1038.4,1538.0L1038.7,1534.0L1040.8,1537.4M1041.4,1503.5L1038.5,1493.5M1038.4,1497.1L1038.5,1493.5L1040.6,1496.5M1041.4,1461.8L1038.4,1453.3M1038.4,1456.4L1038.4,1453.3L1040.3,1455.7M1041.4,1420.1L1038.2,1413.3M1038.5,1415.9L1038.2,1413.3L1040.0,1415.2M1041.4,1378.4L1038.0,1373.6M1038.6,1375.6L1038.0,1373.6L1039.7,1374.8M1041.4,1336.7L1037.9,1334.2M1038.8,1335.4L1037.9,1334.2L1039.3,1334.6M1041.4,1295.0L1037.7,1295.0M1039.0,1295.4L1037.7,1295.0L1039.0,1294.6M1041.4,1253.3L1037.6,1256.1M1039.2,1255.6L1037.6,1256.1L1038.6,1254.8M1041.4,1211.6L1037.5,1217.5M1039.4,1216.0L1037.5,1217.5L1038.1,1215.1M1083.2,2212.4L1078.1,2218.5M1080.5,2217.1L1078.1,2218.5L1079.1,2216.0M1083.2,2170.7L1078.4,2173.6M1080.3,2173.2L1078.4,2173.6L1079.6,2172.1M1083.2,2129.0L1078.6,2129.0M1080.1,2129.5L1078.6,2129.0L1080.1,2128.5M1083.2,2087.3L1078.9,2084.7M1080.0,2086.0L1078.9,2084.7L1080.6,2085.1M1083.2,2045.6L1079.2,2040.6M1080.0,2042.7L1079.2,2040.6L1081.1,2041.8M1083.2,2003.9L1079.5,1996.8M1080.0,1999.5L1079.5,1996.8L1081.5,1998.7M1083.2,1962.2L1079.9,1953.3M1080.0,1956.6L1079.9,1953.3L1081.9,1955.9M1083.2,1920.5L1080.3,1910.1M1080.1,1913.8L1080.3,1910.1L1082.4,1913.2M1083.2,1878.8L1080.7,1867.1M1080.3,1871.2L1080.7,1867.1L1082.8,1870.7M1083.2,1837.1L1081.3,1824.4M1080.5,1828.8L1081.3,1824.4L1083.3,1828.4M1083.2,1795.4L1082.1,1782.0M1081.0,1786.6L1082.1,1782.0L1083.9,1786.3M1083.2,1753.7L1082.0,1739.9M1080.9,1744.6L1082.0,1739.9L1083.9,1744.3M1083.2,1712.0L1081.2,1698.1M1080.3,1702.9L1081.2,1698.1L1083.4,1702.5M1083.2,1670.3L1080.7,1656.5M1080.0,1661.3L1080.7,1656.5L1083.0,1660.8M1083.2,1628.6L1080.2,1615.2M1079.7,1620.0L1080.2,1615.2L1082.7,1619.3M1083.2,1586.9L1079.8,1574.2M1079.6,1578.8L1079.8,1574.2L1082.3,1578.0M1083.2,1545.2L1079.5,1533.5M1079.4,1537.8L1079.5,1533.5L1082.0,1537.0M1083.2,1503.5L1079.2,1493.1M1079.4,1496.9L1079.2,1493.1L1081.6,1496.1M1083.2,1461.8L1078.9,1452.9M1079.3,1456.3L1078.9,1452.9L1081.3,1455.4M1083.2,1420.1L1078.6,1413.0M1079.3,1415.8L1078.6,1413.0L1080.9,1414.8M1083.2,1378.4L1078.3,1373.4M1079.4,1375.6L1078.3,1373.4L1080.5,1374.5M1083.2,1336.7L1078.1,1334.1M1079.5,1335.5L1078.1,1334.1L1080.1,1334.4M1083.2,1295.0L1077.9,1295.0M1079.6,1295.6L1077.9,1295.0L1079.6,1294.4M1083.2,1253.3L1077.6,1256.2M1079.8,1255.9L1077.6,1256.2L1079.1,1254.7M1083.2,1211.6L1077.4,1217.7M1080.0,1216.3L1077.4,1217.7L1078.6,1215.1" fill="none" stroke="#ff0000" stroke-width="1.2" stroke-linejoin="miter"/><g fill="none" stroke="#ff0000" stroke-width="3.6"><path d="M102.5,2108.2 L85.4,2101.4 L69.1,2092.9 L52.4,2082.0 L33.9,2067.6 L-2.9,2036.2 L-19.9,2020.2 L-27.8,2011.6 L-33.9,2003.7 L-39.5,1995.4 L-44.4,1986.7"/><path d="M102.5,2149.8 L91.5,2153.9 L80.9,2158.7 L72.0,2163.4 L62.0,2169.4 L45.6,2180.8 L18.0,2202.5 L5.9,2211.4 L-7.9,2220.7 L-22.3,2229.2"/><path d="M123.8,2108.2 L104.1,2099.1 L95.4,2094.2 L87.0,2088.8 L79.0,2082.7 L71.4,2076.2 L64.2,2069.2 L57.4,2061.9 L50.0,2052.9 L43.0,2043.5 L37.6,2035.1 L32.8,2026.3 L28.6,2017.3 L25.7,2009.4 L22.8,1999.9 L20.5,1990.1 L16.9,1968.7 L12.8,1935.6 L8.3,1890.8 L4.1,1841.0 L0.4,1789.4 L-2.5,1741.1 L-4.4,1696.1 L-5.1,1664.4 L-3.9,1626.1 L-1.6,1581.1 L1.6,1534.5 L5.6,1489.6 L9.9,1449.8 L14.7,1413.5 L19.0,1387.1 L27.5,1341.2 L28.3,1332.9 L28.1,1326.2 L26.4,1318.1 L23.5,1312.1 L19.0,1307.2 L16.3,1305.2 L11.9,1302.9 L4.0,1300.3 L-7.5,1298.3 L-22.5,1297.0 L-44.2,1296.2"/><path d="M123.8,2149.8 L108.6,2156.6 L96.8,2162.8 L85.5,2170.0 L76.2,2177.1 L66.3,2185.9 L54.6,2197.9 L42.5,2211.7 L27.7,2229.8"/><path d="M144.7,2108.2 L124.6,2093.2 L110.8,2081.1 L104.0,2073.8 L98.7,2067.4 L93.8,2060.7 L88.4,2052.2 L83.6,2043.4 L80.1,2035.8 L77.1,2028.1 L74.1,2018.5 L70.3,2000.6 L67.4,1975.7 L65.5,1950.8 L63.4,1915.8 L59.6,1829.2 L56.8,1732.5 L56.0,1660.7 L57.8,1574.0 L61.1,1489.0 L63.4,1447.4 L66.2,1410.8 L68.7,1384.2 L73.9,1337.8 L74.1,1326.2 L72.9,1317.9 L71.5,1313.1 L70.2,1310.1 L66.3,1304.6 L63.8,1302.4 L59.5,1299.9 L51.6,1297.4 L41.7,1296.1 L26.6,1295.4 L-45.1,1295.0"/><path d="M144.7,2149.8 L129.6,2160.3 L119.0,2168.3 L110.1,2176.0 L101.9,2184.3 L94.3,2193.1 L86.4,2203.9 L79.2,2215.1 L71.0,2229.7"/><path d="M187.7,2108.2 L190.8,2100.4 L193.4,2092.5 L198.0,2073.0 L201.6,2049.9 L204.8,2018.4 L210.7,1935.2 L223.4,1713.7 L229.6,1617.2 L236.6,1529.1 L240.1,1492.5 L243.7,1461.1 L247.5,1433.0 L251.6,1408.3 L256.0,1387.0 L260.7,1369.3 L266.1,1353.5 L271.6,1341.4 L277.6,1331.4 L285.1,1322.4 L292.7,1315.9 L301.1,1310.5 L310.2,1306.3 L319.6,1303.0 L331.0,1300.4 L342.6,1298.6 L357.5,1297.2 L377.5,1296.2 L410.9,1295.3 L454.3,1295.1 L996.9,1295.0"/><path d="M187.7,2149.8 L190.0,2156.1 L192.4,2164.1 L196.2,2182.0 L199.0,2203.5 L201.2,2230.1"/><path d="M208.2,2108.2 L213.1,2101.4 L217.3,2094.2 L221.1,2086.7 L224.9,2077.5 L231.7,2056.9 L238.2,2031.0 L247.6,1983.6 L274.0,1830.7 L288.2,1755.3 L310.0,1647.4 L323.1,1585.4 L334.9,1533.3 L345.1,1492.9 L353.4,1464.0 L362.2,1437.1 L370.9,1413.6 L381.4,1389.1 L391.5,1368.0 L402.1,1349.1 L412.2,1333.8 L417.4,1327.3 L421.9,1322.3 L429.4,1315.7 L436.3,1311.0 L443.7,1307.2 L453.1,1303.8 L462.9,1301.5 L474.4,1299.6 L489.3,1298.0 L507.7,1296.9 L547.7,1295.7 L607.8,1295.2 L996.8,1295.0"/><path d="M208.2,2149.8 L212.9,2156.8 L216.9,2164.1 L220.3,2171.7 L223.7,2181.1 L226.6,2190.7 L229.5,2202.0 L234.9,2229.8"/><path d="M229.5,2108.2 L239.0,2098.7 L247.2,2088.2 L256.2,2074.2 L265.9,2056.7 L279.1,2029.7 L296.5,1991.8 L307.3,1965.6 L318.3,1935.9 L328.9,1904.2 L341.3,1864.4 L378.5,1738.0 L394.2,1680.0 L420.4,1576.5 L431.4,1536.3 L442.8,1499.7 L454.0,1468.3 L461.0,1451.3 L468.5,1434.6 L476.0,1419.7 L484.2,1405.1 L493.1,1391.0 L501.8,1378.8 L511.0,1367.0 L521.0,1355.7 L533.0,1344.1 L544.7,1334.7 L557.2,1326.4 L570.5,1319.4 L585.9,1313.0 L601.8,1308.0 L619.7,1304.0 L637.9,1301.1 L656.1,1299.1 L676.1,1297.8 L731.2,1296.1 L826.3,1295.3 L996.6,1295.0"/><path d="M229.5,2149.8 L235.4,2155.7 L240.8,2162.1 L246.5,2170.3 L251.6,2178.9 L257.0,2189.3 L262.5,2201.4 L273.5,2229.4"/><path d="M250.1,2108.2 L262.1,2099.2 L275.9,2087.1 L292.5,2070.6 L304.6,2056.8 L315.6,2042.2 L325.8,2026.9 L336.8,2008.2 L349.4,1984.7 L361.3,1960.8 L374.1,1933.6 L382.7,1913.7 L390.8,1893.6 L405.5,1852.8 L436.4,1755.8 L447.0,1724.2 L457.7,1694.4 L469.5,1663.2 L482.0,1632.2 L494.5,1603.1 L510.3,1568.1 L525.2,1536.4 L537.9,1511.1 L550.7,1487.7 L563.6,1466.2 L578.2,1443.9 L592.8,1423.6 L608.4,1404.0 L623.8,1386.4 L637.7,1372.0 L651.2,1359.6 L664.3,1349.2 L678.2,1340.0 L692.9,1332.1 L708.2,1325.3 L725.5,1319.2 L744.7,1313.8 L764.3,1309.6 L787.4,1305.8 L812.2,1302.6 L838.8,1300.2 L865.5,1298.6 L897.2,1297.3 L997.3,1295.0"/><path d="M250.1,2149.8 L259.3,2156.9 L269.3,2165.9 L278.6,2175.4 L289.7,2187.9 L297.0,2197.0 L303.7,2206.5 L310.9,2217.8 L317.4,2229.4"/><path d="M270.5,2108.2 L289.6,2097.8 L302.3,2089.8 L314.3,2080.8 L326.8,2069.8 L340.7,2055.4 L355.9,2037.6 L372.1,2016.4 L384.3,1998.5 L395.4,1979.9 L406.3,1959.2 L413.5,1944.1 L448.4,1866.5 L471.9,1816.8 L533.7,1692.8 L547.5,1666.2 L561.0,1641.2 L578.3,1610.8 L597.2,1579.3 L621.0,1541.0 L643.5,1506.0 L657.6,1485.3 L670.4,1467.7 L683.8,1450.7 L696.9,1435.6 L712.9,1418.5 L728.4,1403.4 L744.6,1389.0 L761.5,1375.3 L779.0,1362.5 L797.1,1350.6 L814.4,1340.5 L830.8,1332.2 L846.1,1325.6 L861.8,1320.0 L877.8,1315.2 L895.7,1310.9 L912.0,1307.6 L928.5,1304.8 L953.3,1301.5 L986.5,1297.8 L991.4,1296.9 L996.2,1295.5"/><path d="M270.5,2149.8 L283.6,2157.2 L296.4,2165.1 L307.1,2173.1 L317.1,2181.9 L326.4,2191.5 L336.0,2203.0 L346.0,2216.4 L355.2,2230.3"/><path d="M291.9,2108.2 L307.2,2101.6 L320.5,2094.6 L333.2,2086.6 L348.1,2075.8 L363.5,2063.1 L378.2,2049.5 L389.6,2037.3 L401.2,2023.1 L414.5,2003.9 L458.9,1933.2 L501.1,1867.2 L544.5,1795.9 L565.7,1762.0 L620.1,1677.9 L655.0,1623.0 L670.7,1599.4 L696.7,1562.6 L728.0,1521.4 L763.5,1477.2 L802.3,1431.3 L825.7,1405.3 L845.7,1385.1 L865.7,1367.5 L876.2,1359.3 L887.1,1351.4 L905.3,1339.7 L922.9,1330.1 L936.4,1323.6 L950.3,1317.8 L986.3,1304.6 L991.9,1301.0 L996.5,1296.2"/><path d="M291.9,2149.8 L305.6,2155.9 L317.4,2162.2 L330.0,2170.4 L341.9,2179.6 L354.4,2190.6 L367.3,2203.6 L378.3,2216.2 L388.4,2229.5"/><path d="M332.9,2108.2 L353.2,2100.5 L374.5,2091.0 L389.2,2083.0 L403.1,2073.9 L413.7,2065.8 L435.2,2047.3 L475.1,2011.7 L499.7,1989.2 L514.0,1975.2 L532.6,1956.1 L586.9,1899.4 L614.0,1870.0 L638.0,1842.2 L719.9,1743.2 L743.9,1713.2 L765.1,1685.4 L784.7,1658.3 L801.5,1633.4 L818.5,1606.7 L840.3,1571.1 L909.5,1455.1 L930.4,1420.9 L955.7,1381.6 L984.3,1340.5 L988.1,1333.1 L990.9,1325.3 L993.0,1317.2 L997.7,1296.1"/><path d="M332.9,2149.8 L350.0,2156.4 L366.7,2164.1 L381.4,2171.9 L394.1,2180.0 L404.7,2188.1 L414.6,2197.1 L429.8,2212.5 L445.7,2229.6"/><path d="M375.0,2108.2 L395.7,2101.7 L414.2,2094.1 L453.1,2074.8 L496.0,2052.3 L519.1,2039.0 L551.6,2018.5 L586.6,1995.9 L612.8,1977.9 L634.2,1962.0 L658.9,1942.1 L703.8,1904.7 L732.6,1879.3 L751.9,1860.9 L771.6,1840.5 L788.2,1821.7 L803.9,1802.3 L821.6,1778.0 L840.1,1750.2 L857.6,1721.8 L874.0,1692.8 L888.6,1664.7 L903.0,1634.5 L916.9,1602.4 L930.5,1568.3 L943.9,1532.4 L958.0,1491.4 L974.5,1440.6 L985.1,1405.5 L988.4,1389.1 L991.2,1369.3 L993.6,1346.1 L996.9,1304.5 L998.0,1296.2"/><path d="M375.0,2149.8 L390.9,2154.9 L404.9,2160.3 L415.5,2165.3 L434.7,2175.4 L460.9,2190.1 L485.1,2204.8 L503.3,2216.7 L520.9,2229.4"/><path d="M436.5,2108.2 L482.0,2097.2 L514.2,2088.7 L563.8,2073.6 L605.0,2060.1 L633.2,2049.7 L667.1,2035.5 L706.7,2018.0 L736.8,2003.4 L758.7,1991.3 L780.0,1978.2 L799.1,1964.7 L816.0,1951.1 L834.4,1934.2 L852.9,1914.9 L869.0,1895.8 L882.9,1877.0 L897.3,1854.5 L910.0,1831.1 L922.0,1805.3 L932.4,1779.0 L942.5,1748.9 L951.7,1716.9 L960.5,1681.3 L968.9,1642.1 L976.2,1602.8 L983.1,1561.6 L985.7,1541.8 L988.0,1518.5 L990.3,1486.9 L992.3,1448.6 L997.0,1316.9 L998.2,1297.0"/><path d="M436.5,2149.8 L473.8,2159.1 L504.4,2167.4 L528.3,2174.9 L561.5,2186.2 L592.8,2197.7 L617.5,2207.8 L638.8,2217.5 L662.5,2229.7"/><path d="M500.0,2108.2 L536.2,2102.1 L588.7,2092.4 L619.8,2086.0 L647.4,2079.5 L694.3,2067.4 L729.6,2057.3 L758.1,2047.9 L784.6,2037.6 L805.8,2027.8 L826.3,2016.6 L845.9,2004.0 L864.7,1990.0 L879.7,1976.8 L893.6,1962.4 L906.2,1946.9 L917.4,1930.3 L923.3,1920.2 L928.8,1909.9 L938.4,1888.6 L947.7,1863.6 L955.8,1836.4 L963.4,1805.7 L970.3,1771.3 L976.9,1731.9 L982.9,1688.9 L985.3,1667.3 L987.5,1640.7 L989.4,1609.1 L991.0,1572.5 L993.8,1484.1 L997.3,1320.7 L997.9,1302.3 L998.5,1295.7"/><path d="M500.0,2149.8 L541.1,2157.0 L591.8,2167.0 L624.4,2174.4 L653.5,2182.1 L696.7,2194.8 L729.9,2205.9 L757.9,2216.9 L771.6,2223.1 L783.5,2229.1"/><path d="M563.5,2108.2 L604.9,2102.9 L637.9,2098.0 L688.9,2089.4 L726.7,2082.2 L754.4,2076.2 L780.3,2069.6 L801.0,2063.3 L821.4,2055.9 L842.9,2046.7 L862.3,2036.9 L879.4,2026.5 L894.2,2015.6 L907.8,2003.4 L919.0,1991.0 L928.9,1977.5 L938.3,1961.8 L946.2,1945.3 L953.6,1926.6 L960.1,1906.0 L966.0,1883.4 L971.5,1857.3 L976.7,1827.7 L981.9,1791.4 L985.2,1761.5 L987.2,1734.9 L989.0,1704.9 L991.9,1626.6 L994.2,1524.9 L997.3,1329.8 L998.4,1296.4"/><path d="M563.5,2149.8 L616.4,2157.0 L659.2,2164.1 L715.0,2174.9 L737.8,2179.9 L757.2,2184.8 L773.3,2189.4 L787.6,2194.0 L801.7,2199.1 L814.0,2204.2 L826.2,2209.8 L839.5,2216.7 L851.0,2223.5 L860.8,2229.9"/><path d="M626.7,2108.2 L668.1,2103.3 L712.8,2097.5 L744.2,2092.8 L770.5,2088.3 L795.0,2083.2 L816.1,2077.9 L838.5,2071.2 L857.3,2064.5 L874.2,2057.3 L890.5,2048.8 L904.6,2039.8 L916.3,2030.5 L927.0,2020.0 L936.4,2008.3 L944.6,1995.7 L952.2,1980.8 L958.5,1965.4 L963.8,1949.6 L969.1,1930.3 L973.7,1909.1 L978.4,1882.8 L982.7,1853.1 L985.1,1831.6 L987.0,1806.6 L990.1,1745.0 L992.5,1661.6 L994.5,1551.5 L997.4,1334.7 L998.5,1296.4"/><path d="M626.7,2149.8 L689.6,2157.7 L737.5,2164.8 L776.9,2172.2 L793.2,2175.9 L807.7,2179.7 L823.6,2184.6 L839.4,2190.2 L853.3,2195.8 L866.9,2202.2 L878.6,2208.7 L888.4,2215.0 L897.8,2221.9 L906.5,2229.7"/><path d="M708.5,2108.2 L741.7,2104.9 L771.5,2101.3 L796.3,2097.8 L819.3,2093.8 L842.2,2088.9 L863.2,2083.5 L880.7,2078.0 L896.3,2071.9 L909.7,2065.3 L921.1,2058.3 L931.6,2050.0 L939.9,2041.8 L947.3,2032.8 L954.5,2021.6 L960.5,2009.7 L966.1,1995.7 L970.6,1981.4 L974.7,1965.2 L978.5,1947.3 L982.0,1925.9 L984.3,1909.4 L986.1,1891.1 L989.1,1842.8 L991.4,1779.5 L993.3,1692.8 L994.9,1577.7 L997.4,1340.8 L998.0,1307.5 L998.6,1295.8"/><path d="M708.5,2149.8 L761.6,2155.6 L783.1,2158.6 L802.9,2161.8 L822.5,2165.6 L840.4,2169.7 L856.5,2174.1 L870.8,2178.6 L883.3,2183.4 L895.5,2188.9 L905.7,2194.5 L914.1,2200.0 L923.2,2207.3 L930.3,2214.3 L936.7,2222.0 L942.3,2230.3"/><path d="M792.4,2108.2 L815.6,2105.4 L838.7,2102.2 L858.5,2098.8 L876.4,2095.1 L892.6,2090.9 L905.3,2086.8 L917.7,2081.9 L928.1,2076.6 L937.9,2070.2 L945.6,2063.8 L952.5,2056.5 L958.5,2048.5 L964.3,2038.4 L969.2,2027.8 L973.6,2015.2 L977.2,2002.4 L980.2,1989.4 L982.9,1974.6 L986.2,1948.1 L988.9,1909.9 L991.1,1854.9 L992.6,1791.5 L994.0,1708.1 L997.4,1349.5 L998.0,1311.1 L998.6,1296.1"/><path d="M792.4,2149.8 L832.1,2155.0 L850.2,2158.1 L866.6,2161.3 L879.6,2164.4 L892.4,2168.0 L903.5,2171.8 L914.2,2176.4 L923.1,2181.0 L930.1,2185.5 L938.0,2191.7 L943.9,2197.6 L949.2,2204.1 L954.6,2212.4 L959.2,2221.3 L963.0,2230.6"/><path d="M876.2,2108.2 L891.1,2105.8 L904.2,2103.2 L915.5,2100.5 L925.1,2097.6 L934.5,2094.1 L942.0,2090.5 L949.2,2086.2 L954.5,2082.2 L959.4,2077.6 L964.8,2071.3 L969.4,2064.3 L973.3,2056.9 L977.1,2047.7 L980.1,2038.1 L983.3,2025.2 L985.1,2015.3 L987.7,1992.1 L989.8,1958.8 L991.5,1913.8 L992.8,1855.5 L994.6,1722.1 L997.5,1358.4 L998.6,1296.7"/><path d="M876.2,2149.8 L902.5,2154.6 L912.3,2156.9 L921.9,2159.8 L929.7,2162.7 L937.3,2166.2 L944.5,2170.3 L949.9,2174.2 L954.9,2178.7 L959.3,2183.7 L963.2,2189.1 L967.3,2196.3 L970.6,2204.0 L973.4,2211.9 L977.7,2229.7"/><path d="M958.0,2108.2 L966.8,2103.5 L973.3,2098.3 L978.6,2091.8 L983.3,2083.0 L985.8,2075.1 L987.9,2063.6 L989.4,2048.6 L990.8,2027.0 L992.9,1963.7 L994.4,1858.6 L995.7,1705.1 L997.7,1361.5 L998.6,1296.5"/><path d="M958.0,2149.8 L965.3,2153.8 L971.8,2159.0 L976.9,2165.6 L981.4,2174.5 L983.9,2182.5 L986.0,2194.0 L987.4,2208.9 L988.6,2230.6"/><path d="M1039.8,2108.2 L1032.6,2103.8 L1026.4,2098.3 L1021.3,2091.7 L1017.5,2084.3 L1014.8,2076.4 L1012.8,2066.6 L1011.5,2055.0 L1010.4,2038.4 L1009.7,2015.0 L1005.5,1774.9 L1003.9,1629.8 L1001.7,1347.9 L1000.7,1296.2"/><path d="M1039.8,2149.8 L1031.2,2155.1 L1025.1,2160.7 L1020.0,2167.3 L1015.4,2176.2 L1013.1,2184.2 L1011.1,2195.7 L1009.6,2210.6 L1008.3,2230.6"/><path d="M123.3,1211.6 L121.4,1229.8 L119.3,1244.7 L116.9,1257.8 L114.4,1267.5 L111.5,1275.4 L107.5,1282.7 L103.1,1287.6 L98.9,1290.4 L94.3,1292.2 L89.4,1293.4 L82.8,1294.2 L74.4,1294.6 L-44.1,1295.0"/><path d="M165.0,1211.6 L165.0,1293.3"/><path d="M206.7,1211.6 L209.4,1234.8 L212.6,1252.9 L216.1,1265.7 L218.5,1272.0 L220.8,1276.4 L223.6,1280.5 L225.8,1283.1 L228.3,1285.3 L232.4,1288.0 L237.0,1290.0 L241.8,1291.4 L253.4,1293.3 L278.4,1294.5 L331.8,1294.9 L996.2,1295.0"/><path d="M248.5,1211.6 L252.7,1232.9 L257.4,1248.9 L260.5,1256.6 L263.5,1262.5 L267.1,1268.2 L270.2,1272.1 L275.0,1276.7 L279.0,1279.8 L283.3,1282.3 L289.4,1285.1 L295.7,1287.2 L303.8,1289.3 L320.3,1291.9 L335.2,1293.2 L353.6,1294.0 L417.0,1294.9 L996.3,1295.0"/><path d="M290.2,1211.6 L295.8,1230.8 L299.3,1240.2 L302.7,1247.8 L306.7,1255.1 L310.3,1260.7 L314.4,1266.0 L319.0,1270.9 L324.0,1275.2 L328.1,1278.1 L333.9,1281.4 L340.0,1284.1 L346.4,1286.2 L354.4,1288.3 L372.6,1291.3 L387.5,1292.8 L405.8,1293.9 L450.9,1294.8 L996.8,1295.0"/><path d="M311.1,1211.6 L316.6,1230.8 L320.1,1240.2 L323.5,1247.8 L327.5,1255.1 L331.2,1260.7 L335.4,1265.9 L340.1,1270.6 L345.3,1274.8 L350.9,1278.4 L356.8,1281.5 L363.0,1284.0 L371.0,1286.5 L379.1,1288.5 L398.8,1291.9 L412.1,1293.2 L427.1,1294.1 L472.2,1294.8 L996.4,1295.0"/><path d="M331.9,1211.6 L334.5,1221.3 L337.6,1230.8 L340.7,1238.5 L344.2,1246.1 L348.3,1253.4 L352.1,1258.9 L356.3,1264.0 L361.0,1268.8 L366.1,1273.1 L371.6,1276.9 L377.4,1280.2 L385.0,1283.7 L392.8,1286.6 L400.8,1288.9 L409.0,1290.6 L418.9,1292.2 L430.5,1293.4 L445.5,1294.1 L495.6,1294.8 L996.4,1295.0"/><path d="M352.8,1211.6 L358.2,1229.1 L364.8,1244.5 L368.8,1251.8 L372.4,1257.4 L377.5,1263.9 L382.1,1268.9 L387.0,1273.4 L392.2,1277.5 L397.9,1281.1 L403.8,1284.2 L409.9,1286.7 L417.9,1289.3 L424.4,1290.8 L432.6,1292.1 L444.3,1293.2 L460.9,1294.0 L517.7,1294.8 L996.8,1295.0"/><path d="M373.7,1211.6 L379.2,1230.8 L385.3,1246.4 L392.3,1259.6 L396.1,1265.1 L400.3,1270.3 L405.0,1275.1 L408.8,1278.3 L414.2,1282.2 L418.6,1284.7 L423.1,1286.7 L429.5,1288.8 L435.9,1290.4 L444.2,1291.7 L457.5,1293.0 L474.1,1293.8 L534.2,1294.8 L996.7,1295.0"/><path d="M415.4,1211.6 L415.9,1219.9 L417.0,1229.9 L420.2,1246.2 L422.6,1254.2 L425.1,1260.4 L428.2,1266.3 L430.9,1270.5 L434.1,1274.4 L437.7,1277.8 L441.7,1280.8 L446.1,1283.3 L450.6,1285.4 L457.0,1287.5 L471.7,1290.4 L488.3,1292.2 L508.3,1293.3 L568.4,1294.6 L997.4,1295.0"/><path d="M457.1,1211.6 L455.2,1228.2 L455.6,1233.2 L456.6,1239.7 L458.7,1247.8 L461.1,1254.0 L464.2,1259.9 L468.0,1265.4 L471.4,1269.1 L476.4,1273.5 L481.9,1277.2 L487.9,1280.3 L494.1,1282.8 L502.0,1285.2 L511.8,1287.5 L521.6,1289.3 L538.2,1291.3 L559.9,1292.9 L584.9,1293.9 L618.3,1294.5 L706.7,1294.9 L997.2,1295.0"/><path d="M498.9,1211.6 L498.2,1218.2 L498.5,1223.2 L499.9,1231.4 L502.2,1239.5 L505.3,1247.2 L508.4,1253.1 L512.0,1258.7 L516.3,1263.8 L521.1,1268.5 L526.3,1272.6 L531.9,1276.2 L537.8,1279.3 L544.0,1281.9 L551.9,1284.5 L560.0,1286.6 L569.8,1288.5 L586.4,1290.8 L606.3,1292.4 L631.3,1293.6 L661.4,1294.3 L754.9,1294.9 L996.9,1295.0"/><path d="M540.6,1211.6 L537.2,1227.9 L536.9,1231.2 L537.4,1236.2 L538.9,1242.7 L541.7,1250.5 L544.7,1256.5 L548.4,1262.0 L552.8,1267.1 L557.8,1271.5 L563.2,1275.4 L569.0,1278.6 L575.1,1281.4 L583.0,1284.1 L599.2,1288.0 L615.7,1290.4 L634.0,1292.1 L657.4,1293.3 L685.7,1294.0 L780.9,1294.8 L996.2,1295.0"/><path d="M582.4,1211.6 L574.6,1231.8 L572.1,1239.8 L571.1,1244.7 L571.2,1248.0 L571.9,1251.3 L575.1,1259.0 L577.7,1263.2 L582.0,1268.3 L587.0,1272.8 L592.5,1276.5 L598.4,1279.6 L606.1,1282.8 L614.1,1285.2 L623.9,1287.4 L640.4,1290.0 L658.6,1291.7 L680.3,1292.9 L710.4,1293.8 L807.2,1294.7 L997.5,1295.0"/><path d="M615.7,1211.6 L606.3,1233.0 L601.7,1245.5 L600.4,1252.0 L602.1,1258.4 L604.5,1262.8 L608.5,1268.1 L612.2,1271.6 L617.5,1275.5 L623.4,1278.8 L629.5,1281.4 L637.4,1284.1 L645.5,1286.1 L660.3,1288.8 L680.2,1290.9 L703.5,1292.3 L733.5,1293.3 L827.0,1294.6 L997.3,1295.0"/><path d="M703.4,1211.6 L699.5,1224.4 L698.4,1229.3 L698.2,1232.6 L699.2,1237.5 L700.9,1242.2 L703.3,1246.6 L706.1,1250.7 L709.3,1254.6 L714.1,1259.2 L719.4,1263.2 L725.1,1266.7 L737.1,1272.5 L753.0,1277.8 L769.2,1281.7 L788.9,1285.1 L812.1,1288.0 L837.0,1290.2 L863.7,1291.7 L895.4,1292.9 L997.2,1295.0"/><path d="M793.5,1211.6 L798.7,1222.1 L804.0,1230.5 L810.2,1238.4 L817.1,1245.7 L824.6,1252.2 L834.2,1258.9 L844.4,1264.6 L855.1,1269.3 L866.1,1273.3 L878.9,1277.2 L891.8,1280.3 L906.6,1283.2 L939.6,1288.0 L987.8,1292.8 L995.9,1294.5"/><path d="M881.2,1211.6 L889.9,1223.8 L898.7,1233.8 L908.4,1243.0 L920.3,1252.2 L932.9,1260.4 L947.6,1268.3 L962.8,1275.2 L984.5,1283.7 L987.5,1285.2 L991.6,1288.1 L997.1,1294.3"/><path d="M958.0,1211.6 L968.2,1228.8 L984.0,1252.3 L987.2,1258.2 L989.8,1264.3 L991.8,1270.7 L997.4,1293.4"/><path d="M1024.7,1211.6 L1014.7,1230.8 L1012.2,1237.0 L1010.2,1243.4 L1006.6,1259.6 L1002.3,1289.4 L1001.2,1294.2"/><path d="M1066.5,1211.6 L1056.6,1222.9 L1045.1,1235.0 L1031.9,1247.8 L1015.9,1262.4 L1012.6,1266.1 L1009.8,1270.3 L1007.1,1276.4 L1001.6,1293.9"/><path d="M123.3,1962.2 L121.6,1890.5 L120.5,1808.8 L120.3,1767.1 L121.0,1697.0 L123.1,1580.3 L125.9,1478.6 L128.9,1408.6 L133.6,1335.3 L133.3,1322.0 L131.8,1312.1 L129.6,1305.8 L127.9,1303.0 L125.7,1300.5 L123.0,1298.6 L119.9,1297.3 L111.7,1295.7 L88.4,1295.0 L-45.2,1295.0"/><path d="M1041.4,1870.5 L1040.2,1852.2 L1038.8,1815.5 L1035.3,1773.9 L1028.5,1714.3 L1015.2,1611.7 L1012.8,1588.5 L1010.8,1563.6 L1008.4,1523.6 L1006.4,1476.9 L1002.0,1318.5 L1001.0,1296.9"/><path d="M1041.4,1795.4 L1038.5,1763.8 L1034.4,1727.4 L1027.9,1677.8 L1015.3,1588.6 L1011.3,1548.7 L1008.7,1510.5 L1006.5,1465.5 L1002.0,1317.1 L1001.0,1297.1"/><path d="M1041.4,1503.5 L1031.4,1469.9 L1016.0,1420.6 L1011.8,1402.7 L1009.1,1386.3 L1006.8,1366.4 L1002.1,1304.8 L1001.2,1296.6"/><path d="M1041.4,1420.1 L1016.0,1369.4 L1012.2,1360.1 L1009.5,1350.5 L1006.9,1337.4 L1001.3,1296.1"/><path d="M1041.4,1253.3 L1015.3,1271.3 L1011.6,1274.6 L1009.5,1277.2 L1006.9,1281.5 L1001.8,1293.8"/><path d="M1083.2,1503.5 L1068.8,1467.9 L1053.6,1434.5 L1040.2,1407.7 L1016.2,1363.7 L1012.7,1356.2 L1009.7,1346.6 L1007.1,1335.2 L1005.0,1322.1 L1002.2,1300.6 L1001.1,1295.7"/><path d="M1083.2,1470.1 L1068.6,1440.1 L1053.6,1412.2 L1039.1,1387.8 L1016.4,1352.9 L1013.1,1347.0 L1010.0,1339.3 L1007.4,1329.7 L1005.4,1319.8 L1001.6,1296.8"/><path d="M1083.2,1420.1 L1068.2,1398.0 L1053.1,1378.0 L1039.2,1361.4 L1015.7,1335.4 L1012.7,1331.4 L1009.6,1325.5 L1007.3,1319.2 L1001.7,1296.6"/><path d="M1083.2,1336.7 L1068.2,1329.3 L1053.0,1322.5 L1012.5,1306.8 L1009.7,1305.1 L1007.2,1302.8 L1002.2,1296.1"/><path d="M1083.2,1253.3 L1068.2,1260.8 L1053.0,1267.6 L1012.6,1283.3 L1009.7,1285.1 L1007.2,1287.3 L1002.2,1293.9"/><path d="M165.0,1211.6 V2108.2 M165.0,2149.8 V2212.4"/></g><path d="M82.2,1938.4 L101.8,1965.6 L118.0,1996.0 L132.2,2026.5 L144.2,2058.0 L155.1,2090.7 L163.8,2123.4 L171.4,2156.0 L179.0,2187.6 L185.0,2214.0" fill="none" stroke="#0000ff" stroke-width="4" stroke-dasharray="17,15"/><path d="M1085.0,1939.0 L1070.2,1956.0 L1060.2,1971.0 L1044.3,2001.0 L1030.1,2032.0 L1018.4,2063.7 L1007.6,2096.3 L999.2,2128.8 L991.7,2162.2 L985.0,2194.8 L980.5,2214.0" fill="none" stroke="#0000ff" stroke-width="4" stroke-dasharray="17,15"/><path d="M82,2129 H124 M1000,2129 H1084" stroke="#ff0000" stroke-width="4"/></g><path d="M165.0,2129.0 L999.7,2129.0" fill="none" stroke="#000" stroke-width="3.6" stroke-dasharray="17,17"/><path d="M82.5,1211.6 L82.5,2212.4 L1083.5,2212.4" fill="none" stroke="#000" stroke-width="1.1"/><path d="M165.0,2212.4 v-9" stroke="#000" stroke-width="1.1"/><path d="M999.7,2212.4 v-9" stroke="#000" stroke-width="1.1"/><path d="M82.5,2129.0 h9" stroke="#000" stroke-width="1.1"/><path d="M82.5,1295.0 h9" stroke="#000" stroke-width="1.1"/><text x="156.0" y="2247.4" class="tl" text-anchor="middle">−1</text><text x="999.7" y="2247.4" class="tl" text-anchor="middle">0</text><text x="75" y="2139.0" class="tl" text-anchor="end">0</text><text x="75" y="1305.0" class="tl" text-anchor="end">1</text><text x="582" y="2278.4" class="al" text-anchor="middle">α</text><text x="7" y="1725.0" class="alt" text-anchor="middle">t</text><text x="603" y="2359.4" class="cap" text-anchor="middle">(b)</text><rect x="1125.5" y="2196.76" width="57.0" height="16.24" fill="#00008f" shape-rendering="crispEdges"/><rect x="1125.5" y="2181.12" width="57.0" height="16.24" fill="#00009f" shape-rendering="crispEdges"/><rect x="1125.5" y="2165.49" width="57.0" height="16.24" fill="#0000af" shape-rendering="crispEdges"/><rect x="1125.5" y="2149.85" width="57.0" height="16.24" fill="#0000bf" shape-rendering="crispEdges"/><rect x="1125.5" y="2134.21" width="57.0" height="16.24" fill="#0000cf" shape-rendering="crispEdges"/><rect x="1125.5" y="2118.58" width="57.0" height="16.24" fill="#0000df" shape-rendering="crispEdges"/><rect x="1125.5" y="2102.94" width="57.0" height="16.24" fill="#0000ef" shape-rendering="crispEdges"/><rect x="1125.5" y="2087.30" width="57.0" height="16.24" fill="#0000ff" shape-rendering="crispEdges"/><rect x="1125.5" y="2071.66" width="57.0" height="16.24" fill="#0010ff" shape-rendering="crispEdges"/><rect x="1125.5" y="2056.03" width="57.0" height="16.24" fill="#0020ff" shape-rendering="crispEdges"/><rect x="1125.5" y="2040.39" width="57.0" height="16.24" fill="#0030ff" shape-rendering="crispEdges"/><rect x="1125.5" y="2024.75" width="57.0" height="16.24" fill="#0040ff" shape-rendering="crispEdges"/><rect x="1125.5" y="2009.11" width="57.0" height="16.24" fill="#0050ff" shape-rendering="crispEdges"/><rect x="1125.5" y="1993.48" width="57.0" height="16.24" fill="#0060ff" shape-rendering="crispEdges"/><rect x="1125.5" y="1977.84" width="57.0" height="16.24" fill="#0070ff" shape-rendering="crispEdges"/><rect x="1125.5" y="1962.20" width="57.0" height="16.24" fill="#0080ff" shape-rendering="crispEdges"/><rect x="1125.5" y="1946.56" width="57.0" height="16.24" fill="#008fff" shape-rendering="crispEdges"/><rect x="1125.5" y="1930.93" width="57.0" height="16.24" fill="#009fff" shape-rendering="crispEdges"/><rect x="1125.5" y="1915.29" width="57.0" height="16.24" fill="#00afff" shape-rendering="crispEdges"/><rect x="1125.5" y="1899.65" width="57.0" height="16.24" fill="#00bfff" shape-rendering="crispEdges"/><rect x="1125.5" y="1884.01" width="57.0" height="16.24" fill="#00cfff" shape-rendering="crispEdges"/><rect x="1125.5" y="1868.38" width="57.0" height="16.24" fill="#00dfff" shape-rendering="crispEdges"/><rect x="1125.5" y="1852.74" width="57.0" height="16.24" fill="#00efff" shape-rendering="crispEdges"/><rect x="1125.5" y="1837.10" width="57.0" height="16.24" fill="#00ffff" shape-rendering="crispEdges"/><rect x="1125.5" y="1821.46" width="57.0" height="16.24" fill="#10ffef" shape-rendering="crispEdges"/><rect x="1125.5" y="1805.83" width="57.0" height="16.24" fill="#20ffdf" shape-rendering="crispEdges"/><rect x="1125.5" y="1790.19" width="57.0" height="16.24" fill="#30ffcf" shape-rendering="crispEdges"/><rect x="1125.5" y="1774.55" width="57.0" height="16.24" fill="#40ffbf" shape-rendering="crispEdges"/><rect x="1125.5" y="1758.91" width="57.0" height="16.24" fill="#50ffaf" shape-rendering="crispEdges"/><rect x="1125.5" y="1743.28" width="57.0" height="16.24" fill="#60ff9f" shape-rendering="crispEdges"/><rect x="1125.5" y="1727.64" width="57.0" height="16.24" fill="#70ff8f" shape-rendering="crispEdges"/><rect x="1125.5" y="1712.00" width="57.0" height="16.24" fill="#80ff80" shape-rendering="crispEdges"/><rect x="1125.5" y="1696.36" width="57.0" height="16.24" fill="#8fff70" shape-rendering="crispEdges"/><rect x="1125.5" y="1680.72" width="57.0" height="16.24" fill="#9fff60" shape-rendering="crispEdges"/><rect x="1125.5" y="1665.09" width="57.0" height="16.24" fill="#afff50" shape-rendering="crispEdges"/><rect x="1125.5" y="1649.45" width="57.0" height="16.24" fill="#bfff40" shape-rendering="crispEdges"/><rect x="1125.5" y="1633.81" width="57.0" height="16.24" fill="#cfff30" shape-rendering="crispEdges"/><rect x="1125.5" y="1618.17" width="57.0" height="16.24" fill="#dfff20" shape-rendering="crispEdges"/><rect x="1125.5" y="1602.54" width="57.0" height="16.24" fill="#efff10" shape-rendering="crispEdges"/><rect x="1125.5" y="1586.90" width="57.0" height="16.24" fill="#ffff00" shape-rendering="crispEdges"/><rect x="1125.5" y="1571.26" width="57.0" height="16.24" fill="#ffef00" shape-rendering="crispEdges"/><rect x="1125.5" y="1555.62" width="57.0" height="16.24" fill="#ffdf00" shape-rendering="crispEdges"/><rect x="1125.5" y="1539.99" width="57.0" height="16.24" fill="#ffcf00" shape-rendering="crispEdges"/><rect x="1125.5" y="1524.35" width="57.0" height="16.24" fill="#ffbf00" shape-rendering="crispEdges"/><rect x="1125.5" y="1508.71" width="57.0" height="16.24" fill="#ffaf00" shape-rendering="crispEdges"/><rect x="1125.5" y="1493.07" width="57.0" height="16.24" fill="#ff9f00" shape-rendering="crispEdges"/><rect x="1125.5" y="1477.44" width="57.0" height="16.24" fill="#ff8f00" shape-rendering="crispEdges"/><rect x="1125.5" y="1461.80" width="57.0" height="16.24" fill="#ff8000" shape-rendering="crispEdges"/><rect x="1125.5" y="1446.16" width="57.0" height="16.24" fill="#ff7000" shape-rendering="crispEdges"/><rect x="1125.5" y="1430.53" width="57.0" height="16.24" fill="#ff6000" shape-rendering="crispEdges"/><rect x="1125.5" y="1414.89" width="57.0" height="16.24" fill="#ff5000" shape-rendering="crispEdges"/><rect x="1125.5" y="1399.25" width="57.0" height="16.24" fill="#ff4000" shape-rendering="crispEdges"/><rect x="1125.5" y="1383.61" width="57.0" height="16.24" fill="#ff3000" shape-rendering="crispEdges"/><rect x="1125.5" y="1367.97" width="57.0" height="16.24" fill="#ff2000" shape-rendering="crispEdges"/><rect x="1125.5" y="1352.34" width="57.0" height="16.24" fill="#ff1000" shape-rendering="crispEdges"/><rect x="1125.5" y="1336.70" width="57.0" height="16.24" fill="#ff0000" shape-rendering="crispEdges"/><rect x="1125.5" y="1321.06" width="57.0" height="16.24" fill="#ef0000" shape-rendering="crispEdges"/><rect x="1125.5" y="1305.42" width="57.0" height="16.24" fill="#df0000" shape-rendering="crispEdges"/><rect x="1125.5" y="1289.79" width="57.0" height="16.24" fill="#cf0000" shape-rendering="crispEdges"/><rect x="1125.5" y="1274.15" width="57.0" height="16.24" fill="#bf0000" shape-rendering="crispEdges"/><rect x="1125.5" y="1258.51" width="57.0" height="16.24" fill="#af0000" shape-rendering="crispEdges"/><rect x="1125.5" y="1242.88" width="57.0" height="16.24" fill="#9f0000" shape-rendering="crispEdges"/><rect x="1125.5" y="1227.24" width="57.0" height="16.24" fill="#8f0000" shape-rendering="crispEdges"/><rect x="1125.5" y="1211.60" width="57.0" height="16.24" fill="#800000" shape-rendering="crispEdges"/><rect x="1125.5" y="1211.6" width="57.0" height="1000.8" fill="none" stroke="#000" stroke-width="1.1"/><path d="M1125.5,2135.5 h9 M1182.5,2135.5 h-9" stroke="#000" stroke-width="1.1"/><text x="1190.5" y="2145.5" class="tl">1</text><path d="M1125.5,2036.9 h9 M1182.5,2036.9 h-9" stroke="#000" stroke-width="1.1"/><text x="1190.5" y="2046.9" class="tl">2</text><path d="M1125.5,1938.3 h9 M1182.5,1938.3 h-9" stroke="#000" stroke-width="1.1"/><text x="1190.5" y="1948.3" class="tl">3</text><path d="M1125.5,1839.7 h9 M1182.5,1839.7 h-9" stroke="#000" stroke-width="1.1"/><text x="1190.5" y="1849.7" class="tl">4</text><path d="M1125.5,1741.1 h9 M1182.5,1741.1 h-9" stroke="#000" stroke-width="1.1"/><text x="1190.5" y="1751.1" class="tl">5</text><path d="M1125.5,1642.5 h9 M1182.5,1642.5 h-9" stroke="#000" stroke-width="1.1"/><text x="1190.5" y="1652.5" class="tl">6</text><path d="M1125.5,1543.9 h9 M1182.5,1543.9 h-9" stroke="#000" stroke-width="1.1"/><text x="1190.5" y="1553.9" class="tl">7</text><path d="M1125.5,1445.3 h9 M1182.5,1445.3 h-9" stroke="#000" stroke-width="1.1"/><text x="1190.5" y="1455.3" class="tl">8</text><path d="M1125.5,1346.7 h9 M1182.5,1346.7 h-9" stroke="#000" stroke-width="1.1"/><text x="1190.5" y="1356.7" class="tl">9</text><path d="M1125.5,1248.1 h9 M1182.5,1248.1 h-9" stroke="#000" stroke-width="1.1"/><text x="1190.5" y="1258.1" class="tl">10</text></svg></body></html>
